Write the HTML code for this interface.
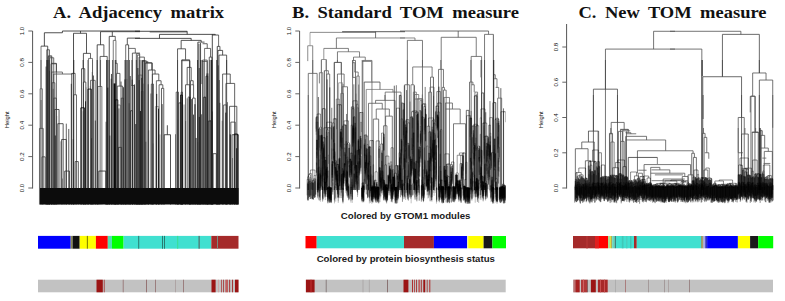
<!DOCTYPE html>
<html><head><meta charset="utf-8"><style>
html,body{margin:0;padding:0;background:#fff;width:785px;height:301px;overflow:hidden}
svg{display:block}
.tk{font-family:"Liberation Sans",sans-serif;font-size:6.2px;fill:#111}
.hl{font-family:"Liberation Sans",sans-serif;font-size:5.9px;fill:#111}
.ti{font-family:"Liberation Serif",serif;font-weight:bold;font-size:17px;fill:#111;word-spacing:3.5px;text-anchor:middle}
.st{font-family:"Liberation Sans",sans-serif;font-weight:bold;font-size:9.8px;fill:#1a1a1a;text-anchor:middle}
</style></head><body>
<svg width="785" height="301" viewBox="0 0 785 301" shape-rendering="auto">
<line x1="32.6" y1="188.5" x2="32.6" y2="31.0" stroke="#555" stroke-width="1"/>
<line x1="28.3" y1="188.0" x2="32.6" y2="188.0" stroke="#555" stroke-width="0.9"/>
<text x="0" y="0" transform="translate(24.0,188.0) rotate(-90)" text-anchor="middle" class="tk">0.0</text>
<line x1="28.3" y1="156.6" x2="32.6" y2="156.6" stroke="#555" stroke-width="0.9"/>
<text x="0" y="0" transform="translate(24.0,156.6) rotate(-90)" text-anchor="middle" class="tk">0.2</text>
<line x1="28.3" y1="125.2" x2="32.6" y2="125.2" stroke="#555" stroke-width="0.9"/>
<text x="0" y="0" transform="translate(24.0,125.2) rotate(-90)" text-anchor="middle" class="tk">0.4</text>
<line x1="28.3" y1="93.8" x2="32.6" y2="93.8" stroke="#555" stroke-width="0.9"/>
<text x="0" y="0" transform="translate(24.0,93.8) rotate(-90)" text-anchor="middle" class="tk">0.6</text>
<line x1="28.3" y1="62.4" x2="32.6" y2="62.4" stroke="#555" stroke-width="0.9"/>
<text x="0" y="0" transform="translate(24.0,62.4) rotate(-90)" text-anchor="middle" class="tk">0.8</text>
<line x1="28.3" y1="31.0" x2="32.6" y2="31.0" stroke="#555" stroke-width="0.9"/>
<text x="0" y="0" transform="translate(24.0,31.0) rotate(-90)" text-anchor="middle" class="tk">1.0</text>
<text x="0" y="0" transform="translate(9.3,119.8) rotate(-90)" text-anchor="middle" class="hl">Height</text>
<line x1="299.6" y1="188.5" x2="299.6" y2="31.0" stroke="#555" stroke-width="1"/>
<line x1="295.3" y1="188.0" x2="299.6" y2="188.0" stroke="#555" stroke-width="0.9"/>
<text x="0" y="0" transform="translate(291.0,188.0) rotate(-90)" text-anchor="middle" class="tk">0.0</text>
<line x1="295.3" y1="156.6" x2="299.6" y2="156.6" stroke="#555" stroke-width="0.9"/>
<text x="0" y="0" transform="translate(291.0,156.6) rotate(-90)" text-anchor="middle" class="tk">0.2</text>
<line x1="295.3" y1="125.2" x2="299.6" y2="125.2" stroke="#555" stroke-width="0.9"/>
<text x="0" y="0" transform="translate(291.0,125.2) rotate(-90)" text-anchor="middle" class="tk">0.4</text>
<line x1="295.3" y1="93.8" x2="299.6" y2="93.8" stroke="#555" stroke-width="0.9"/>
<text x="0" y="0" transform="translate(291.0,93.8) rotate(-90)" text-anchor="middle" class="tk">0.6</text>
<line x1="295.3" y1="62.4" x2="299.6" y2="62.4" stroke="#555" stroke-width="0.9"/>
<text x="0" y="0" transform="translate(291.0,62.4) rotate(-90)" text-anchor="middle" class="tk">0.8</text>
<line x1="295.3" y1="31.0" x2="299.6" y2="31.0" stroke="#555" stroke-width="0.9"/>
<text x="0" y="0" transform="translate(291.0,31.0) rotate(-90)" text-anchor="middle" class="tk">1.0</text>
<text x="0" y="0" transform="translate(276.3,119.8) rotate(-90)" text-anchor="middle" class="hl">Height</text>
<line x1="566.6" y1="188.5" x2="566.6" y2="24.0" stroke="#555" stroke-width="1"/>
<line x1="562.3000000000001" y1="188.0" x2="566.6" y2="188.0" stroke="#555" stroke-width="0.9"/>
<text x="0" y="0" transform="translate(558.0,188.0) rotate(-90)" text-anchor="middle" class="tk">0.0</text>
<line x1="562.3000000000001" y1="152.8" x2="566.6" y2="152.8" stroke="#555" stroke-width="0.9"/>
<text x="0" y="0" transform="translate(558.0,152.8) rotate(-90)" text-anchor="middle" class="tk">0.2</text>
<line x1="562.3000000000001" y1="117.5" x2="566.6" y2="117.5" stroke="#555" stroke-width="0.9"/>
<text x="0" y="0" transform="translate(558.0,117.5) rotate(-90)" text-anchor="middle" class="tk">0.4</text>
<line x1="562.3000000000001" y1="82.2" x2="566.6" y2="82.2" stroke="#555" stroke-width="0.9"/>
<text x="0" y="0" transform="translate(558.0,82.2) rotate(-90)" text-anchor="middle" class="tk">0.6</text>
<line x1="562.3000000000001" y1="47.0" x2="566.6" y2="47.0" stroke="#555" stroke-width="0.9"/>
<text x="0" y="0" transform="translate(558.0,47.0) rotate(-90)" text-anchor="middle" class="tk">0.8</text>
<text x="0" y="0" transform="translate(543.3,119.8) rotate(-90)" text-anchor="middle" class="hl">Height</text>
<text x="138.6" y="18.3" class="ti" textLength="171" lengthAdjust="spacingAndGlyphs">A. Adjacency matrix</text>
<text x="405.5" y="18.2" class="ti" textLength="227" lengthAdjust="spacingAndGlyphs">B. Standard TOM measure</text>
<text x="672.5" y="17.9" class="ti" textLength="188" lengthAdjust="spacingAndGlyphs">C. New TOM measure</text>
<text x="405.6" y="219" class="st" textLength="129.6" lengthAdjust="spacingAndGlyphs">Colored by GTOM1 modules</text>
<text x="405.8" y="262.4" class="st" textLength="178.3" lengthAdjust="spacingAndGlyphs">Colored by protein biosynthesis status</text>
<rect x="38" y="235.9" width="32.70" height="12.799999999999983" fill="#0000FF"/>
<rect x="70.7" y="235.9" width="1.90" height="12.799999999999983" fill="#8a8a50"/>
<rect x="72.6" y="235.9" width="7.10" height="12.799999999999983" fill="#111111"/>
<rect x="79.7" y="235.9" width="16.20" height="12.799999999999983" fill="#FFFF00"/>
<rect x="86.9" y="235.9" width="0.70" height="12.799999999999983" fill="#404000"/>
<rect x="95.9" y="235.9" width="11.90" height="12.799999999999983" fill="#FF0000"/>
<rect x="107.8" y="235.9" width="4.20" height="12.799999999999983" fill="#50e0b0"/>
<rect x="112" y="235.9" width="11.60" height="12.799999999999983" fill="#00FF00"/>
<rect x="123.6" y="235.9" width="87.70" height="12.799999999999983" fill="#40E0D0"/>
<rect x="138.2" y="235.9" width="1.00" height="12.799999999999983" fill="#2a7a70"/>
<rect x="162" y="235.9" width="1.00" height="12.799999999999983" fill="#2a7a70"/>
<rect x="164" y="235.9" width="1.00" height="12.799999999999983" fill="#2a7a70"/>
<rect x="177.2" y="235.9" width="1.00" height="12.799999999999983" fill="#38e090"/>
<rect x="198.6" y="235.9" width="1.00" height="12.799999999999983" fill="#555"/>
<rect x="211.3" y="235.9" width="27.20" height="12.799999999999983" fill="#A52A2A"/>
<rect x="217" y="235.9" width="1.00" height="12.799999999999983" fill="#7a8a80"/>
<rect x="38" y="279.7" width="200.50" height="12.600000000000023" fill="#C2C2C2"/>
<rect x="96.5" y="279.7" width="6.30" height="12.600000000000023" fill="#9b1414"/>
<rect x="103.8" y="279.7" width="0.80" height="12.600000000000023" fill="#a03030"/>
<rect x="122.8" y="279.7" width="0.70" height="12.600000000000023" fill="#8a6060"/>
<rect x="146" y="279.7" width="0.80" height="12.600000000000023" fill="#8a6060"/>
<rect x="155.3" y="279.7" width="0.70" height="12.600000000000023" fill="#8a6060"/>
<rect x="175" y="279.7" width="0.60" height="12.600000000000023" fill="#a09090"/>
<rect x="183" y="279.7" width="0.70" height="12.600000000000023" fill="#8a6060"/>
<rect x="211.5" y="279.7" width="4.10" height="12.600000000000023" fill="#9b1414"/>
<rect x="218.2" y="279.7" width="0.80" height="12.600000000000023" fill="#d0a0a0"/>
<rect x="221.2" y="279.7" width="0.80" height="12.600000000000023" fill="#b04040"/>
<rect x="223.2" y="279.7" width="0.80" height="12.600000000000023" fill="#a03030"/>
<rect x="225.3" y="279.7" width="2.70" height="12.600000000000023" fill="#c06060"/>
<rect x="229.3" y="279.7" width="0.80" height="12.600000000000023" fill="#9b1414"/>
<rect x="232.2" y="279.7" width="0.80" height="12.600000000000023" fill="#9b1414"/>
<rect x="235" y="279.7" width="3.50" height="12.600000000000023" fill="#9b1414"/>
<rect x="305.5" y="236" width="11.20" height="12.300000000000011" fill="#FF0000"/>
<rect x="316.7" y="236" width="87.30" height="12.300000000000011" fill="#40E0D0"/>
<rect x="404" y="236" width="29.90" height="12.300000000000011" fill="#A52A2A"/>
<rect x="433.9" y="236" width="33.10" height="12.300000000000011" fill="#0000FF"/>
<rect x="467" y="236" width="1.20" height="12.300000000000011" fill="#f0f0a0"/>
<rect x="468.2" y="236" width="15.40" height="12.300000000000011" fill="#FFFF00"/>
<rect x="483.6" y="236" width="8.80" height="12.300000000000011" fill="#1a1a1a"/>
<rect x="492.4" y="236" width="13.60" height="12.300000000000011" fill="#00FF00"/>
<rect x="305.9" y="279.7" width="199.80" height="12.600000000000023" fill="#C2C2C2"/>
<rect x="305.9" y="279.7" width="8.70" height="12.600000000000023" fill="#9b1414"/>
<rect x="310.5" y="279.7" width="1.00" height="12.600000000000023" fill="#c03030"/>
<rect x="325.8" y="279.7" width="0.70" height="12.600000000000023" fill="#706060"/>
<rect x="362.7" y="279.7" width="0.60" height="12.600000000000023" fill="#a09a9a"/>
<rect x="368.9" y="279.7" width="0.60" height="12.600000000000023" fill="#a09a9a"/>
<rect x="387.1" y="279.7" width="0.70" height="12.600000000000023" fill="#705050"/>
<rect x="403.5" y="279.7" width="4.90" height="12.600000000000023" fill="#9b1414"/>
<rect x="412" y="279.7" width="1.00" height="12.600000000000023" fill="#b03030"/>
<rect x="414.2" y="279.7" width="0.80" height="12.600000000000023" fill="#b03030"/>
<rect x="416.2" y="279.7" width="0.80" height="12.600000000000023" fill="#a02020"/>
<rect x="418.3" y="279.7" width="2.00" height="12.600000000000023" fill="#c06060"/>
<rect x="421.3" y="279.7" width="0.70" height="12.600000000000023" fill="#a02020"/>
<rect x="423.3" y="279.7" width="1.90" height="12.600000000000023" fill="#9b1414"/>
<rect x="426.8" y="279.7" width="0.70" height="12.600000000000023" fill="#a02020"/>
<rect x="429.3" y="279.7" width="1.00" height="12.600000000000023" fill="#b03030"/>
<rect x="573" y="236" width="22.10" height="12.300000000000011" fill="#A52A2A"/>
<rect x="586" y="236" width="2.00" height="12.300000000000011" fill="#b03030"/>
<rect x="595.1" y="236" width="12.90" height="12.300000000000011" fill="#FF0000"/>
<rect x="595.1" y="236" width="3.90" height="12.300000000000011" fill="#e02020"/>
<rect x="608" y="236" width="2.00" height="12.300000000000011" fill="#a8e090"/>
<rect x="610" y="236" width="1.30" height="12.300000000000011" fill="#e0e040"/>
<rect x="611.3" y="236" width="0.90" height="12.300000000000011" fill="#909030"/>
<rect x="612.2" y="236" width="2.50" height="12.300000000000011" fill="#60d8c0"/>
<rect x="614.7" y="236" width="1.20" height="12.300000000000011" fill="#2a6a60"/>
<rect x="615.9" y="236" width="18.10" height="12.300000000000011" fill="#40E0D0"/>
<rect x="621.8" y="236" width="1.70" height="12.300000000000011" fill="#40c8b8"/>
<rect x="626" y="236" width="1.50" height="12.300000000000011" fill="#48d0c0"/>
<rect x="630.2" y="236" width="1.20" height="12.300000000000011" fill="#40c0b0"/>
<rect x="634" y="236" width="2.80" height="12.300000000000011" fill="#A52A2A"/>
<rect x="636.8" y="236" width="64.30" height="12.300000000000011" fill="#40E0D0"/>
<rect x="701.1" y="236" width="0.70" height="12.300000000000011" fill="#555"/>
<rect x="701.8" y="236" width="0.80" height="12.300000000000011" fill="#e0d020"/>
<rect x="702.6" y="236" width="0.80" height="12.300000000000011" fill="#444"/>
<rect x="703.4" y="236" width="1.80" height="12.300000000000011" fill="#a8a8e8"/>
<rect x="705.2" y="236" width="1.90" height="12.300000000000011" fill="#3030c0"/>
<rect x="707.1" y="236" width="30.80" height="12.300000000000011" fill="#0000FF"/>
<rect x="737.9" y="236" width="12.20" height="12.300000000000011" fill="#FFFF00"/>
<rect x="750.1" y="236" width="8.10" height="12.300000000000011" fill="#1a1a1a"/>
<rect x="758.2" y="236" width="15.00" height="12.300000000000011" fill="#00FF00"/>
<rect x="573" y="279.7" width="200.00" height="12.600000000000023" fill="#C2C2C2"/>
<rect x="573.4" y="279.7" width="1.60" height="12.600000000000023" fill="#c07070"/>
<rect x="575.3" y="279.7" width="4.40" height="12.600000000000023" fill="#a82020"/>
<rect x="581" y="279.7" width="6.00" height="12.600000000000023" fill="#b03838"/>
<rect x="583" y="279.7" width="1.00" height="12.600000000000023" fill="#d06060"/>
<rect x="587.4" y="279.7" width="0.60" height="12.600000000000023" fill="#602020"/>
<rect x="590.9" y="279.7" width="4.90" height="12.600000000000023" fill="#9b1414"/>
<rect x="597.9" y="279.7" width="9.80" height="12.600000000000023" fill="#a82828"/>
<rect x="600" y="279.7" width="1.00" height="12.600000000000023" fill="#c85050"/>
<rect x="604" y="279.7" width="1.00" height="12.600000000000023" fill="#c85050"/>
<rect x="615.2" y="279.7" width="0.60" height="12.600000000000023" fill="#a0a0a0"/>
<rect x="625.3" y="279.7" width="0.70" height="12.600000000000023" fill="#a06060"/>
<rect x="648.3" y="279.7" width="0.60" height="12.600000000000023" fill="#908080"/>
<rect x="664.1" y="279.7" width="0.60" height="12.600000000000023" fill="#908080"/>
<rect x="668.3" y="279.7" width="0.60" height="12.600000000000023" fill="#a09090"/>
<rect x="689" y="279.7" width="0.60" height="12.600000000000023" fill="#806060"/>
<path d="M51.24 80.48V204.50" stroke="rgb(211,211,211)" stroke-width="0.8" fill="none"/>
<path d="M86.30 87.32V204.50" stroke="rgb(185,185,185)" stroke-width="0.8" fill="none"/>
<path d="M56.79 116.00V204.50" stroke="rgb(171,171,171)" stroke-width="0.8" fill="none"/>
<path d="M90.29 86.15V204.50" stroke="rgb(157,157,157)" stroke-width="0.8" fill="none"/>
<path d="M155.40 106.51V204.50M155.40 106.51H158.77M158.77 106.51V204.50" stroke="rgb(156,156,156)" stroke-width="0.8" fill="none"/>
<path d="M150.51 93.53V204.50" stroke="rgb(152,152,152)" stroke-width="0.8" fill="none"/>
<path d="M338.64 82.82V190.00M338.64 82.82H342.60M342.60 82.82V190.00" stroke="rgb(151,151,151)" stroke-width="0.8" fill="none"/>
<path d="M310.03 32.36V45.73M371.56 61.34V81.40" stroke="rgb(150,150,150)" stroke-width="0.8" fill="none"/>
<path d="M143.36 83.61V204.50" stroke="rgb(146,146,146)" stroke-width="0.8" fill="none"/>
<path d="M355.51 77.39V190.00" stroke="rgb(140,140,140)" stroke-width="0.8" fill="none"/>
<path d="M60.80 141.31V204.50" stroke="rgb(133,133,133)" stroke-width="0.8" fill="none"/>
<path d="M62.43 178.56V204.50M159.93 134.45V204.50M366.21 89.43H392.96" stroke="rgb(130,130,130)" stroke-width="0.8" fill="none"/>
<path d="M151.89 93.46V204.50" stroke="rgb(129,129,129)" stroke-width="0.8" fill="none"/>
<path d="M422.30 94.45V190.00" stroke="rgb(125,125,125)" stroke-width="0.8" fill="none"/>
<path d="M117.20 105.00V204.50M117.20 105.00H120.27M120.27 105.00V204.50" stroke="rgb(124,124,124)" stroke-width="0.8" fill="none"/>
<path d="M137.16 73.22V204.50M307.76 45.73H312.71M323.81 48.41V59.51M321.40 59.51H326.48M321.40 59.51V190.00M326.48 59.51V190.00M738.22 128.00V152.75" stroke="rgb(120,120,120)" stroke-width="0.8" fill="none"/>
<path d="M184.05 104.49V204.50" stroke="rgb(118,118,118)" stroke-width="0.8" fill="none"/>
<path d="M232.47 158.01V204.50M401.87 101.91V190.00" stroke="rgb(117,117,117)" stroke-width="0.8" fill="none"/>
<path d="M336.30 99.14V190.00M336.30 99.14H339.34M339.34 99.14V190.00" stroke="rgb(114,114,114)" stroke-width="0.8" fill="none"/>
<path d="M87.84 60.00V204.50M310.03 32.36H375.58M307.76 45.73V61.12M336.38 37.97H405.00M337.45 51.75H359.52M400.00 37.97H414.98M321.40 60.00V72.71M322.74 72.71V190.00M366.21 89.43V190.00M392.96 89.43V92.10M413.38 92.10H416.32M413.38 92.10V190.00M416.32 92.10V190.00M414.71 94.51H418.73M414.71 94.51V190.00M418.73 94.51V190.00M417.39 98.79H422.74M417.39 98.79V190.00M422.74 98.79V190.00M612.54 133.35V142.04" stroke="rgb(110,110,110)" stroke-width="0.8" fill="none"/>
<path d="M703.04 95.00V119.08" stroke="rgb(110,110,110)" stroke-width="1.2" fill="none"/>
<path d="M598.36 130.94V190.00" stroke="rgb(110,110,110)" stroke-width="1.5" fill="none"/>
<path d="M129.12 103.22V204.50" stroke="rgb(108,108,108)" stroke-width="0.8" fill="none"/>
<path d="M358.69 84.55V190.00" stroke="rgb(105,105,105)" stroke-width="0.8" fill="none"/>
<path d="M91.82 138.20V204.50" stroke="rgb(104,104,104)" stroke-width="0.8" fill="none"/>
<path d="M436.81 91.57V190.00M436.81 91.57H440.60M440.60 91.57V190.00" stroke="rgb(103,103,103)" stroke-width="0.8" fill="none"/>
<path d="M430.02 87.11V190.00M430.02 87.11H433.98M433.98 87.11V190.00" stroke="rgb(101,101,101)" stroke-width="0.8" fill="none"/>
<path d="M48.07 56.69V204.50M48.07 56.69H51.66M51.66 56.69V204.50M83.28 111.28V204.50M312.71 45.73V190.00M323.81 48.41H348.42M334.11 62.45H341.47M334.11 62.45V190.00M341.47 62.45V190.00M359.52 51.75V57.10M353.50 57.10H365.28M365.28 57.10V60.45M362.87 60.45H371.96M362.87 60.45V190.00M371.96 60.45V190.00M414.98 37.97V40.38M319.40 72.71H322.74M319.40 72.71V83.41M326.08 60.00V70.70M328.36 70.70V74.04M342.13 86.75H347.49M342.13 86.75V93.44M340.80 93.44H343.47M340.80 93.44V190.00M343.47 93.44V190.00M354.57 72.04H358.19M358.19 72.04V76.05M385.21 92.10H400.99M385.21 92.10V190.00M400.99 92.10V190.00M412.71 66.96H432.10M412.71 66.96V84.75M410.97 84.75H414.04M410.97 84.75V190.00M414.04 84.75V190.00M444.14 97.45H449.49M444.14 97.45V190.00M449.49 97.45V190.00M474.91 92.10H477.58M474.91 92.10V190.00M477.58 92.10V190.00M480.93 60.00V77.39M495.64 87.42H498.72M498.72 87.42V98.12M497.65 98.12H501.66M497.65 98.12V190.00M501.66 98.12V190.00M308.29 95.00V190.00M414.71 99.01H422.07M414.71 99.01V190.00M422.07 99.01V190.00M410.03 101.56V190.00M772.73 95.00V127.77M594.34 142.04V190.00M598.76 152.75H601.43M598.76 152.75V190.00M601.43 152.75V190.00M610.80 142.04H614.14M610.80 142.04V190.00M614.14 142.04V190.00M657.36 157.43V164.07M651.54 180.68H688.09" stroke="rgb(100,100,100)" stroke-width="0.8" fill="none"/>
<path d="M355.83 93.60V190.00" stroke="rgb(99,99,99)" stroke-width="0.8" fill="none"/>
<path d="M489.98 101.09V190.00" stroke="rgb(98,98,98)" stroke-width="0.8" fill="none"/>
<path d="M353.84 84.30V190.00M396.35 85.22V190.00M471.14 110.95V190.00" stroke="rgb(97,97,97)" stroke-width="0.8" fill="none"/>
<path d="M185.61 121.03V204.50M331.78 107.77V190.00M425.19 86.93V190.00" stroke="rgb(96,96,96)" stroke-width="0.8" fill="none"/>
<path d="M222.23 120.75V204.50M476.81 93.68V190.00" stroke="rgb(94,94,94)" stroke-width="0.8" fill="none"/>
<path d="M152.99 143.48V204.50M41.02 46.13V204.50M88.50 58.44H92.52M88.50 58.44V204.50M92.52 58.44V204.50M204.56 48.41V204.50M41.02 60.00V88.76M40.08 88.76H42.36M40.08 88.76V204.50M42.36 88.76V204.50M92.52 60.00V80.33M100.54 60.00V86.48M141.02 60.00V204.50M203.22 61.34V204.50M443.58 96.94V190.00" stroke="rgb(93,93,93)" stroke-width="0.8" fill="none"/>
<path d="M175.50 134.22V204.50M406.54 90.07V190.00" stroke="rgb(92,92,92)" stroke-width="0.8" fill="none"/>
<path d="M343.12 84.10V190.00" stroke="rgb(91,91,91)" stroke-width="0.8" fill="none"/>
<path d="M336.38 37.97V48.41M348.42 48.41V51.75M337.45 51.75V62.45M353.50 57.10V60.45M352.57 60.45H355.51M352.57 60.45V190.00M355.51 60.45V190.00M441.20 37.31H476.24M441.20 37.31V190.00M476.24 37.31V56.43M471.16 56.43H481.59M471.16 56.43V190.00M481.59 56.43V190.00M488.55 31.02V34.36M484.54 34.36H493.37M484.54 34.36V190.00M407.36 40.38H422.47M407.36 40.38V190.00M422.47 40.38V190.00M312.71 60.00V73.38M308.29 73.38H317.12M308.29 73.38V190.00M317.12 73.38V190.00M324.34 70.70H328.36M326.75 74.04H329.70M326.75 74.04V190.00M329.70 74.04V190.00M337.45 60.00V62.41M334.51 62.41H341.20M334.51 62.41V190.00M341.20 62.41V74.04M337.45 74.04H344.14M337.45 74.04V190.00M344.14 74.04V86.75M347.49 86.75V190.00M352.84 62.68H354.84M352.84 77.39H355.51M354.84 62.68V72.04M356.85 76.05H359.12M356.85 76.05V190.00M359.12 76.05V190.00M362.20 60.00V190.00M362.20 61.34H371.56M407.36 60.00V84.75M404.68 84.75H409.36M404.68 84.75V190.00M409.36 84.75V190.00M422.47 60.00V66.96M432.10 66.96V77.12M430.50 77.12H433.44M430.50 77.12V92.10M428.76 92.10H431.43M428.76 92.10V190.00M431.43 92.10V190.00M440.80 60.00V69.36M438.52 69.36H443.47M438.52 69.36V190.00M443.47 69.36V87.42M442.13 87.42H444.41M442.13 87.42V190.00M444.41 87.42V90.10M443.47 90.10H446.15M443.47 90.10V190.00M446.15 90.10V190.00M470.89 60.00V82.07M469.56 82.07H472.90M472.90 82.07V84.75M471.56 84.75H474.24M474.24 84.75V92.10M481.59 60.00V190.00M493.63 74.71H495.24M495.24 74.71V78.73M494.30 78.73H496.98M496.98 78.73V87.42M384.94 95.00V100.35M375.58 100.35H394.97M375.58 100.35V103.29M368.49 103.29H382.26M368.49 103.29V190.00M382.26 103.29V109.04M376.24 109.04H389.35M376.24 109.04V119.08M373.30 119.08H378.65M373.30 119.08V190.00M378.65 119.08V190.00M389.35 109.04V116.13M385.61 116.13H392.30M385.61 116.13V125.77M383.60 125.77H386.94M383.60 125.77V190.00M386.94 125.77V190.00M392.30 116.13V190.00M445.21 103.03H452.43M452.43 103.03V109.04M445.48 109.04H460.19M445.48 103.03V190.00M460.19 109.04V123.76M453.50 123.76H465.54M453.50 123.76V190.00M465.54 123.76V190.00M622.84 130.85H630.19M626.18 133.79H636.21M750.26 96.34V112.39M750.26 96.34H755.21M625.51 132.68H630.86M630.86 132.68V134.02M704.78 152.75H708.79M708.79 152.75V158.77M738.22 152.75H742.90M760.96 148.06H768.31M768.31 148.06V151.41M764.30 151.41H772.33M772.33 151.41V190.00M764.30 151.41V190.00M762.30 158.10H766.31M763.63 163.45H770.32M625.80 139.98H665.66M637.43 150.78H693.07M644.07 164.57H690.58M650.71 167.39H659.85M659.85 167.39V169.88M651.54 169.88H669.82M669.82 169.88V173.21M650.71 173.21H684.77M684.77 173.21V176.53M682.28 176.53H688.09M682.28 176.53V190.00M688.09 176.53V190.00M654.87 174.87H683.11M663.17 179.02H684.77M663.17 179.02V190.00M638.26 170.22H646.56M638.26 173.21H642.41M638.26 173.21V190.00M642.41 173.21V190.00M639.92 176.53H644.07M639.92 176.53V190.00M644.07 176.53V190.00" stroke="rgb(90,90,90)" stroke-width="0.8" fill="none"/>
<path d="M138.48 75.07V204.50M138.48 75.07H142.00M142.00 75.07V204.50" stroke="rgb(89,89,89)" stroke-width="0.8" fill="none"/>
<path d="M113.25 40.38H115.93M113.25 40.38V204.50M115.93 40.38V204.50M137.73 68.03V204.50M136.34 60.00V204.50" stroke="rgb(88,88,88)" stroke-width="0.8" fill="none"/>
<path d="M188.20 96.96V204.50M188.20 96.96H190.15M190.15 96.96V204.50" stroke="rgb(87,87,87)" stroke-width="0.8" fill="none"/>
<path d="M126.93 78.93V204.50" stroke="rgb(85,85,85)" stroke-width="0.8" fill="none"/>
<path d="M414.46 85.45V190.00" stroke="rgb(83,83,83)" stroke-width="0.8" fill="none"/>
<path d="M73.21 139.11V204.50M92.30 72.00V204.50M41.05 100.00V128.42M51.72 72.04H62.42M62.42 72.04V74.04M51.72 72.04V204.50M90.51 80.33H95.19M90.51 80.33V204.50M95.19 80.33V204.50M97.87 86.48H101.88M97.87 86.48V204.50M101.88 86.48V204.50M139.68 60.00V80.06M346.64 113.96V190.00" stroke="rgb(82,82,82)" stroke-width="0.8" fill="none"/>
<path d="M125.29 60.00V204.50M127.03 60.00V204.50" stroke="rgb(82,82,82)" stroke-width="1.5" fill="none"/>
<path d="M197.60 60.00V204.50" stroke="rgb(82,82,82)" stroke-width="1.2" fill="none"/>
<path d="M218.20 65.35V204.50" stroke="rgb(82,82,82)" stroke-width="1.0" fill="none"/>
<path d="M227.45 102.17V204.50M497.18 122.93V190.00" stroke="rgb(81,81,81)" stroke-width="0.8" fill="none"/>
<path d="M187.19 98.30V204.50M375.58 31.69V37.97M458.19 31.02V37.31M352.84 60.00V77.39M364.21 82.07V190.00M379.99 82.07V89.43M469.56 82.07V190.00M653.60 31.29H675.00M653.60 31.29V49.08M605.45 49.08H675.00M605.45 49.08V190.00M670.00 31.29H740.89M740.89 31.29V34.36M670.00 49.08H701.84M701.84 49.08V190.00M701.84 60.00V190.00M702.77 76.72V190.00M752.66 72.97H766.04M752.66 72.97V96.12M750.93 96.12H754.94M750.93 96.12V190.00M754.94 96.12V190.00M766.04 72.97V80.06M759.35 80.06H772.73M772.73 80.06V190.00M611.20 122.42H624.17M611.20 122.42V133.79M609.86 133.79H612.13M609.86 133.79V190.00M612.13 133.79V190.00M624.17 122.42V129.78M620.56 129.78H628.86M620.56 129.78V190.00M622.84 130.05V190.00M738.22 117.47H744.24M738.22 117.47V190.00M744.24 117.47V190.00M755.21 96.34V132.45M751.86 132.45H758.28M581.77 142.04H594.34M581.77 142.04V148.73M575.35 148.73H588.06M575.35 148.73V190.00M588.06 148.73V160.77M585.38 160.77H590.73M585.38 160.77V190.00M590.73 160.77V190.00M610.80 128.00V133.35M609.46 133.35H612.54M609.46 133.35V190.00M620.16 129.34H628.19M618.42 131.34H622.43M618.42 131.34V190.00M622.43 131.34V141.38M620.83 141.38H624.17M620.83 141.38V190.00M624.17 141.38V190.00M628.19 129.34V132.68M626.45 131.34V190.00M703.44 128.00V133.35M702.37 133.35H705.05M702.37 133.35V190.00M705.05 133.35V137.36M704.11 137.36H706.78M704.11 137.36V190.00M706.78 137.36V152.75M744.91 128.00V134.02M741.56 134.02H748.25M741.56 134.02V156.09M752.26 132.01V190.00M752.26 132.01H758.28M755.61 128.00V132.01M760.29 130.68H762.30M762.30 130.68V135.36M760.69 135.36H764.70M764.70 135.36V148.06M760.96 135.36V190.00M625.80 136.33H646.56M646.56 136.33V139.98M665.66 139.98V150.78M637.43 150.78V173.21M693.07 150.78V153.27M691.74 153.27H694.40M691.74 153.27V190.00M694.40 153.27V157.43M693.41 157.43H696.40M693.41 157.43V190.00M696.40 157.43V190.00M644.07 164.57V190.00M690.58 164.57V174.87M688.09 174.87H693.07M688.09 174.87V190.00M693.07 174.87V190.00M650.71 167.39V190.00" stroke="rgb(80,80,80)" stroke-width="0.8" fill="none"/>
<path d="M702.24 60.00V76.05" stroke="rgb(80,80,80)" stroke-width="1.2" fill="none"/>
<path d="M181.74 96.77V204.50" stroke="rgb(79,79,79)" stroke-width="0.8" fill="none"/>
<path d="M148.70 130.30V204.50" stroke="rgb(78,78,78)" stroke-width="0.8" fill="none"/>
<path d="M39.47 128.42H43.26M39.47 128.42V204.50M43.26 128.42V204.50M125.69 44.80V204.50M128.63 48.41H135.32M135.32 48.41V53.09M53.73 74.04H72.45M156.40 80.73V204.50" stroke="rgb(77,77,77)" stroke-width="0.8" fill="none"/>
<path d="M137.68 68.03V204.50" stroke="rgb(77,77,77)" stroke-width="1.5" fill="none"/>
<path d="M216.86 60.00V204.50" stroke="rgb(77,77,77)" stroke-width="1.2" fill="none"/>
<path d="M53.22 88.80V204.50" stroke="rgb(76,76,76)" stroke-width="0.8" fill="none"/>
<path d="M416.70 115.03V190.00M466.30 110.35V190.00M466.30 110.35H468.93M468.93 110.35V190.00M503.52 108.36V190.00" stroke="rgb(75,75,75)" stroke-width="0.8" fill="none"/>
<path d="M351.38 106.90V190.00M351.38 106.90H353.79M353.79 106.90V190.00M433.52 95.82V190.00" stroke="rgb(72,72,72)" stroke-width="0.8" fill="none"/>
<path d="M46.77 49.75H49.45M46.77 49.75V204.50M49.45 49.75V204.50M48.38 55.77H51.72M48.38 55.77V204.50M51.72 55.77V204.50M49.71 57.77H53.73M49.71 57.77V204.50M53.73 57.77V204.50M51.05 63.79H56.40M51.05 63.79V204.50M56.40 63.79V204.50M137.33 55.10H140.00M137.33 55.10V204.50M149.71 31.96H187.17M204.56 48.41H210.58M218.60 35.03V46.40M117.26 63.34V73.38M136.66 60.00V204.50M159.08 84.75V204.50M201.88 60.00V84.08" stroke="rgb(71,71,71)" stroke-width="0.8" fill="none"/>
<path d="M199.21 68.03V204.50" stroke="rgb(71,71,71)" stroke-width="1.0" fill="none"/>
<path d="M400.00 31.02H488.55M364.21 82.07H379.99M484.54 60.00V190.00M722.43 34.36H759.35M722.43 34.36V76.63M759.35 34.36V73.02M605.45 60.00V89.16M593.41 89.16H617.49M593.41 89.16V190.00M617.49 89.16V190.00M722.43 60.00V76.72M702.77 76.72H741.56M741.56 76.72V190.00M759.35 60.00V72.97M759.35 80.06V190.00M593.41 95.00V131.12M588.46 131.12H598.36M617.49 95.00V122.42M741.56 95.00V117.47M759.35 95.00V190.00M760.96 129.78V190.00M588.46 130.94V142.04M628.29 157.43V190.00" stroke="rgb(70,70,70)" stroke-width="0.8" fill="none"/>
<path d="M197.67 142.03V204.50" stroke="rgb(68,68,68)" stroke-width="0.8" fill="none"/>
<path d="M223.63 104.95V204.50M223.63 104.95H226.67M226.67 104.95V204.50M500.83 88.14V190.00" stroke="rgb(67,67,67)" stroke-width="0.8" fill="none"/>
<path d="M177.74 119.76V204.50M42.00 156.84H45.16M42.00 156.84V204.50M45.16 156.84V204.50M90.51 53.36V58.44M115.26 36.37V40.38M125.69 44.80H128.63M181.82 59.78H189.57M181.82 59.78V204.50M189.57 59.78V204.50M202.55 60.05H207.23M202.55 60.05V204.50M207.23 60.05V204.50M136.34 53.76H139.68M136.34 53.76V204.50M139.68 53.76V204.50M139.01 57.10H144.36M139.01 57.10V204.50M144.36 57.10V204.50M142.36 61.12H147.04M142.36 61.12V204.50M147.04 61.12V204.50M145.03 63.12H152.39M145.03 63.12V204.50M152.39 63.12V204.50M53.73 74.04V82.74M53.73 98.12H56.40M53.73 98.12V204.50M56.40 98.12V204.50M73.79 94.78H76.47M73.79 94.78V204.50M76.47 94.78V204.50M109.24 60.00V204.50M112.58 60.00V204.50M115.93 60.00V63.34M115.26 63.34H117.26M116.59 73.38H119.94M119.94 73.38V86.08M121.28 98.12H123.28M121.28 98.12V204.50M123.28 98.12V204.50M152.39 74.04V204.50M156.40 80.73H161.08M151.32 84.08H153.46M151.32 84.08V204.50M153.46 84.08V204.50M177.54 60.00V204.50M176.20 92.10H178.47M176.20 92.10V204.50M178.47 92.10V204.50M181.82 60.00V204.50M191.18 84.75H193.59M193.59 84.75V98.12M192.52 98.12H195.19M192.52 98.12V204.50M195.19 98.12V204.50M207.23 61.34V204.50M209.91 60.00V204.50M394.30 85.70V190.00M481.54 92.96V190.00M481.54 92.96H483.72M483.72 92.96V190.00" stroke="rgb(66,66,66)" stroke-width="0.8" fill="none"/>
<path d="M139.28 80.06V204.50" stroke="rgb(66,66,66)" stroke-width="1.5" fill="none"/>
<path d="M485.76 112.24V190.00" stroke="rgb(65,65,65)" stroke-width="0.8" fill="none"/>
<path d="M66.30 123.65V204.50" stroke="rgb(62,62,62)" stroke-width="0.8" fill="none"/>
<path d="M230.82 122.10H235.24M230.82 122.10V204.50M235.24 122.10V204.50M100.54 31.69H140.00M100.14 56.43H107.23M100.14 56.43V204.50M107.23 56.43V204.50M132.38 53.09H140.00M132.38 53.09V204.50M177.54 48.81V204.50M185.56 48.81V59.78M202.55 43.73H207.23M207.23 43.73V48.41M210.58 48.41V57.10M209.24 57.10H211.91M209.24 57.10V204.50M211.91 57.10V204.50M51.05 63.34H56.40M56.40 63.34V72.04M52.12 82.74H54.80M52.12 82.74V204.50M54.80 82.74V204.50M75.13 73.38V94.78M83.42 82.07H85.83M83.42 82.07V204.50M85.83 82.07V204.50M116.59 73.38V204.50M117.26 86.08H122.61M117.26 86.08V204.50M122.61 86.08V204.50M131.31 85.41H133.98M133.98 85.41V204.50M143.03 60.00V91.43M141.42 91.43H143.29M141.42 91.43V204.50M143.29 91.43V204.50M145.70 62.68V204.50M148.38 70.03V204.50M152.39 74.04H158.81M158.81 74.04V80.73M161.08 80.73V84.75M159.08 84.75H162.82M162.82 84.75V88.36M161.48 88.36H163.76M161.48 88.36V204.50M163.76 88.36V204.50M181.15 92.10H182.49M181.15 92.10V204.50M182.49 92.10V204.50M185.56 84.75H189.84M185.56 84.75V204.50M189.84 84.75V204.50M190.51 80.73H193.19M190.51 80.73V204.50M193.19 80.73V84.75M201.88 61.34H207.23M219.27 80.06V204.50M222.61 74.04V204.50M225.96 83.41H234.65M225.96 83.41V204.50M234.65 83.41V204.50M493.37 34.36V190.00M404.33 85.41V190.00M433.44 77.12V190.00M394.97 100.35V190.00M748.25 134.02V190.00M758.28 132.01V190.00M625.80 136.33V190.00" stroke="rgb(60,60,60)" stroke-width="0.8" fill="none"/>
<path d="M118.93 108.43V204.50" stroke="rgb(58,58,58)" stroke-width="0.8" fill="none"/>
<path d="M148.28 84.24V204.50M178.85 102.92V204.50M178.85 102.92H181.67M181.67 102.92V204.50M322.40 108.66V190.00M322.40 108.66H325.06M325.06 108.66V190.00" stroke="rgb(56,56,56)" stroke-width="0.8" fill="none"/>
<path d="M106.10 121.74V204.50M145.77 141.74V204.50M229.56 106.32H236.82M229.56 106.32V204.50M236.82 106.32V204.50M232.08 134.73H238.40M232.08 134.73V204.50M238.40 134.73V204.50M103.89 44.80V56.43M177.54 48.81H185.56M217.26 46.40H219.94M219.94 46.40V50.41M219.00 55.10H226.63M219.00 55.10V204.50M226.63 55.10V204.50M84.76 68.69V82.07M131.98 60.00V85.41M143.03 60.67H145.70M145.03 62.01H148.38M145.70 62.68H151.72M151.72 62.68V70.03M148.38 70.03H155.06M155.06 70.03V74.04M187.17 67.36V84.75M191.18 67.36V80.73M222.61 74.04H230.24M230.24 74.04V83.41M318.30 97.03V190.00" stroke="rgb(55,55,55)" stroke-width="0.8" fill="none"/>
<path d="M210.38 120.22V204.50M327.07 79.44V190.00" stroke="rgb(52,52,52)" stroke-width="0.8" fill="none"/>
<path d="M130.48 110.72V204.50M130.48 110.72H132.45M132.45 110.72V204.50M342.13 31.69H405.00M324.34 70.70V190.00M628.29 157.43H657.36" stroke="rgb(50,50,50)" stroke-width="0.8" fill="none"/>
<path d="M493.63 60.00V190.00" stroke="rgb(50,50,50)" stroke-width="1.2" fill="none"/>
<path d="M759.89 128.00V190.00" stroke="rgb(50,50,50)" stroke-width="1.5" fill="none"/>
<path d="M49.49 70.88V204.50M75.15 161.57H78.31M75.15 161.57V204.50M78.31 161.57V204.50M118.41 147.36H121.57M118.41 147.36V204.50M121.57 147.36V204.50M213.14 153.68H216.30M213.14 153.68V204.50M216.30 153.68V204.50M54.63 109.47H59.05M54.63 109.47V204.50M59.05 109.47V204.50M57.79 123.68H63.15M57.79 123.68V204.50M63.15 123.68V204.50M61.58 139.47H66.31M61.58 139.47V204.50M66.31 139.47V204.50M64.73 171.05H69.47M64.73 171.05V204.50M69.47 171.05V204.50M80.48 31.02V33.29M83.42 53.36H90.51M83.42 53.36V204.50M127.30 38.11V44.80M128.63 44.80V204.50M212.31 35.03H218.60M217.93 50.41H222.61M222.61 50.41V55.10M46.77 60.00V204.50M81.55 68.69H84.76M139.33 80.06V204.50M144.36 60.00V204.50M181.82 60.67H189.84M187.17 67.36H191.18M200.54 60.00V204.50M226.63 60.00V74.04" stroke="rgb(49,49,49)" stroke-width="0.8" fill="none"/>
<path d="M121.03 81.56V204.50M201.66 114.31V204.50" stroke="rgb(48,48,48)" stroke-width="0.8" fill="none"/>
<path d="M68.78 128.95V204.50M208.34 121.06V204.50M208.34 121.06H211.95M211.95 121.06V204.50" stroke="rgb(47,47,47)" stroke-width="0.8" fill="none"/>
<path d="M212.28 111.46V204.50" stroke="rgb(46,46,46)" stroke-width="0.8" fill="none"/>
<path d="M493.00 102.63V190.00M493.00 102.63H495.72M495.72 102.63V190.00" stroke="rgb(45,45,45)" stroke-width="0.8" fill="none"/>
<path d="M71.30 83.80V204.50M95.33 120.58V204.50M41.02 46.13H47.71M47.71 46.13V204.50M73.52 33.29H86.50M86.50 33.29V53.36M97.20 44.80H103.89M112.31 31.69V36.37M109.24 36.37H115.26M181.15 40.38H201.21M181.15 40.38V48.81M201.21 40.38V42.12M197.87 42.12H204.56M215.26 34.36V35.03M49.04 60.00V204.50M71.78 73.38H75.13M83.15 60.00V68.69M81.55 68.69V204.50M189.84 60.67V67.36M207.90 73.38V204.50" stroke="rgb(44,44,44)" stroke-width="0.8" fill="none"/>
<path d="M474.42 95.83V190.00M474.42 95.83H476.92M476.92 95.83V190.00" stroke="rgb(42,42,42)" stroke-width="0.8" fill="none"/>
<path d="M162.13 104.12V204.50" stroke="rgb(41,41,41)" stroke-width="0.8" fill="none"/>
<path d="M399.37 95.37V190.00M399.37 95.37H400.99M400.99 95.37V190.00" stroke="rgb(40,40,40)" stroke-width="0.8" fill="none"/>
<path d="M329.76 87.42V190.00" stroke="rgb(39,39,39)" stroke-width="0.8" fill="none"/>
<path d="M98.83 171.05H105.78M98.83 171.05V204.50M105.78 171.05V204.50M164.20 134.73H170.51M164.20 134.73V204.50M170.51 134.73V204.50M167.35 125.26V134.73M62.42 31.02V32.76M44.36 32.76H62.42M44.36 32.76V46.13M100.54 31.69V44.80M97.20 44.80V204.50M109.24 36.37V204.50M127.30 38.11H140.00M187.17 31.29V34.36M159.48 34.36V38.38M135.00 38.38H191.18M191.18 38.38V40.38M197.87 42.12V204.50M198.94 43.73V204.50M73.79 60.00V73.38M97.20 60.00V204.50M106.56 60.00V204.50M115.26 60.00V204.50M142.36 60.00V204.50M206.96 73.38V204.50" stroke="rgb(38,38,38)" stroke-width="0.8" fill="none"/>
<path d="M211.51 60.00V204.50" stroke="rgb(38,38,38)" stroke-width="1.5" fill="none"/>
<path d="M123.50 87.23V204.50" stroke="rgb(37,37,37)" stroke-width="0.8" fill="none"/>
<path d="M46.10 66.55V204.50" stroke="rgb(36,36,36)" stroke-width="0.8" fill="none"/>
<path d="M93.38 75.50V204.50M111.47 73.96V204.50M219.80 102.82V204.50" stroke="rgb(34,34,34)" stroke-width="0.8" fill="none"/>
<path d="M62.42 31.02H140.00M73.52 33.29V204.50M135.00 31.29H187.17M159.48 34.36H215.26M200.54 43.06V204.50M212.31 34.36V204.50M217.26 46.40V204.50M217.93 50.41V204.50M47.71 60.00V204.50M71.78 73.38V204.50M107.90 60.00V204.50M111.24 78.73V204.50M129.30 60.00V204.50M130.24 76.05V204.50M438.88 86.68V190.00" stroke="rgb(33,33,33)" stroke-width="0.8" fill="none"/>
<path d="M109.79 135.60V204.50" stroke="rgb(32,32,32)" stroke-width="0.8" fill="none"/>
<path d="M205.99 76.13V204.50M205.99 76.13H207.73M207.73 76.13V204.50" stroke="rgb(31,31,31)" stroke-width="0.8" fill="none"/>
<path d="M132.17 79.71V204.50" stroke="rgb(30,30,30)" stroke-width="0.8" fill="none"/>
<path d="M134.50 84.43V204.50" stroke="rgb(28,28,28)" stroke-width="0.8" fill="none"/>
<path d="M141.70 77.91V204.50" stroke="rgb(27,27,27)" stroke-width="0.8" fill="none"/>
<path d="M193.54 114.61V204.50" stroke="rgb(25,25,25)" stroke-width="0.8" fill="none"/>
<path d="M203.79 97.15V204.50M203.79 97.15H205.65M205.65 97.15V204.50" stroke="rgb(18,18,18)" stroke-width="0.8" fill="none"/>
<path d="M125.00 79.37V204.50" stroke="rgb(16,16,16)" stroke-width="0.8" fill="none"/>
<path d="M199.30 116.95V204.50" stroke="rgb(14,14,14)" stroke-width="0.8" fill="none"/>
<path d="M55.30 135.49V204.50" stroke="rgb(13,13,13)" stroke-width="0.8" fill="none"/>
<path d="M135.79 124.05V204.50" stroke="rgb(11,11,11)" stroke-width="0.8" fill="none"/>
<path d="M114.59 83.41V204.50" stroke="rgb(11,11,11)" stroke-width="2.0" fill="none"/>
<path d="M115.30 99.88V204.50M115.30 99.88H117.84M117.84 99.88V204.50" stroke="rgb(9,9,9)" stroke-width="0.8" fill="none"/>
<path d="M225.79 112.63V204.50" stroke="rgb(7,7,7)" stroke-width="0.8" fill="none"/>
<path d="M85.56 101.31V204.50" stroke="rgb(1,1,1)" stroke-width="0.8" fill="none"/>
<path d="M80.80 107.81V204.50M80.80 107.81H84.45M84.45 107.81V204.50M87.95 89.09V204.50M87.95 89.09H91.37M91.37 89.09V204.50M107.82 87.64V204.50M140.47 111.03V204.50M156.70 93.91V204.50M158.52 108.68V204.50M180.52 95.05V204.50M180.52 95.05H182.33M182.33 95.05V204.50M189.79 96.96V204.50M191.76 99.12V204.50M194.94 104.19V204.50M196.08 137.94V204.50M230.30 134.38V204.50M234.22 134.04V204.50M234.22 134.04H237.59M237.59 134.04V204.50M236.63 148.21V204.50" stroke="rgb(0,0,0)" stroke-width="0.8" fill="none"/>
<path d="M316.06 118.49V128.79M316.11 118.49V131.87M316.19 121.91V134.84M316.27 161.94V172.98M316.33 161.94V172.38M316.43 117.49V130.68M316.51 148.32V157.91M316.59 163.02V172.73M316.64 163.02V175.27M316.73 162.67V176.18M316.79 152.14V165.38M316.90 140.16V154.35M316.98 140.16V149.40M317.02 140.27V149.74M317.14 140.27V150.07M317.22 142.93V155.98M317.28 142.93V158.38M317.36 179.80V192.08M317.41 182.53V191.88M317.48 183.19V197.30M317.59 184.60V195.93M317.64 184.60V198.33M317.73 178.87V192.05M317.80 178.87V188.25M317.87 179.05V193.09M317.97 179.05V190.65M318.05 181.87V192.91M318.14 181.87V191.30M318.20 174.69V189.11M318.29 177.80V189.25M318.36 177.80V187.63M318.44 166.86V177.17M318.51 166.86V176.63M318.58 130.79V140.05M318.69 184.16V196.36M318.77 184.16V199.63M318.84 170.96V181.76M318.91 173.94V185.29M318.97 177.04V188.76M319.04 177.07V191.48M319.12 177.07V191.61M319.19 186.84V200.18M319.30 187.11V200.83M319.36 187.11V197.34M319.46 159.89V172.11M319.51 135.99V147.63M319.62 135.99V150.50M319.69 183.12V197.12M319.73 183.12V197.81M319.81 182.77V196.19M319.92 172.69V186.66M319.98 172.75V188.59M320.08 172.75V185.41M320.13 174.07V183.13M320.19 175.49V187.38M320.30 175.49V190.89M320.38 175.49V187.68M320.43 187.99V201.67M320.50 187.99V199.96M320.59 176.03V190.29M320.70 176.03V188.00M320.77 167.84V177.65M320.81 170.31V183.47M320.90 170.31V179.31M320.97 170.24V186.02M321.04 140.88V153.21M321.15 140.88V154.65M321.20 135.27V150.96M321.30 176.25V188.83M321.37 176.25V185.83M321.44 175.17V186.99M321.54 135.17V144.23M321.59 136.27V148.74M321.69 136.68V149.91M321.74 136.68V149.35M321.83 136.68V151.70M321.90 136.25V148.89M321.98 144.90V159.04M322.09 165.56V176.63M322.16 165.56V181.01M322.21 135.51V145.88M322.28 167.00V178.75M322.37 172.57V186.76M322.47 172.57V181.73M322.52 187.60V198.21M322.59 187.60V201.84M322.70 186.63V200.52M322.76 186.63V196.90M322.85 186.63V198.62M322.90 186.63V200.24M322.99 186.63V198.71M323.08 183.81V193.43M323.13 183.81V199.04M323.21 172.63V183.39M323.31 172.63V186.36M323.40 163.05V175.46M323.48 163.05V176.55M323.52 148.45V157.32M323.61 148.81V158.34M323.70 148.81V161.51M323.77 150.76V165.34M323.85 150.76V162.78M323.91 167.80V179.80M323.98 167.80V181.98M324.06 155.17V167.92M324.13 155.17V169.34M324.24 178.95V193.62M324.31 178.95V191.09M324.39 178.95V193.68M324.45 177.37V191.17M324.53 177.37V189.73M324.61 179.11V192.01M324.71 179.11V194.52M324.80 182.05V196.64M324.87 182.15V197.91M324.91 182.15V196.20M324.99 173.38V183.45M325.10 173.38V187.64M325.16 182.56V192.95M325.25 187.39V196.65M325.31 187.39V200.12M325.39 182.56V197.03M325.47 160.38V175.65M325.54 160.38V174.55M325.63 166.46V178.78M325.68 182.05V195.69M325.79 182.05V194.40M325.87 181.81V194.48M325.92 170.00V184.94M326.01 178.46V194.15M326.10 178.46V191.87M326.16 171.12V182.96M326.23 171.12V182.95M326.30 168.66V179.64M326.40 175.85V191.19M326.45 175.85V184.91M326.57 168.69V181.73M326.64 168.69V181.81M326.72 174.48V189.42M326.80 174.48V186.77M326.87 171.90V186.25M326.93 171.90V181.36M327.02 184.39V196.99M327.09 184.39V196.90M327.19 167.22V177.73M327.26 167.22V179.26M327.31 167.22V177.80M327.42 187.59V197.32M327.49 187.60V202.81M327.57 187.60V201.40M327.65 187.63V199.43M327.71 187.90V198.20M327.81 187.90V200.61M327.88 187.64V203.62M327.95 187.64V201.24M328.03 187.63V196.92M328.11 187.69V197.37M328.17 187.69V199.70M328.26 187.59V202.61M328.31 176.03V188.89M328.40 176.03V188.12M328.48 155.01V163.89M328.54 187.83V197.99M328.63 187.83V199.35M328.72 187.73V200.59M328.80 187.73V201.75M328.86 186.72V196.53M328.97 186.72V196.81M329.03 186.72V198.41M329.09 187.26V199.18M329.19 187.90V202.22M329.26 187.90V202.61M329.34 187.56V199.14M329.41 187.27V201.30M329.51 187.54V198.73M329.57 187.54V198.81M329.65 187.77V202.09M329.73 187.77V203.07M329.82 187.59V200.53M329.85 187.59V197.82M329.96 187.54V203.06M330.04 187.73V199.87M330.10 187.73V197.42M330.18 187.98V200.81M330.24 187.98V198.68M330.32 187.93V198.81M330.41 187.99V200.06M330.47 187.99V199.69M330.56 187.98V202.41M330.67 187.98V202.23M330.73 187.99V201.40M330.80 187.99V202.29M330.90 187.70V197.53M330.96 187.71V200.26M331.06 187.71V198.41M331.12 187.84V200.02M331.20 187.84V202.10M331.25 187.84V202.06M331.35 187.84V202.80M331.43 187.85V203.17M331.48 187.85V200.44M331.59 187.70V200.28M331.64 125.68V139.76M331.73 125.68V138.79M331.79 148.65V159.21M331.88 170.42V186.22M331.97 170.42V182.64M332.04 164.73V177.78M332.12 164.73V175.18M332.22 164.34V175.13M332.29 164.34V177.74M332.37 164.45V177.57M332.44 164.74V174.73M332.52 164.74V180.66M332.58 161.71V171.85M332.67 179.68V191.81M332.74 182.73V193.84M332.80 182.73V195.01M332.90 182.73V191.76M332.97 161.89V177.77M333.04 171.18V185.53M333.11 171.18V180.79M333.21 137.82V150.92M333.27 153.31V163.41M333.38 153.31V163.20M333.45 132.99V142.01M333.52 132.99V142.61M333.59 127.50V137.59M333.69 148.97V158.08M333.73 148.97V160.03M333.82 148.87V161.90M333.91 148.87V159.51M333.99 148.87V158.82M334.07 156.06V165.83M334.13 156.06V170.22M334.23 156.04V168.59M334.29 187.26V200.07M334.37 187.26V199.46M334.46 187.54V201.50M334.53 187.54V203.37M334.61 151.33V164.10M334.68 151.58V163.00M334.78 152.39V161.48M334.86 153.87V165.14M334.94 153.87V167.68M334.99 163.10V174.41M335.10 163.17V173.44M335.17 163.28V175.49M335.22 163.28V175.61M335.31 167.32V176.46M335.41 167.55V180.09M335.49 174.74V188.21M335.53 174.74V185.10M335.64 183.75V197.76M335.72 186.77V201.61M335.79 186.77V198.81M335.86 167.25V182.20M335.93 169.49V178.52M336.04 169.49V180.54M336.12 168.85V182.74M336.18 169.03V178.89M336.24 169.03V179.30M336.35 161.62V173.20M336.43 161.62V176.66M336.48 118.75V129.18M336.55 171.17V181.35M336.62 171.26V180.07M336.70 173.25V185.99M336.81 173.25V188.16M336.88 170.68V184.99M336.97 175.72V190.46M337.06 175.72V185.67M337.10 179.32V189.91M337.20 179.32V190.46M337.29 174.36V184.44M337.33 174.17V186.67M337.43 179.38V194.29M337.51 179.38V191.87M337.60 183.00V193.63M337.68 183.47V197.42M337.72 183.50V194.71M337.82 185.22V198.11M337.87 185.22V197.05M337.97 179.11V193.67M338.04 179.11V189.58M338.11 179.11V189.24M338.20 185.77V201.29M338.27 187.91V202.98M338.36 187.91V198.11M338.43 185.72V197.43M338.50 187.33V197.36M338.59 187.33V196.61M338.67 165.91V175.73M338.73 165.91V178.86M338.84 171.40V185.96M338.89 171.40V181.26M338.96 158.99V169.43M339.05 158.99V171.27M339.14 159.55V169.44M339.20 159.55V168.38M339.30 159.55V170.77M339.38 172.92V183.27M339.45 175.70V185.86M339.54 175.70V186.59M339.59 182.55V198.15M339.68 182.55V195.23M339.76 166.81V181.04M339.82 167.16V177.48M339.92 167.16V182.87M339.98 171.36V185.94M340.08 171.36V186.11M340.16 169.97V185.62M340.23 169.97V181.67M340.30 135.50V150.82M340.38 136.49V146.83M340.44 136.49V146.59M340.54 146.61V156.53M340.64 146.61V158.09M340.70 132.09V142.21M340.77 131.46V140.42M340.86 132.75V143.02M340.92 132.75V147.89M341.01 185.62V198.01M341.10 186.62V195.92M341.19 186.62V198.23M341.24 178.13V188.46M341.33 179.94V193.27M341.42 179.94V192.38M341.49 175.61V188.49M341.56 175.03V186.60M341.64 175.03V185.48M341.71 176.49V185.52M341.79 176.49V189.80M341.86 132.82V148.32M341.96 132.82V142.71M342.04 137.76V149.59M342.09 137.76V149.02M342.19 162.88V175.61M342.28 162.88V172.40M342.33 173.33V186.94M342.43 173.35V185.50M342.47 173.61V189.40M342.59 186.85V201.62M342.64 186.85V200.33M342.71 168.57V182.42M342.81 187.89V202.67M342.88 187.89V200.40M342.97 187.88V203.58M343.04 187.88V201.69M343.12 187.84V202.30M343.18 184.98V196.31M343.28 184.98V197.64M343.32 171.32V183.96M343.43 172.85V182.59M343.50 172.85V182.29M343.56 172.91V183.48M343.66 173.60V186.64M343.72 173.60V183.62M343.80 169.98V184.61M343.89 171.62V183.34M343.94 174.56V186.33M344.02 174.56V183.43M344.11 144.22V155.94M344.16 163.80V177.33M344.26 164.95V180.90M344.35 164.95V177.78M344.41 163.47V176.58M344.48 163.59V175.16M344.58 163.59V177.06M344.66 163.99V178.80M344.73 163.99V173.23M344.80 152.39V164.93M344.90 152.39V164.98M344.97 152.39V166.47M345.01 153.34V167.09M345.10 163.66V177.95M345.17 163.66V176.18M345.24 163.66V177.89M345.33 154.28V163.47M345.43 155.88V165.29M345.51 155.88V171.77M345.55 172.24V185.66M345.63 172.24V181.45M345.72 172.22V186.52M345.82 173.37V188.90M345.88 178.79V192.89M345.97 178.79V190.60M346.01 141.30V155.51M346.13 141.30V152.82M346.17 144.10V156.10M346.27 144.10V159.36M346.36 180.48V190.39M346.43 180.48V191.25M346.48 180.66V190.90M346.58 180.66V194.52M346.65 170.59V184.08M346.70 171.16V183.22M346.80 171.16V184.20M346.87 170.24V182.37M346.96 172.09V182.74M347.02 172.09V181.35M347.12 180.54V196.37M347.20 180.54V195.89M347.25 180.63V190.77M347.32 182.01V191.89M347.43 182.01V197.96M347.49 172.03V183.23M347.56 172.03V181.92M347.63 159.54V175.19M347.75 172.68V187.69M347.81 177.96V192.27M347.87 179.48V193.24M347.94 179.48V190.90M348.06 186.21V196.80M348.12 186.21V197.12M348.20 186.22V195.57M348.26 186.22V195.23M348.33 185.70V195.44M348.42 185.70V195.14M348.48 187.08V198.09M348.58 187.13V199.84M348.65 187.13V199.39M348.74 186.71V200.45M348.80 148.29V163.86M348.88 157.42V166.96M348.96 161.58V172.61M349.06 161.58V176.66M349.11 148.05V161.78M349.20 148.05V163.01M349.26 165.16V177.75M349.35 165.22V177.61M349.41 165.30V177.59M349.52 165.30V175.07M349.57 165.30V176.26M349.67 186.55V198.88M349.74 186.55V199.60M349.81 184.50V198.23M349.90 152.71V162.14M349.96 152.71V165.25M350.02 159.09V168.27M350.13 159.14V174.86M350.21 159.14V172.35M350.25 159.14V168.40M350.33 159.09V170.08M350.44 159.09V172.84M350.51 159.09V169.70M350.58 181.42V194.11M350.66 181.42V193.54M350.75 184.20V194.17M350.82 184.20V196.66M350.86 187.03V202.55M350.94 187.04V200.90M351.06 187.07V195.89M351.14 187.07V199.32M351.21 164.24V175.06M351.27 164.24V173.40M351.34 163.96V176.96M351.42 161.94V173.61M351.48 161.93V171.03M351.59 160.91V172.26M351.65 160.95V176.42M351.74 160.95V174.41M351.81 160.92V174.68M351.88 182.02V192.09M351.98 184.94V194.06M352.04 184.94V199.56M352.11 186.75V200.19M352.22 187.07V202.90M352.26 187.07V197.02M352.34 155.14V165.81M352.42 184.82V198.85M352.51 184.82V199.27M352.60 184.82V199.91M352.65 134.76V147.10M352.73 134.76V146.32M352.82 132.94V146.20M352.88 132.94V142.59M352.97 128.92V140.08M353.04 128.92V144.65M353.14 128.92V143.30M353.19 128.33V139.53M353.27 127.69V138.50M353.35 116.91V131.16M353.43 124.42V134.96M353.52 124.42V135.58M353.60 152.89V164.78M353.68 152.89V165.11M353.74 175.93V188.53M353.80 175.93V186.10M353.91 173.73V188.05M353.96 128.47V142.94M354.04 128.47V141.48M354.12 173.28V187.17M354.23 174.23V189.88M354.28 174.27V187.04M354.35 174.27V189.33M354.46 174.27V190.24M354.54 156.49V168.05M354.59 156.49V170.64M354.65 166.83V177.39M354.76 174.26V189.73M354.84 174.26V187.65M354.89 155.53V169.65M354.99 155.53V170.59M355.05 142.63V156.20M355.12 142.63V152.90M355.21 126.82V138.58M355.30 132.17V143.67M355.36 170.48V182.17M355.46 170.48V184.11M355.50 150.98V165.33M355.59 155.24V169.17M355.67 155.24V165.91M355.73 155.24V168.46M355.85 148.85V159.25M355.89 165.80V178.52M355.97 165.80V181.71M356.08 165.65V179.68M356.16 165.65V181.29M356.23 165.35V177.72M356.28 165.39V178.97M356.39 165.39V176.28M356.43 175.87V185.37M356.53 175.87V188.77M356.62 175.87V191.53M356.66 165.70V176.66M356.74 171.84V183.38M356.84 172.02V184.70M356.92 172.02V183.68M356.99 150.36V162.68M357.08 150.36V164.17M357.14 150.36V160.68M357.21 150.36V164.22M357.27 176.08V191.48M357.36 181.29V191.18M357.47 181.29V197.04M357.50 181.26V192.52M357.59 181.25V192.61M357.67 181.25V195.13M357.73 162.76V173.19M357.82 163.50V178.42M357.90 163.50V177.66M357.97 168.87V180.67M358.07 168.87V184.21M358.14 149.32V159.22M358.22 159.28V169.67M358.31 159.28V168.23M358.37 139.82V150.78M358.47 139.82V148.73M358.51 140.86V151.59M358.59 140.88V153.37M358.66 141.68V154.96M358.75 141.68V155.23M358.83 170.63V186.52M358.91 178.76V189.86M358.99 178.76V188.39M359.07 161.73V173.32M359.15 161.73V175.20M359.23 162.55V175.60M359.32 162.55V173.30M359.40 149.33V159.57M359.44 150.65V160.32M359.51 150.65V164.01M359.60 158.50V170.85M359.67 158.50V170.07M359.78 161.22V172.61M359.85 161.22V174.41M359.91 159.87V169.61M359.99 159.87V171.44M360.10 146.40V156.82M360.17 139.16V153.44M360.24 154.81V164.67M360.32 154.86V165.40M360.40 154.86V168.32M360.46 145.68V155.85M360.54 145.68V155.28M360.62 137.78V147.80M360.72 137.78V150.44M360.80 156.06V168.28M360.87 156.06V167.28M360.95 156.06V167.68M360.99 159.80V171.36M361.08 159.80V173.70M361.19 139.64V148.73M361.25 140.23V154.07M361.32 140.23V155.69M361.39 122.48V136.79M361.49 122.48V132.09M361.55 188.00V199.93M361.65 188.00V200.97M361.69 188.00V198.73M361.81 188.00V201.61M361.84 188.00V199.43M361.93 188.00V196.81M362.01 188.00V196.81M362.10 188.00V196.81M362.16 186.44V195.71M362.26 186.93V202.46M362.35 186.93V198.76M362.41 186.95V200.95M362.50 186.95V201.37M362.57 184.54V197.65M362.64 185.46V198.19M362.70 185.47V198.92M362.79 185.47V196.93M362.89 187.29V198.77M362.96 187.29V196.91M363.02 187.04V200.46M363.10 182.78V195.81M363.19 187.24V202.25M363.25 187.24V200.91M363.34 185.83V201.65M363.42 185.80V197.97M363.47 185.80V198.07M363.56 185.80V201.15M363.66 185.84V201.77M363.71 185.84V200.34M363.79 186.83V202.32M363.90 186.83V200.54M363.95 185.80V200.76M364.05 179.16V188.81M364.12 179.16V191.54M364.21 179.16V192.60M364.29 144.64V156.06M364.35 152.80V167.91M364.43 152.80V168.58M364.48 146.88V158.64M364.57 146.88V158.32M364.64 158.83V173.70M364.74 159.87V170.94M364.80 159.87V169.40M364.88 169.68V181.20M364.98 169.69V182.34M365.05 169.69V184.09M365.10 140.67V155.23M365.18 140.67V156.18M365.26 162.76V174.58M365.34 162.76V172.16M365.41 171.60V183.77M365.52 171.60V183.91M365.59 162.72V173.38M365.66 162.74V176.47M365.72 162.74V172.43M365.81 160.19V174.45M365.88 160.19V173.64M365.99 157.78V167.72M366.04 157.78V170.40M366.10 174.40V188.57M366.21 174.40V189.40M366.28 184.50V194.31M366.34 184.50V194.52M366.44 155.34V164.15M366.53 155.34V168.08M366.58 155.34V166.06M366.66 155.34V169.67M366.76 148.85V161.73M366.83 153.36V168.18M366.91 154.53V164.61M366.99 154.53V168.77M367.04 168.22V177.89M367.13 168.26V183.61M367.20 169.70V179.16M367.28 169.70V180.55M367.37 170.73V186.44M367.46 170.73V179.72M367.51 185.17V197.93M367.58 187.09V198.41M367.67 187.09V196.48M367.73 185.07V195.48M367.80 183.90V197.65M367.90 183.90V197.16M368.00 163.00V177.01M368.08 173.99V185.52M368.15 173.99V186.18M368.20 163.01V175.33M368.30 163.01V178.54M368.37 163.01V172.27M368.44 175.71V190.83M368.50 175.71V190.10M368.61 175.16V189.23M368.67 175.16V184.40M368.77 185.27V197.52M368.82 185.27V196.51M368.90 152.01V163.57M369.00 155.54V166.58M369.04 155.54V164.47M369.14 168.98V182.14M369.21 168.98V180.30M369.27 187.23V196.96M369.37 187.83V203.43M369.46 187.83V201.37M369.50 146.82V162.09M369.59 184.07V198.24M369.70 184.07V198.39M369.77 151.06V165.20M369.83 151.06V160.84M369.89 161.65V177.11M370.01 177.67V186.79M370.06 177.67V192.91M370.14 177.67V193.61M370.22 176.75V190.54M370.30 176.75V188.19M370.37 166.17V176.10M370.45 187.03V196.81M370.54 187.03V202.80M370.60 177.04V191.63M370.67 179.74V190.74M370.75 179.76V191.07M370.86 179.76V195.68M370.92 173.94V186.10M370.99 175.90V190.92M371.07 175.90V189.11M371.13 175.05V186.47M371.23 187.55V200.34M371.32 187.89V200.83M371.36 187.93V200.40M371.46 187.93V199.30M371.51 187.88V197.01M371.62 186.92V201.87M371.67 186.92V200.12M371.75 186.86V200.69M371.86 187.82V203.79M371.93 187.82V197.58M372.01 186.90V196.64M372.05 186.90V201.08M372.13 187.10V199.57M372.23 187.10V197.83M372.29 187.93V202.02M372.38 187.93V196.89M372.46 187.10V202.30M372.56 187.10V202.53M372.62 186.91V197.53M372.68 185.95V200.70M372.77 186.65V198.68M372.84 186.66V198.83M372.92 188.00V201.85M373.03 188.00V199.17M373.09 186.78V199.37M373.17 186.82V197.00M373.22 186.82V195.63M373.30 186.79V202.53M373.41 175.84V190.05M373.49 186.55V196.53M373.56 187.79V197.20M373.62 187.79V196.72M373.72 187.39V198.40M373.80 187.39V197.55M373.87 187.36V199.26M373.94 183.84V194.60M374.01 183.84V197.08M374.07 181.32V190.58M374.15 182.75V194.88M374.23 182.75V192.13M374.33 183.00V197.94M374.41 183.32V198.94M374.46 183.32V193.00M374.54 183.80V197.31M374.63 183.80V193.38M374.70 181.84V196.88M374.76 181.84V194.62M374.84 187.37V198.04M374.93 187.37V196.50M375.02 186.78V198.54M375.10 186.78V200.23M375.15 186.81V200.03M375.23 187.67V200.84M375.33 187.67V198.56M375.37 187.24V202.46M375.49 187.24V198.53M375.57 187.83V202.19M375.64 187.86V197.38M375.68 187.92V198.68M375.80 187.92V199.33M375.85 188.00V199.53M375.95 188.00V200.90M376.00 188.00V198.58M376.08 187.96V198.38M376.16 187.96V197.74M376.23 187.96V202.56M376.30 180.22V191.15M376.41 182.69V192.25M376.47 187.02V202.71M376.53 187.02V200.22M376.63 186.91V200.71M376.72 184.03V197.59M376.77 185.09V197.28M376.86 185.09V194.90M376.93 184.40V195.19M377.00 184.40V193.93M377.09 187.00V198.36M377.15 187.00V198.24M377.24 187.00V196.93M377.34 187.18V201.61M377.38 187.22V200.59M377.49 187.22V199.97M377.54 187.26V200.92M377.65 187.48V201.64M377.71 187.48V199.10M377.78 187.04V202.24M377.88 187.14V202.12M377.94 187.14V199.17M377.99 187.32V202.28M378.10 187.32V198.78M378.17 187.94V200.81M378.26 187.95V203.37M378.34 187.95V198.46M378.39 187.95V199.23M378.46 187.14V199.09M378.55 187.18V200.44M378.63 187.24V197.75M378.73 187.24V203.07M378.77 187.08V198.92M378.86 187.08V196.92M378.93 187.74V203.38M379.03 187.74V201.89M379.11 148.82V158.00M379.17 168.25V182.73M379.27 183.38V197.11M379.30 183.38V194.99M379.39 183.38V195.59M379.46 167.50V181.15M379.54 174.11V186.39M379.65 174.11V184.36M379.73 169.33V182.36M379.79 169.33V178.79M379.87 184.71V195.91M379.94 187.96V198.57M380.01 187.96V202.11M380.10 173.03V188.97M380.18 167.50V182.46M380.23 170.98V185.28M380.34 178.58V187.52M380.42 179.44V188.36M380.48 179.44V192.34M380.55 172.44V182.57M380.63 170.68V182.49M380.73 174.23V186.36M380.79 181.40V197.29M380.85 181.40V196.16M380.95 177.71V190.88M381.01 177.71V189.60M381.11 177.63V188.16M381.17 177.72V188.81M381.25 177.89V190.83M381.31 177.89V193.17M381.42 178.96V191.64M381.50 178.96V193.42M381.54 178.96V188.30M381.62 171.13V187.11M381.72 161.53V174.79M381.78 161.53V177.19M381.84 179.74V190.16M381.94 179.74V190.94M382.04 166.52V179.65M382.11 166.52V180.05M382.18 165.09V178.13M382.24 153.52V166.41M382.31 175.00V189.19M382.43 175.00V184.26M382.47 170.74V181.02M382.56 177.42V190.19M382.65 177.51V186.62M382.71 177.51V190.28M382.79 171.56V183.16M382.85 181.52V195.06M382.96 181.52V192.38M383.04 175.01V190.28M383.09 182.36V193.82M383.17 182.36V192.94M383.27 179.99V190.69M383.32 179.99V190.06M383.42 185.97V199.85M383.48 187.12V198.54M383.57 187.12V198.28M383.66 187.08V200.35M383.70 137.09V150.44M383.79 137.15V150.39M383.87 139.46V150.22M383.96 139.46V150.49M384.03 185.90V200.31M384.10 185.90V200.62M384.17 182.77V196.09M384.27 182.77V194.29M384.33 180.51V191.99M384.42 183.83V196.46M384.50 184.89V199.34M384.56 184.89V197.33M384.65 183.01V196.77M384.70 183.01V192.06M384.80 182.79V195.26M384.88 183.02V198.39M384.97 183.02V195.41M385.04 184.82V200.12M385.11 184.82V194.05M385.20 184.81V195.13M385.25 186.01V197.03M385.34 186.01V199.13M385.40 186.01V195.65M385.48 185.86V200.02M385.56 185.87V199.25M385.63 185.87V199.20M385.75 185.87V197.41M385.80 184.93V197.20M385.91 186.55V201.41M385.96 186.55V200.67M386.01 184.96V200.74M386.12 184.96V200.30M386.21 184.92V197.80M386.26 186.47V202.31M386.34 186.47V198.60M386.41 184.98V198.02M386.49 187.42V202.55M386.59 187.42V198.71M386.65 187.81V203.60M386.73 187.95V199.06M386.81 187.95V197.15M386.90 187.72V202.19M386.96 187.72V196.69M387.06 187.72V199.96M387.11 187.89V199.83M387.22 187.89V198.23M387.26 187.92V200.72M387.37 187.92V200.83M387.45 187.91V198.10M387.51 187.91V199.84M387.60 185.71V200.22M387.67 185.71V197.09M387.72 185.50V195.58M387.84 185.50V194.98M387.90 175.11V186.65M387.98 175.56V190.46M388.07 175.56V190.86M388.13 175.54V189.22M388.20 175.54V184.91M388.30 175.54V191.13M388.37 175.54V190.94M388.45 177.38V190.26M388.52 177.38V187.41M388.62 177.23V186.78M388.69 177.23V192.68M388.76 176.84V188.51M388.82 176.84V188.16M388.91 176.32V189.45M388.98 183.27V193.48M389.07 183.27V195.37M389.13 182.12V191.03M389.23 166.48V178.84M389.29 166.48V180.87M389.38 169.97V180.87M389.43 169.97V183.29M389.54 166.44V178.20M389.61 166.45V178.73M389.66 166.45V181.85M389.76 168.57V182.51M389.81 172.56V182.63M389.90 179.61V190.91M390.00 179.61V195.12M390.07 174.09V189.17M390.13 174.09V186.02M390.22 180.11V196.09M390.31 180.11V191.63M390.40 180.11V193.17M390.47 169.24V183.64M390.54 169.71V183.02M390.62 169.71V182.94M390.69 169.71V183.94M390.76 177.86V191.17M390.87 177.86V191.99M390.92 185.38V199.08M391.00 185.38V198.58M391.07 186.14V198.64M391.15 186.14V202.00M391.24 185.46V196.86M391.32 179.21V190.48M391.38 179.94V189.33M391.46 179.94V193.35M391.55 187.94V200.80M391.63 187.94V201.49M391.71 184.94V194.23M391.78 184.94V199.64M391.86 184.43V197.58M391.92 187.96V198.11M392.03 187.96V202.17M392.11 184.36V199.30M392.17 187.54V202.43M392.23 187.64V197.27M392.33 187.64V198.08M392.40 187.66V200.27M392.49 187.69V198.91M392.56 187.69V199.01M392.62 187.66V197.96M392.74 182.88V195.07M392.79 182.88V195.87M392.89 177.08V186.48M392.94 177.08V189.15M393.01 179.90V195.33M393.09 179.90V188.77M393.17 177.07V191.88M393.27 177.07V191.88M393.35 183.52V199.05M393.41 183.52V193.64M393.48 177.29V186.52M393.55 177.29V190.47M393.65 177.58V191.52M393.74 177.58V191.68M393.78 177.52V188.88M393.88 186.61V197.04M393.94 186.61V195.76M394.06 184.16V194.71M394.14 184.16V193.55M394.21 177.99V189.98M394.26 177.99V187.36M394.37 175.81V189.72M394.43 176.59V186.00M394.48 176.59V190.52M394.57 176.84V187.41M394.68 176.84V190.85M394.75 178.02V190.86M394.82 179.80V191.40M394.90 187.41V200.19M394.94 187.41V203.30M395.06 187.91V197.16M395.11 187.91V201.03M395.21 187.98V203.34M395.28 187.98V196.79M395.35 187.51V197.45M395.43 187.51V201.92M395.53 187.62V199.05M395.60 187.62V203.39M395.66 187.62V200.17M395.76 187.62V203.25M395.80 187.50V202.44M395.89 187.50V198.66M395.96 187.53V203.44M396.03 187.61V200.16M396.12 187.61V196.64M396.18 187.61V197.24M396.30 187.49V196.34M396.37 187.49V197.92M396.43 187.60V196.42M396.49 187.60V198.16M396.58 187.94V203.22M396.68 187.94V203.73M396.73 187.96V199.81M396.80 187.96V200.89M396.89 187.88V199.90M396.98 187.96V203.48M397.04 187.97V199.95M397.12 187.97V197.38M397.21 166.05V179.38M397.30 166.06V179.83M397.36 175.94V190.13M397.46 175.94V187.76M397.50 175.89V191.72M397.60 185.71V195.85M397.65 186.85V202.81M397.77 186.85V198.34M397.83 186.21V198.58M397.89 186.60V200.45M397.99 186.60V199.36M398.07 184.78V198.02M398.12 185.36V196.25M398.23 186.04V199.10M398.31 186.04V197.82M398.36 182.04V196.61M398.46 182.04V191.05M398.53 182.05V193.57M398.60 182.05V193.64M398.67 173.84V185.98M398.74 174.09V183.33M398.84 174.60V185.36M398.92 174.60V190.25M399.00 175.92V188.34M399.04 175.92V191.58M399.14 171.10V183.51M399.23 169.83V179.92M399.28 172.35V186.81M399.35 172.35V181.35M399.47 157.91V169.39M399.54 157.91V167.31M399.61 160.26V170.25M399.67 160.26V170.34M399.75 166.57V178.92M399.85 166.57V178.32M399.89 167.22V179.35M400.00 175.20V188.45M400.08 175.20V187.66M400.14 166.05V181.06M400.24 168.69V180.84M400.30 168.69V179.82M400.39 184.20V196.97M400.44 184.20V197.52M400.53 173.01V187.96M400.60 173.01V187.69M400.68 172.65V185.84M400.75 149.50V158.83M400.84 153.70V164.97M400.93 153.70V163.45M401.00 178.97V189.53M401.10 178.97V194.51M401.16 150.00V159.56M401.23 149.50V163.32M401.31 180.13V195.01M401.38 180.77V189.84M401.48 180.77V191.44M401.56 141.45V150.61M401.60 141.45V152.77M401.71 140.74V150.43M401.78 140.76V152.31M401.84 140.76V155.52M401.94 180.17V192.45M402.00 180.17V195.63M402.09 184.29V195.25M402.16 184.29V195.82M402.25 184.62V193.64M402.34 185.94V197.71M402.41 186.55V201.83M402.47 187.35V201.75M402.55 187.35V196.43M402.64 180.83V192.68M402.71 180.83V190.37M402.76 168.74V182.92M402.86 184.06V197.09M402.93 184.06V195.62M403.02 183.45V199.38M403.08 183.35V192.57M403.16 183.35V194.82M403.24 175.97V185.95M403.32 175.97V186.42M403.41 121.49V135.25M403.50 131.04V146.63M403.57 131.04V139.95M403.65 121.78V137.74M403.73 121.78V135.39M403.79 154.35V166.79M403.87 155.79V168.89M403.96 155.79V169.96M404.01 147.51V159.66M404.12 158.85V168.77M404.20 184.28V199.05M404.28 184.31V197.04M404.32 184.51V197.16M404.44 184.51V195.93M404.48 184.24V196.33M404.56 170.01V184.56M404.66 170.65V185.60M404.72 170.65V184.09M404.79 170.06V181.05M404.89 183.52V198.16M404.96 183.52V193.64M405.05 136.16V152.02M405.12 149.88V162.06M405.18 152.66V162.43M405.27 152.66V167.84M405.34 134.73V147.25M405.41 167.86V178.58M405.48 167.86V183.02M405.58 185.33V199.97M405.64 185.33V197.39M405.72 137.36V151.10M405.79 124.82V138.02M405.89 124.82V136.18M405.99 182.33V192.59M406.04 182.33V193.02M406.10 131.12V145.15M406.20 130.77V142.98M406.28 130.77V144.96M406.37 130.66V142.40M406.43 130.66V144.80M406.52 148.19V162.41M406.58 148.19V158.17M406.67 147.66V162.68M406.72 147.66V158.99M406.79 122.75V133.62M406.90 122.75V132.67M406.99 175.94V191.44M407.03 184.93V197.34M407.14 184.93V194.60M407.21 183.48V192.61M407.29 183.62V195.33M407.37 183.71V193.35M407.44 183.71V199.29M407.49 178.57V188.58M407.60 181.79V196.39M407.66 183.17V192.31M407.76 183.23V198.76M407.84 183.23V193.22M407.90 184.87V195.21M407.98 184.87V197.87M408.06 186.05V195.69M408.12 186.05V199.68M408.22 170.36V182.54M408.27 185.16V199.80M408.37 185.16V200.94M408.43 164.45V178.68M408.51 164.52V179.54M408.61 164.52V178.86M408.69 166.10V177.29M408.76 166.10V177.04M408.83 146.38V156.26M408.88 146.38V158.31M408.96 146.38V159.73M409.06 146.08V161.60M409.13 146.08V159.41M409.19 180.14V193.80M409.27 180.14V189.23M409.35 184.31V194.77M409.46 184.98V197.42M409.53 184.98V194.21M409.60 184.17V193.25M409.69 179.38V191.50M409.76 179.38V190.02M409.84 179.24V193.35M409.90 184.77V197.24M410.00 184.79V195.01M410.06 185.40V195.60M410.14 185.40V195.62M410.19 172.94V184.86M410.30 172.94V182.69M410.35 172.91V184.84M410.43 156.60V165.96M410.54 159.86V174.24M410.59 159.86V175.81M410.69 184.87V198.85M410.74 184.87V197.34M410.85 159.34V172.41M410.90 159.34V174.83M410.99 159.44V170.70M411.07 187.32V198.44M411.15 187.32V203.30M411.21 185.09V194.92M411.31 185.09V196.91M411.36 184.90V196.86M411.44 161.39V177.17M411.54 164.69V173.61M411.59 164.69V175.56M411.68 161.00V175.81M411.74 160.84V173.07M411.84 138.14V150.09M411.90 148.80V163.50M411.99 157.78V170.96M412.09 157.78V170.56M412.15 134.27V150.17M412.23 134.27V148.15M412.28 118.27V128.30M412.37 144.42V154.01M412.44 158.73V169.06M412.54 158.92V168.19M412.60 158.92V169.57M412.68 183.70V196.10M412.75 183.70V194.77M412.86 185.53V194.88M412.93 185.53V195.21M412.99 151.06V164.66M413.07 165.06V175.33M413.15 165.06V174.31M413.24 136.02V146.20M413.32 136.02V150.46M413.37 132.96V143.34M413.45 132.96V146.85M413.55 145.07V156.52M413.61 172.33V183.74M413.71 172.33V184.06M413.76 170.79V182.41M413.84 170.79V182.33M413.91 168.27V182.74M414.03 168.28V183.33M414.09 168.28V183.00M414.14 179.01V193.62M414.24 179.75V189.69M414.33 179.75V190.43M414.38 179.01V188.76M414.49 176.46V189.18M414.53 176.56V186.52M414.63 180.54V192.60M414.71 180.54V190.28M414.77 187.27V198.53M414.88 187.27V196.92M414.94 187.27V199.95M415.00 163.89V176.58M415.11 169.29V180.29M415.15 169.29V178.42M415.26 169.19V183.24M415.34 170.74V185.76M415.41 170.74V184.94M415.46 170.74V180.04M415.54 169.00V184.36M415.65 180.79V191.72M415.73 184.83V194.97M415.78 184.83V199.44M415.89 161.11V173.83M415.96 162.67V178.28M416.01 162.67V178.13M416.12 180.27V193.86M416.16 181.73V190.57M416.25 181.73V193.97M416.32 182.28V195.54M416.40 182.28V196.99M416.49 182.26V193.35M416.55 182.26V193.02M416.67 184.30V195.25M416.71 185.40V197.22M416.81 185.71V200.95M416.87 185.71V201.55M416.97 185.71V199.47M417.03 180.61V192.64M417.11 181.36V192.35M417.20 181.36V193.55M417.27 180.48V196.06M417.34 114.23V124.71M417.40 148.83V162.36M417.51 148.83V162.98M417.58 169.54V183.67M417.65 169.54V178.52M417.75 115.42V130.07M417.81 115.42V129.88M417.90 131.24V142.40M417.95 131.24V142.57M418.03 123.51V137.45M418.12 163.55V175.20M418.18 163.55V175.94M418.29 171.08V186.48M418.37 171.08V182.69M418.41 161.77V173.01M418.51 173.71V186.22M418.58 178.00V191.90M418.66 178.07V193.02M418.76 178.07V188.10M418.82 150.93V162.74M418.91 150.93V163.53M418.98 149.87V163.76M419.04 179.39V195.24M419.16 185.57V200.79M419.21 185.57V194.39M419.27 184.83V200.60M419.37 179.44V192.90M419.44 158.12V167.70M419.51 158.12V171.70M419.60 163.73V176.24M419.66 163.77V176.66M419.78 163.77V177.39M419.84 147.40V159.11M419.91 147.40V158.05M420.00 151.31V163.28M420.08 151.74V161.91M420.15 151.74V166.67M420.25 134.22V144.58M420.31 141.04V152.31M420.41 141.04V156.38M420.48 133.68V142.92M420.56 133.68V146.01M420.61 130.90V141.29M420.71 131.03V144.00M420.81 144.75V157.49M420.88 144.75V158.85M420.92 111.82V124.61M421.01 111.82V126.32M421.07 147.08V159.49M421.18 147.08V162.70M421.27 185.51V201.39M421.34 185.51V194.49M421.42 186.06V201.80M421.49 186.27V199.67M421.58 186.27V199.08M421.65 185.41V196.36M421.74 185.40V198.40M421.79 179.77V191.09M421.88 128.52V139.87M421.97 128.52V142.59M422.02 116.67V130.90M422.10 184.40V196.76M422.21 184.40V197.49M422.26 184.56V198.02M422.37 184.56V200.38M422.41 116.68V132.16M422.52 165.65V177.95M422.60 182.23V193.80M422.67 182.23V195.62M422.75 182.10V195.88M422.82 149.44V164.72M422.89 182.51V195.47M422.95 182.51V196.29M423.07 177.40V187.30M423.12 177.40V188.04M423.21 186.23V195.49M423.29 187.58V201.22M423.37 187.58V199.86M423.41 186.33V202.24M423.51 186.33V201.58M423.59 186.33V201.03M423.65 184.53V196.69M423.73 185.07V201.06M423.84 185.07V196.10M423.90 187.77V198.05M424.00 187.77V199.11M424.08 187.77V196.61M424.15 119.65V134.39M424.20 119.65V130.20M424.28 182.84V195.00M424.37 183.61V197.84M424.46 183.61V194.19M424.52 169.55V184.24M424.61 169.55V184.34M424.69 162.05V176.53M424.75 163.61V174.25M424.82 163.61V173.77M424.91 161.15V173.26M424.99 165.83V179.24M425.06 165.83V180.42M425.14 117.67V132.12M425.20 118.95V130.66M425.30 118.95V134.13M425.37 127.21V141.20M425.45 127.21V140.35M425.54 108.98V118.88M425.62 113.80V127.68M425.67 114.07V127.04M425.75 130.66V141.55M425.84 130.66V140.87M425.94 175.04V186.93M425.99 175.04V188.78M426.07 175.25V185.57M426.14 175.25V186.10M426.24 165.23V174.14M426.29 165.23V178.11M426.36 173.52V185.88M426.46 173.52V185.45M426.53 172.85V186.74M426.62 172.85V186.12M426.70 172.25V187.19M426.78 172.44V183.15M426.86 173.96V186.12M426.94 173.96V188.37M427.02 179.98V195.31M427.08 179.98V190.74M427.17 179.73V191.97M427.25 171.52V182.70M427.30 175.84V190.38M427.38 176.18V185.13M427.44 176.18V191.17M427.55 177.27V191.64M427.62 177.27V186.96M427.72 179.19V191.81M427.78 179.40V188.66M427.85 179.40V190.70M427.94 182.80V198.53M428.01 182.80V194.82M428.08 174.66V190.42M428.17 174.66V187.79M428.26 174.81V184.92M428.32 174.81V185.08M428.40 174.78V188.40M428.48 182.50V191.56M428.53 182.50V197.80M428.61 179.14V191.05M428.70 179.14V188.43M428.79 170.11V181.46M428.88 170.11V184.94M428.94 170.11V180.68M429.01 174.85V189.70M429.10 174.85V190.33M429.15 180.02V195.92M429.23 180.02V194.88M429.34 160.67V170.50M429.40 166.31V178.08M429.48 179.62V194.52M429.55 179.62V192.62M429.66 169.57V180.82M429.73 132.00V147.72M429.79 158.12V171.20M429.89 169.15V180.11M429.97 169.15V178.22M430.04 185.39V197.31M430.11 185.72V201.14M430.18 185.72V201.41M430.24 147.17V163.07M430.33 153.05V163.73M430.39 172.21V183.30M430.50 172.21V183.45M430.58 146.85V159.84M430.64 156.11V170.94M430.71 156.23V171.73M430.82 156.23V166.51M430.89 139.66V149.03M430.97 139.66V150.12M431.01 149.65V161.69M431.11 149.65V159.64M431.20 149.58V161.04M431.26 185.92V197.35M431.34 185.94V197.54M431.44 185.94V200.19M431.51 179.87V191.16M431.57 179.87V191.43M431.67 186.63V200.54M431.74 186.63V200.30M431.80 187.42V200.04M431.91 187.42V201.78M431.96 178.41V188.43M432.03 182.02V197.41M432.10 182.02V194.60M432.21 182.02V197.13M432.26 147.11V161.38M432.37 147.11V157.45M432.41 142.63V152.71M432.49 148.22V161.69M432.57 148.22V158.79M432.66 145.03V157.47M432.73 145.03V157.89M432.83 140.34V156.09M432.89 161.64V170.64M432.96 175.24V186.21M433.04 175.24V190.10M433.13 163.18V178.34M433.19 177.88V188.16M433.28 177.88V192.91M433.37 152.58V162.85M433.42 152.58V166.79M433.50 152.55V165.91M433.61 175.35V188.04M433.68 175.35V189.05M433.76 172.36V186.53M433.82 172.36V187.26M433.90 166.57V182.15M434.00 166.01V177.28M434.07 181.09V190.52M434.14 181.09V195.80M434.20 152.44V162.88M434.30 162.16V177.81M434.39 162.16V173.74M434.43 143.12V158.46M434.51 143.12V156.28M434.58 140.25V155.24M434.68 177.14V186.50M434.75 177.14V190.75M434.83 159.59V169.90M434.89 159.59V169.77M434.97 174.66V184.13M435.07 177.66V186.84M435.15 177.66V193.05M435.21 144.04V154.33M435.29 144.04V159.54M435.38 134.60V143.56M435.44 145.68V160.15M435.52 145.68V160.28M435.62 112.35V122.32M435.67 112.35V125.57M435.74 167.86V179.18M435.85 167.86V179.17M435.92 166.51V181.17M436.02 166.51V177.20M436.05 170.65V181.40M436.14 170.65V179.57M436.21 160.38V173.42M436.32 160.38V175.16M436.40 152.31V168.14M436.44 187.79V203.60M436.54 187.79V201.38M436.62 187.74V200.06M436.70 187.79V200.33M436.77 187.79V199.10M436.85 187.74V202.02M436.91 108.00V117.72M436.98 115.54V125.96M437.06 115.54V128.80M437.16 114.33V128.34M437.22 115.16V129.71M437.33 115.16V130.61M437.38 116.88V127.55M437.44 116.88V128.20M437.55 123.32V137.78M437.63 123.32V138.22M437.71 119.95V129.81M437.77 116.06V127.00M437.87 116.06V127.80M437.94 116.06V126.41M438.03 117.59V131.40M438.10 117.59V127.33M438.15 132.54V142.41M438.24 135.80V148.20M438.30 135.81V147.41M438.40 135.81V150.40M438.47 175.68V187.08M438.55 175.68V191.54M438.62 175.68V187.81M438.69 185.15V197.42M438.78 185.27V201.03M438.87 185.27V198.44M438.93 187.04V196.90M438.99 187.04V200.53M439.09 187.35V200.70M439.17 187.35V196.81M439.25 187.26V202.46M439.34 187.13V201.95M439.42 186.08V199.49M439.49 186.08V200.12M439.56 186.08V195.69M439.65 186.47V198.57M439.71 186.59V197.02M439.79 186.59V199.49M439.85 186.51V197.61M439.93 166.59V181.58M440.01 166.59V180.61M440.08 170.21V182.11M440.16 170.21V183.62M440.23 154.80V169.91M440.31 154.80V167.18M440.41 181.57V192.13M440.48 186.19V199.72M440.57 186.19V197.32M440.65 187.80V197.53M440.73 187.80V197.74M440.81 170.82V185.96M440.85 179.23V192.81M440.95 179.23V193.60M441.04 179.13V194.40M441.08 180.20V191.20M441.16 180.22V192.18M441.23 180.39V190.75M441.32 180.39V193.86M441.43 186.58V198.83M441.50 186.58V199.40M441.55 186.58V201.78M441.62 187.17V200.57M441.70 187.17V202.60M441.81 187.06V202.92M441.87 186.51V199.27M441.95 186.57V199.09M442.02 187.31V197.08M442.10 187.31V197.28M442.19 186.57V199.35M442.28 187.73V197.80M442.32 187.73V203.69M442.41 187.80V202.87M442.50 187.80V199.76M442.58 186.48V197.78M442.65 187.60V200.48M442.71 187.60V202.54M442.78 186.86V198.41M442.87 186.90V201.22M442.96 186.92V197.23M443.05 186.94V198.09M443.11 186.94V202.34M443.19 186.99V197.30M443.26 187.03V202.15M443.35 187.03V201.96M443.44 187.67V203.22M443.50 187.92V203.00M443.58 187.92V202.63M443.65 187.92V199.44M443.72 187.29V202.89M443.83 187.52V200.06M443.86 187.69V197.69M443.96 187.69V200.15M444.06 166.36V180.60M444.13 168.14V178.63M444.17 168.14V182.50M444.25 168.05V176.99M444.32 171.28V181.94M444.42 171.35V183.84M444.49 171.35V186.26M444.58 172.32V186.26M444.66 185.52V200.23M444.72 185.52V198.34M444.80 169.96V182.45M444.91 180.60V196.48M444.97 180.86V196.46M445.06 180.86V193.80M445.11 180.86V195.17M445.20 176.26V185.43M445.26 176.26V189.83M445.37 176.16V186.33M445.42 176.16V191.48M445.49 183.97V194.07M445.56 183.97V198.91M445.67 183.72V198.04M445.74 180.84V194.18M445.83 180.90V192.39M445.88 182.97V198.42M445.97 182.97V192.56M446.05 186.46V202.15M446.12 186.75V197.16M446.21 186.75V202.65M446.25 186.75V197.87M446.36 174.32V186.37M446.41 174.32V185.71M446.49 175.35V184.54M446.57 177.04V187.86M446.67 177.04V185.94M446.74 177.06V191.12M446.81 177.06V188.47M446.90 177.06V187.49M446.95 176.98V190.32M447.02 179.85V193.34M447.12 179.85V194.97M447.18 187.43V196.96M447.29 187.84V203.20M447.37 187.84V200.80M447.44 187.33V197.43M447.48 187.52V202.23M447.58 187.63V202.47M447.64 187.63V202.75M447.75 175.25V190.17M447.80 175.25V190.05M447.87 176.55V188.09M447.98 186.46V195.32M448.06 186.46V202.17M448.11 186.46V195.98M448.18 187.62V199.30M448.25 187.62V201.54M448.34 186.68V201.64M448.41 186.72V198.56M448.49 186.72V196.25M448.58 186.66V198.74M448.67 186.66V198.57M448.72 187.07V199.93M448.80 187.07V199.79M448.87 187.31V202.49M448.98 187.31V197.70M449.05 187.30V201.92M449.13 187.97V199.18M449.22 187.97V203.44M449.26 186.44V195.68M449.35 186.44V195.95M449.42 186.44V199.70M449.50 187.13V202.91M449.60 187.13V202.82M449.68 187.16V199.64M449.75 187.16V199.03M449.83 187.16V198.39M449.90 187.16V197.58M449.97 186.63V198.40M450.04 186.63V196.49M450.11 186.63V197.94M450.20 175.32V185.18M450.26 175.32V189.03M450.37 166.12V177.86M450.44 177.11V188.20M450.52 181.13V194.25M450.58 181.13V195.14M450.66 180.12V189.07M450.74 180.12V192.22M450.82 167.67V178.34M450.92 172.07V186.05M450.96 172.08V181.95M451.05 187.75V198.54M451.12 187.75V201.81M451.22 187.75V198.60M451.31 187.57V202.09M451.36 187.57V202.96M451.44 174.30V185.03M451.52 174.30V186.39M451.62 174.30V190.19M451.69 179.14V188.50M451.76 179.14V191.83M451.83 178.93V191.06M451.92 166.18V181.03M451.98 166.18V181.24M452.06 170.47V182.33M452.12 170.47V182.73M452.24 168.26V184.14M452.29 168.26V178.20M452.39 168.26V183.89M452.44 165.78V179.66M452.53 165.37V174.23M452.63 187.07V198.27M452.70 187.07V201.67M452.78 186.88V200.81M452.86 187.12V199.49M452.93 187.12V201.31M452.98 186.82V199.67M453.10 186.82V201.77M453.18 187.07V196.87M453.25 187.10V196.54M453.33 187.10V199.20M453.39 187.73V196.79M453.46 187.73V198.43M453.55 187.73V202.04M453.65 187.73V200.72M453.70 187.72V201.80M453.77 187.01V197.29M453.86 187.02V197.06M453.95 187.04V200.09M454.02 187.05V198.51M454.10 187.05V196.67M454.15 187.71V202.55M454.26 187.71V199.88M454.32 187.71V198.64M454.41 187.71V197.57M454.49 187.71V201.43M454.57 187.73V197.27M454.62 187.73V201.92M454.73 186.99V197.91M454.77 187.07V198.99M454.89 187.07V196.58M454.93 187.84V200.26M455.04 187.84V201.11M455.10 187.84V198.33M455.16 187.84V199.08M455.26 187.84V198.86M455.34 175.39V187.83M455.41 181.37V196.39M455.49 181.37V194.30M455.54 186.24V200.18M455.62 186.24V196.73M455.72 186.20V198.96M455.79 183.58V199.00M455.86 183.58V198.81M455.97 182.40V196.74M456.01 182.40V193.46M456.09 182.14V193.21M456.19 174.79V188.10M456.27 175.01V188.47M456.36 184.08V194.28M456.42 184.08V194.60M456.48 175.85V186.35M456.58 175.92V185.75M456.63 175.92V187.90M456.72 175.25V189.06M456.82 175.25V185.61M456.87 182.86V194.04M456.96 182.86V198.48M457.03 174.97V186.29M457.09 180.09V192.65M457.18 180.09V190.47M457.26 180.09V191.80M457.33 183.85V194.42M457.41 183.85V194.45M457.49 180.76V189.66M457.56 181.01V191.97M457.64 181.46V193.91M457.70 181.46V191.46M457.81 180.79V193.31M457.87 180.75V191.17M457.95 184.19V193.27M458.02 184.19V193.55M458.12 184.19V195.56M458.19 183.93V196.50M458.27 183.93V193.71M458.33 183.93V196.04M458.40 187.13V199.54M458.48 187.13V197.16M458.59 186.56V197.43M458.63 186.56V198.85M458.73 186.54V199.87M458.80 186.54V201.65M458.87 181.76V195.52M458.96 184.75V198.13M459.01 186.10V201.27M459.12 186.10V199.66M459.17 181.10V190.66M459.24 181.10V196.48M459.34 184.00V196.45M459.42 184.00V195.63M459.52 184.37V194.71M459.58 184.37V197.28M459.67 179.77V191.23M459.74 180.25V191.03M459.80 180.89V190.83M459.86 181.96V192.42M459.95 181.96V195.45M460.01 180.25V191.07M460.09 180.20V189.58M460.18 184.79V200.36M460.26 185.08V200.86M460.32 185.08V200.37M460.43 184.90V197.09M460.49 185.27V198.98M460.56 185.27V200.01M460.63 184.07V196.85M460.72 182.54V198.14M460.80 182.54V193.75M460.88 187.84V202.42M460.96 187.95V200.99M461.03 187.95V202.41M461.11 187.91V202.25M461.19 187.91V202.96M461.29 187.80V198.81M461.34 187.80V197.88M461.43 168.08V178.40M461.51 168.08V180.64M461.57 167.01V181.32M461.65 167.33V178.67M461.73 167.33V177.69M461.81 167.01V178.84M461.86 174.33V188.77M461.97 174.33V185.35M462.04 164.21V174.69M462.09 165.05V176.26M462.19 165.05V177.49M462.28 165.89V175.72M462.33 173.63V188.80M462.42 173.63V186.03M462.48 155.24V166.45M462.59 155.24V168.93M462.65 153.02V165.51M462.72 176.70V189.36M462.80 176.70V189.97M462.88 186.02V195.44M462.94 186.75V196.61M463.02 186.75V200.39M463.11 155.80V170.14M463.18 165.35V175.74M463.27 165.35V179.69M463.34 184.16V193.03M463.43 184.31V200.15M463.51 184.31V194.98M463.56 155.75V171.24M463.67 186.06V197.95M463.74 186.06V200.88M463.80 187.36V196.48M463.89 187.36V198.83M463.97 186.09V198.30M464.02 186.17V199.73M464.12 186.17V195.64M464.18 186.20V201.26M464.25 186.20V200.08M464.36 187.93V199.74M464.44 187.93V199.23M464.48 186.50V198.91M464.56 186.50V197.77M464.66 186.95V197.76M464.74 186.95V197.08M464.80 186.49V199.27M464.88 187.35V202.58M464.96 187.35V199.31M465.04 186.61V198.14M465.10 186.61V200.41M465.21 187.46V202.07M465.29 187.46V197.44M465.34 187.46V203.31M465.44 187.45V202.92M465.49 187.65V201.55M465.56 187.65V198.42M465.65 187.65V202.36M465.72 187.65V203.61M465.80 187.41V200.79M465.86 179.61V191.22M465.98 179.61V191.81M466.05 162.19V173.80M466.10 164.64V179.68M466.17 164.64V180.03M466.29 187.68V201.63M466.36 187.68V200.86M466.43 187.76V203.67M466.48 187.99V198.74M466.58 187.99V197.21M466.65 187.98V201.99M466.71 187.98V197.41M466.81 187.73V196.85M466.90 187.82V201.13M466.96 187.82V197.83M467.07 187.82V202.31M467.14 187.82V199.50M467.22 187.77V199.25M467.29 187.84V198.02M467.37 187.90V201.24M467.43 187.90V203.55M467.51 187.84V202.12M467.57 187.98V203.87M467.65 187.98V199.70M467.73 187.94V196.86M467.81 187.94V197.27M467.91 187.94V203.55M467.97 187.95V199.75M468.03 187.95V197.33M468.15 187.94V203.52M468.22 187.96V201.62M468.29 187.96V202.19M468.34 187.95V201.68M468.42 187.95V203.09M468.54 187.96V197.54M468.60 187.96V203.93M468.66 187.99V200.05M468.72 187.99V201.16M468.84 187.98V201.63M468.91 188.00V198.42M469.00 188.00V198.71M469.05 188.00V197.10M469.11 188.00V200.21M469.23 188.00V203.70M469.27 188.00V202.48M469.36 188.00V198.09M469.42 188.00V202.98M469.54 188.00V198.52M469.61 188.00V200.76M469.67 188.00V199.00M469.76 188.00V203.81M469.81 188.00V200.49M469.91 188.00V203.15M470.01 188.00V203.54M470.08 127.48V136.90M470.14 127.48V139.86M470.21 152.45V161.68M470.31 152.45V161.75M470.36 158.07V169.82M470.46 174.29V184.19M470.53 174.29V189.04M470.63 181.93V197.37M470.68 181.93V191.26M470.74 178.87V194.10M470.85 178.86V194.45M470.94 178.86V189.74M470.98 158.36V168.92M471.09 174.55V183.67M471.14 174.55V189.23M471.21 174.55V185.80M471.30 179.60V192.45M471.37 179.60V190.82M471.44 118.18V134.13M471.52 162.38V174.68M471.60 186.88V199.24M471.69 186.88V198.69M471.76 187.97V197.85M471.84 187.97V199.85M471.93 187.78V200.82M471.98 149.64V163.80M472.06 149.64V165.51M472.15 138.35V153.32M472.21 168.42V178.78M472.29 172.17V184.24M472.41 178.61V192.50M472.44 183.97V198.92M472.54 183.97V193.80M472.61 172.65V186.31M472.70 177.50V186.80M472.77 177.50V190.68M472.87 182.20V191.26M472.94 182.20V197.89M472.99 180.93V191.61M473.09 180.93V196.41M473.16 171.31V183.54M473.22 130.51V143.41M473.31 132.92V146.41M473.38 161.56V174.93M473.47 161.56V177.05M473.57 134.85V145.07M473.61 134.85V145.50M473.69 134.58V149.17M473.76 153.05V165.59M473.86 153.05V165.57M473.93 153.05V164.63M473.99 148.66V158.46M474.10 148.66V159.02M474.14 147.27V158.78M474.26 184.38V194.45M474.30 184.38V193.61M474.39 177.51V189.93M474.47 177.51V186.57M474.57 177.51V190.66M474.65 175.00V190.32M474.70 145.34V161.20M474.76 145.34V159.40M474.84 168.37V178.19M474.92 168.37V183.60M475.03 145.51V155.98M475.11 187.02V195.93M475.17 187.02V197.08M475.23 187.50V202.73M475.33 187.50V197.16M475.39 186.82V197.50M475.47 181.62V190.66M475.58 181.75V190.79M475.61 182.68V193.27M475.72 182.68V193.28M475.80 137.71V151.12M475.87 138.07V148.85M475.96 138.07V150.50M476.04 183.17V193.91M476.08 183.17V193.21M476.16 181.32V193.72M476.24 181.32V196.85M476.34 178.73V193.66M476.39 178.73V191.46M476.49 178.43V187.35M476.56 178.55V191.15M476.62 178.88V191.91M476.73 178.88V189.78M476.77 178.88V189.01M476.87 182.06V191.81M476.93 182.06V195.28M477.01 184.14V197.09M477.09 186.54V197.49M477.16 186.64V197.09M477.27 186.64V196.31M477.33 186.57V201.72M477.39 178.92V187.80M477.48 185.51V199.91M477.59 185.53V198.53M477.65 186.89V201.91M477.73 186.89V196.50M477.81 186.71V196.55M477.90 179.67V189.72M477.94 180.10V190.40M478.04 180.10V195.08M478.11 185.91V195.81M478.16 185.91V197.54M478.28 180.19V195.42M478.32 180.19V190.01M478.39 183.16V195.21M478.48 183.16V198.54M478.59 187.14V198.21M478.67 187.14V203.03M478.74 187.13V196.41M478.81 150.31V159.25M478.87 150.44V162.23M478.96 150.44V160.99M479.05 157.25V172.48M479.09 180.31V191.04M479.21 180.31V189.17M479.25 161.04V175.13M479.33 161.04V174.94M479.42 170.24V184.42M479.48 170.24V181.24M479.58 146.47V161.17M479.66 146.50V156.33M479.74 146.50V157.70M479.82 148.97V158.49M479.87 148.97V162.81M479.96 148.47V161.60M480.03 176.66V187.67M480.14 182.36V195.16M480.21 183.51V199.40M480.26 183.51V194.89M480.36 164.35V174.15M480.43 166.25V179.83M480.51 173.23V182.69M480.60 173.23V187.95M480.66 173.12V183.09M480.73 167.59V183.25M480.79 184.73V198.00M480.89 184.73V195.09M480.98 184.72V200.10M481.03 168.74V180.04M481.15 168.74V178.98M481.22 172.62V185.53M481.30 172.62V187.20M481.34 175.80V186.89M481.42 175.80V191.49M481.52 155.95V168.66M481.60 167.43V179.38M481.68 167.43V176.78M481.73 150.23V162.10M481.84 150.26V164.14M481.88 150.26V165.86M481.98 177.63V190.68M482.05 177.63V190.44M482.12 181.48V196.77M482.20 181.48V193.72M482.30 186.76V198.57M482.38 186.76V197.13M482.46 181.02V195.62M482.52 182.39V191.34M482.62 182.76V197.95M482.68 182.76V196.15M482.75 182.54V196.32M482.84 181.02V191.99M482.89 181.39V194.10M482.99 181.39V193.78M483.06 186.51V200.84M483.16 186.51V197.73M483.21 185.87V201.50M483.29 185.87V199.80M483.39 185.03V195.82M483.47 182.17V194.73M483.51 182.17V195.84M483.60 185.11V198.99M483.68 185.11V196.00M483.76 183.24V196.49M483.84 183.24V194.13M483.92 127.81V139.44M483.98 127.81V138.15M484.09 125.65V140.12M484.16 140.17V156.00M484.21 142.20V154.67M484.29 148.95V159.17M484.36 148.95V158.18M484.47 176.68V192.35M484.54 176.68V188.75M484.62 175.58V188.13M484.69 175.38V188.23M484.76 175.38V186.85M484.83 164.38V173.99M484.92 167.90V182.92M484.99 167.90V181.05M485.09 165.35V180.77M485.15 165.35V179.43M485.21 186.19V195.62M485.29 186.19V195.85M485.38 186.19V199.52M485.49 185.93V197.44M485.53 183.07V196.12M485.62 185.27V200.60M485.73 185.27V196.27M485.77 183.31V198.95M485.86 183.31V197.03M485.93 183.12V192.34M486.03 185.07V199.12M486.10 185.07V195.66M486.17 183.34V194.77M486.25 147.01V161.29M486.31 147.01V162.79M486.42 160.34V174.51M486.48 160.34V171.06M486.57 184.37V195.37M486.64 184.37V193.42M486.71 181.00V191.80M486.81 151.86V166.01M486.86 151.86V161.92M486.96 184.85V195.96M487.02 184.85V197.06M487.08 184.24V198.56M487.19 185.23V197.30M487.24 185.23V197.86M487.35 145.26V155.99M487.39 145.26V161.23M487.51 164.90V173.86M487.57 164.90V178.23M487.65 144.09V159.70M487.72 144.09V156.06M487.78 167.95V180.33M487.89 179.26V189.09M487.97 179.26V189.46M488.04 160.51V176.16M488.11 138.13V148.50M488.20 138.98V148.83M488.27 141.07V151.87M488.33 141.07V154.78M488.42 153.81V163.42M488.51 170.26V183.80M488.57 170.53V184.66M488.67 170.53V184.86M488.73 144.70V156.46M488.80 160.93V173.66M488.87 166.96V179.99M488.94 166.96V177.40M489.06 166.95V181.39M489.10 144.02V155.51M489.20 148.67V158.89M489.27 151.60V167.36M489.36 163.88V176.79M489.41 163.89V179.33M489.52 163.89V177.05M489.58 145.43V157.01M489.65 146.86V158.95M489.72 146.86V157.18M489.79 141.84V151.99M489.89 145.54V160.50M489.96 177.21V191.10M490.03 177.21V192.76M490.13 175.58V187.02M490.17 146.63V159.31M490.28 146.63V160.59M490.33 145.64V155.29M490.41 145.64V156.59M490.50 141.80V155.16M490.55 158.62V169.74M490.67 158.62V169.72M490.71 185.58V198.76M490.81 187.85V197.74M490.90 187.85V197.36M490.94 186.55V202.12M491.03 186.61V197.48M491.11 186.61V199.51M491.19 153.91V168.38M491.27 154.86V165.87M491.35 154.86V167.95M491.44 184.94V197.45M491.48 187.58V201.11M491.59 187.58V201.60M491.63 180.51V191.89M491.75 180.51V191.65M491.78 180.49V191.51M491.90 180.49V190.52M491.95 177.46V191.83M492.04 177.49V190.37M492.12 177.49V189.56M492.18 184.11V193.31M492.25 184.11V195.35M492.32 183.84V199.62M492.42 187.73V201.99M492.48 187.73V201.69M492.59 187.61V202.42M492.67 187.92V203.42M492.74 187.92V198.81M492.82 187.91V202.18M492.89 187.94V203.93M492.98 187.94V203.10M493.02 187.93V200.44M493.10 187.93V198.24M493.20 187.81V201.11M493.26 187.96V201.96M493.34 187.96V199.39M493.43 187.95V202.77M493.50 188.00V200.64M493.58 188.00V198.39M493.66 187.94V199.32M493.72 187.93V197.31M493.82 187.94V203.53M493.89 187.96V198.35M493.94 187.96V201.02M494.06 148.81V160.47M494.12 152.34V166.80M494.20 152.36V165.82M494.26 152.36V162.19M494.36 157.58V170.65M494.44 157.58V170.08M494.49 145.02V157.90M494.56 155.57V169.43M494.66 155.57V166.90M494.74 169.39V182.48M494.83 169.39V181.12M494.89 171.62V186.27M494.96 171.62V182.28M495.04 180.65V193.98M495.10 180.65V193.88M495.20 153.61V168.74M495.26 154.03V167.34M495.35 165.23V180.20M495.44 165.23V179.60M495.51 153.57V165.75M495.60 153.57V167.76M495.65 181.99V196.80M495.73 181.99V191.76M495.82 186.60V202.60M495.90 187.46V200.07M495.98 187.46V200.74M496.03 183.33V199.31M496.13 183.33V198.63M496.19 181.84V197.61M496.29 181.84V192.59M496.38 187.76V199.90M496.43 187.89V201.09M496.52 187.89V201.15M496.60 187.80V201.95M496.68 187.80V200.89M496.72 187.98V197.51M496.83 187.98V201.60M496.88 187.96V201.18M496.99 187.96V198.00M497.05 187.90V203.89M497.14 187.90V202.75M497.19 187.86V201.87M497.30 187.91V202.01M497.35 187.91V201.00M497.45 187.78V199.90M497.52 187.78V201.75M497.60 187.47V196.39M497.68 187.47V200.70M497.76 136.73V149.24M497.84 136.73V152.58M497.90 136.75V149.37M498.00 137.32V153.01M498.06 137.32V147.32M498.12 160.23V170.57M498.21 161.15V171.13M498.30 161.15V175.90M498.35 170.75V183.67M498.44 170.75V183.42M498.52 122.94V132.05M498.59 133.36V147.68M498.68 133.36V144.30M498.74 149.56V162.10M498.84 149.56V164.78M498.90 166.91V176.95M498.99 187.17V199.88M499.05 187.17V198.24M499.14 162.16V171.66M499.21 146.96V159.16M499.31 147.63V161.97M499.36 147.63V157.24M499.45 187.84V201.23M499.54 187.89V202.01M499.59 187.89V199.04M499.67 187.84V200.35M499.79 187.70V199.94M499.83 187.70V199.09M499.94 187.98V201.71M499.97 187.98V197.11M500.06 187.74V199.80M500.13 187.74V202.99M500.24 187.76V203.15M500.29 187.76V198.86M500.36 187.74V198.86M500.47 187.80V202.26M500.54 187.80V199.34M500.61 187.98V197.32M500.70 187.98V202.84M500.79 187.96V196.99M500.85 187.96V202.85M500.94 187.96V199.42M500.98 187.18V196.22M501.08 187.18V197.06M501.13 187.69V200.92M501.24 187.69V197.78M501.32 187.19V198.06M501.39 187.19V198.44M501.46 187.59V198.68M501.52 187.87V201.72M501.63 187.87V202.40M501.69 187.61V201.87M501.79 187.61V201.12M501.86 185.99V195.65M501.90 186.01V201.09M501.99 186.01V198.22M502.05 187.10V201.31M502.16 187.10V198.67M502.21 186.29V200.26M502.30 186.29V198.63M502.36 186.78V198.88M502.46 186.78V198.79M502.52 186.76V198.11M502.59 186.55V197.79M502.68 186.56V199.62M502.75 186.56V197.51M502.85 186.55V200.09M502.91 185.51V195.50M503.01 186.09V198.91M503.05 187.40V197.78M503.14 187.57V200.84M503.22 187.57V203.06M503.33 185.62V195.05M503.40 187.82V197.89M503.44 187.82V201.02M503.54 187.99V198.24M503.62 187.99V203.01M503.69 187.98V198.65M503.76 187.91V200.09M503.86 187.84V203.81M503.90 187.86V203.68M504.00 187.86V203.19M504.05 187.89V201.27M504.17 187.89V202.51M504.25 187.58V202.23M504.32 187.60V198.69M504.38 187.60V197.51M504.45 187.60V197.08M504.54 186.50V197.52M504.61 186.50V197.19M504.69 185.71V197.65M504.76 187.87V202.87M504.86 187.87V203.18M504.91 187.46V203.01M504.99 187.46V200.98M505.07 186.00V199.02M505.15 187.08V199.83M505.23 187.08V200.85M505.31 185.65V198.05M505.38 185.65V200.07M505.48 111.73V122.24" stroke="rgb(0,0,0)" stroke-width="0.25" fill="none"/>
<path d="M316.06 118.49H316.11M316.09 117.49V118.49M316.27 161.94H316.33M316.30 121.91V161.94M316.19 121.91H316.30M316.25 117.49V121.91M316.25 117.49H316.43M316.34 117.49V117.49M316.09 117.49H316.34M316.21 116.87V117.49M316.59 163.02H316.64M316.62 162.67V163.02M316.62 162.67H316.73M316.67 152.14V162.67M316.67 152.14H316.79M316.73 148.32V152.14M316.51 148.32H316.73M316.62 140.15V148.32M317.02 140.27H317.14M317.08 140.16V140.27M316.98 140.16H317.08M317.03 140.16V140.16M316.90 140.16H317.03M316.97 140.15V140.16M316.62 140.15H316.97M316.79 139.99V140.15M317.22 142.93H317.28M317.25 139.99V142.93M316.79 139.99H317.25M317.02 116.87V139.99M316.21 116.87H317.02M316.62 116.84V116.87M317.59 184.60H317.64M317.61 183.19V184.60M317.48 183.19H317.61M317.55 182.53V183.19M317.41 182.53H317.55M317.48 179.80V182.53M317.36 179.80H317.48M317.42 122.09V179.80M317.73 178.87H317.80M317.76 176.68V178.87M317.87 179.05H317.97M317.92 176.68V179.05M317.76 176.68H317.92M317.84 167.82V176.68M318.05 181.87H318.14M318.09 174.69V181.87M318.29 177.80H318.36M318.32 174.69V177.80M318.20 174.69H318.32M318.26 174.69V174.69M318.09 174.69H318.26M318.18 167.82V174.69M317.84 167.82H318.18M318.01 122.09V167.82M317.42 122.09H318.01M317.72 116.84V122.09M316.62 116.84H317.72M317.17 113.99V116.84M318.44 166.86H318.51M318.48 129.29V166.86M318.69 184.16H318.77M318.73 130.79V184.16M318.58 130.79H318.73M318.65 129.29V130.79M318.48 129.29H318.65M318.57 129.09V129.29M319.04 177.07H319.12M319.08 177.04V177.07M318.97 177.04H319.08M319.02 173.94V177.04M318.91 173.94H319.02M318.97 170.96V173.94M318.84 170.96H318.97M318.90 166.89V170.96M319.30 187.11H319.36M319.33 186.84V187.11M319.19 186.84H319.33M319.26 166.89V186.84M318.90 166.89H319.26M319.08 159.89V166.89M319.08 159.89H319.46M319.27 129.09V159.89M318.57 129.09H319.27M318.92 128.68V129.09M319.51 135.99H319.62M319.56 135.44V135.99M319.69 183.12H319.73M319.71 182.77V183.12M319.71 182.77H319.81M319.76 172.69V182.77M319.76 172.69H319.92M319.84 172.68V172.69M319.98 172.75H320.08M320.03 172.68V172.75M319.84 172.68H320.03M319.94 135.44V172.68M319.56 135.44H319.94M319.75 128.82V135.44M320.30 175.49H320.38M320.34 175.49V175.49M320.19 175.49H320.34M320.27 174.39V175.49M320.43 187.99H320.50M320.47 174.39V187.99M320.27 174.39H320.47M320.37 174.07V174.39M320.13 174.07H320.37M320.25 154.84V174.07M320.59 176.03H320.70M320.65 154.84V176.03M320.25 154.84H320.65M320.45 128.82V154.84M319.75 128.82H320.45M320.10 128.68V128.82M318.92 128.68H320.10M319.51 127.25V128.68M320.81 170.31H320.90M320.86 170.24V170.31M320.86 170.24H320.97M320.91 167.84V170.24M320.77 167.84H320.91M320.84 135.72V167.84M321.04 140.88H321.15M321.10 135.72V140.88M320.84 135.72H321.10M320.97 135.26V135.72M321.30 176.25H321.37M321.33 175.17V176.25M321.33 175.17H321.44M321.39 135.27V175.17M321.20 135.27H321.39M321.29 135.26V135.27M320.97 135.26H321.29M321.13 135.17V135.26M321.69 136.68H321.74M321.72 136.68V136.68M321.72 136.68H321.83M321.77 136.27V136.68M321.59 136.27H321.77M321.68 136.25V136.27M321.68 136.25H321.90M321.79 135.25V136.25M322.09 165.56H322.16M322.13 144.90V165.56M321.98 144.90H322.13M322.05 135.51V144.90M322.05 135.51H322.21M322.13 135.25V135.51M321.79 135.25H322.13M321.96 135.17V135.25M321.54 135.17H321.96M321.75 135.17V135.17M321.13 135.17H321.75M321.44 127.25V135.17M319.51 127.25H321.44M320.47 113.99V127.25M317.17 113.99H320.47M322.37 172.57H322.47M322.42 167.00V172.57M322.28 167.00H322.42M322.35 152.70V167.00M322.52 187.60H322.59M322.56 186.63V187.60M322.85 186.63H322.90M322.88 186.63V186.63M322.76 186.63H322.88M322.82 186.63V186.63M322.70 186.63H322.82M322.76 186.63V186.63M322.76 186.63H322.99M322.88 186.63V186.63M322.56 186.63H322.88M322.72 152.70V186.63M322.35 152.70H322.72M322.53 141.68V152.70M323.08 183.81H323.13M323.11 161.16V183.81M323.21 172.63H323.31M323.26 161.16V172.63M323.11 161.16H323.26M323.18 142.10V161.16M323.40 163.05H323.48M323.44 148.32V163.05M323.61 148.81H323.70M323.66 148.45V148.81M323.52 148.45H323.66M323.59 148.32V148.45M323.44 148.32H323.59M323.52 142.10V148.32M323.18 142.10H323.52M323.35 141.68V142.10M322.53 141.68H323.35M322.94 137.73V141.68M323.77 150.76H323.85M323.81 147.30V150.76M323.91 167.80H323.98M323.95 147.30V167.80M323.81 147.30H323.95M323.88 143.97V147.30M324.06 155.17H324.13M324.10 145.60V155.17M324.24 178.95H324.31M324.27 178.95V178.95M324.27 178.95H324.39M324.33 177.37V178.95M324.45 177.37H324.53M324.49 177.37V177.37M324.33 177.37H324.49M324.41 145.60V177.37M324.10 145.60H324.41M324.25 143.97V145.60M323.88 143.97H324.25M324.07 137.74V143.97M324.61 179.11H324.71M324.66 157.49V179.11M324.87 182.15H324.91M324.89 182.05V182.15M324.80 182.05H324.89M324.84 157.49V182.05M324.66 157.49H324.84M324.75 157.34V157.49M324.99 173.38H325.10M325.04 172.81V173.38M325.25 187.39H325.31M325.28 182.56V187.39M325.28 182.56H325.39M325.33 182.56V182.56M325.16 182.56H325.33M325.25 172.81V182.56M325.04 172.81H325.25M325.15 160.37V172.81M325.68 182.05H325.79M325.73 181.81V182.05M325.73 181.81H325.87M325.80 166.46V181.81M325.63 166.46H325.80M325.72 160.38V166.46M325.54 160.38H325.72M325.63 160.38V160.38M325.47 160.38H325.63M325.55 160.37V160.38M325.15 160.37H325.55M325.35 160.37V160.37M326.01 178.46H326.10M326.05 170.00V178.46M325.92 170.00H326.05M325.99 169.16V170.00M326.16 171.12H326.23M326.19 169.16V171.12M325.99 169.16H326.19M326.09 160.37V169.16M325.35 160.37H326.09M325.72 157.34V160.37M324.75 157.34H325.72M325.23 137.74V157.34M324.07 137.74H325.23M324.65 137.73V137.74M322.94 137.73H324.65M323.80 127.79V137.73M326.40 175.85H326.45M326.42 168.69V175.85M326.57 168.69H326.64M326.61 168.69V168.69M326.42 168.69H326.61M326.52 168.66V168.69M326.30 168.66H326.52M326.41 131.95V168.66M326.72 174.48H326.80M326.76 171.20V174.48M326.87 171.90H326.93M326.90 171.20V171.90M326.76 171.20H326.90M326.83 136.00V171.20M327.02 184.39H327.09M327.06 166.99V184.39M327.26 167.22H327.31M327.29 167.22V167.22M327.19 167.22H327.29M327.24 166.99V167.22M327.06 166.99H327.24M327.15 136.00V166.99M326.83 136.00H327.15M326.99 131.95V136.00M326.41 131.95H326.99M326.70 129.81V131.95M327.49 187.60H327.57M327.53 187.59V187.60M327.42 187.59H327.53M327.48 187.59V187.59M327.71 187.90H327.81M327.76 187.63V187.90M327.65 187.63H327.76M327.70 187.59V187.63M327.88 187.64H327.95M327.92 187.63V187.64M327.92 187.63H328.03M327.97 187.59V187.63M327.70 187.59H327.97M327.84 187.59V187.59M327.48 187.59H327.84M327.66 187.59V187.59M328.11 187.69H328.17M328.14 187.59V187.69M328.14 187.59H328.26M328.20 187.59V187.59M327.66 187.59H328.20M327.93 170.79V187.59M328.31 176.03H328.40M328.35 170.79V176.03M327.93 170.79H328.35M328.14 155.01V170.79M328.14 155.01H328.48M328.31 132.64V155.01M328.54 187.83H328.63M328.58 187.73V187.83M328.72 187.73H328.80M328.76 187.73V187.73M328.58 187.73H328.76M328.67 186.69V187.73M328.97 186.72H329.03M329.00 186.72V186.72M328.86 186.72H329.00M328.93 186.69V186.72M328.67 186.69H328.93M328.80 186.39V186.69M329.19 187.90H329.26M329.22 187.56V187.90M329.22 187.56H329.34M329.28 187.26V187.56M329.09 187.26H329.28M329.19 187.26V187.26M329.51 187.54H329.57M329.54 187.40V187.54M329.65 187.77H329.73M329.69 187.54V187.77M329.82 187.59H329.85M329.84 187.54V187.59M329.69 187.54H329.84M329.76 187.54V187.54M329.76 187.54H329.96M329.86 187.40V187.54M329.54 187.40H329.86M329.70 187.27V187.40M329.41 187.27H329.70M329.55 187.26V187.27M329.19 187.26H329.55M329.37 186.39V187.26M328.80 186.39H329.37M329.09 132.64V186.39M328.31 132.64H329.09M328.70 129.81V132.64M326.70 129.81H328.70M327.70 127.86V129.81M330.04 187.73H330.10M330.07 187.73V187.73M330.18 187.98H330.24M330.21 187.73V187.98M330.07 187.73H330.21M330.14 187.70V187.73M330.41 187.99H330.47M330.44 187.98V187.99M330.44 187.98H330.56M330.50 187.93V187.98M330.32 187.93H330.50M330.41 187.92V187.93M330.73 187.99H330.80M330.76 187.98V187.99M330.67 187.98H330.76M330.72 187.92V187.98M330.41 187.92H330.72M330.56 187.70V187.92M330.14 187.70H330.56M330.35 187.70V187.70M330.96 187.71H331.06M331.01 187.70V187.71M330.90 187.70H331.01M330.95 187.70V187.70M330.35 187.70H330.95M330.65 187.66V187.70M331.20 187.84H331.25M331.22 187.84V187.84M331.12 187.84H331.22M331.17 187.83V187.84M331.43 187.85H331.48M331.45 187.84V187.85M331.35 187.84H331.45M331.40 187.83V187.84M331.17 187.83H331.40M331.29 187.70V187.83M331.29 187.70H331.59M331.44 187.66V187.70M330.65 187.66H331.44M331.05 127.86V187.66M327.70 127.86H331.05M329.37 127.79V127.86M323.80 127.79H329.37M326.58 122.19V127.79M331.64 125.68H331.73M331.68 125.68V125.68M331.88 170.42H331.97M331.93 148.65V170.42M331.79 148.65H331.93M331.86 125.68V148.65M331.68 125.68H331.86M331.77 122.19V125.68M326.58 122.19H331.77M332.04 164.73H332.12M332.08 163.98V164.73M332.22 164.34H332.29M332.25 163.98V164.34M332.08 163.98H332.25M332.17 161.62V163.98M332.44 164.74H332.52M332.48 164.45V164.74M332.37 164.45H332.48M332.43 161.63V164.45M332.74 182.73H332.80M332.77 182.73V182.73M332.77 182.73H332.90M332.84 179.68V182.73M332.67 179.68H332.84M332.75 161.71V179.68M332.58 161.71H332.75M332.67 161.63V161.71M332.43 161.63H332.67M332.55 161.62V161.63M332.17 161.62H332.55M332.36 161.53V161.62M333.04 171.18H333.11M333.07 161.89V171.18M332.97 161.89H333.07M333.02 161.53V161.89M332.36 161.53H333.02M332.69 122.88V161.53M333.27 153.31H333.38M333.33 137.82V153.31M333.21 137.82H333.33M333.27 127.50V137.82M333.45 132.99H333.52M333.48 127.50V132.99M333.48 127.50H333.59M333.54 127.50V127.50M333.27 127.50H333.54M333.40 126.96V127.50M333.69 148.97H333.73M333.71 139.75V148.97M333.91 148.87H333.99M333.95 148.87V148.87M333.82 148.87H333.95M333.88 139.75V148.87M333.71 139.75H333.88M333.80 126.96V139.75M333.40 126.96H333.80M333.60 126.43V126.96M334.07 156.06H334.13M334.10 156.04V156.06M334.10 156.04H334.23M334.17 143.29V156.04M334.29 187.26H334.37M334.33 185.79V187.26M334.46 187.54H334.53M334.49 185.79V187.54M334.33 185.79H334.49M334.41 143.29V185.79M334.17 143.29H334.41M334.29 143.29V143.29M334.86 153.87H334.94M334.90 152.39V153.87M334.78 152.39H334.90M334.84 151.58V152.39M334.68 151.58H334.84M334.76 151.33V151.58M334.61 151.33H334.76M334.68 143.29V151.33M334.29 143.29H334.68M334.49 126.43V143.29M333.60 126.43H334.49M334.04 122.88V126.43M332.69 122.88H334.04M333.37 118.81V122.88M335.17 163.28H335.22M335.19 163.17V163.28M335.10 163.17H335.19M335.15 163.10V163.17M334.99 163.10H335.15M335.07 162.22V163.10M335.49 174.74H335.53M335.51 167.55V174.74M335.41 167.55H335.51M335.46 167.32V167.55M335.31 167.32H335.46M335.38 167.24V167.32M335.72 186.77H335.79M335.75 183.75V186.77M335.64 183.75H335.75M335.69 167.25V183.75M335.69 167.25H335.86M335.78 167.24V167.25M335.38 167.24H335.78M335.58 162.22V167.24M335.07 162.22H335.58M335.33 160.36V162.22M335.93 169.49H336.04M335.98 167.85V169.49M336.18 169.03H336.24M336.21 168.85V169.03M336.12 168.85H336.21M336.17 167.85V168.85M335.98 167.85H336.17M336.08 161.31V167.85M336.35 161.62H336.43M336.39 161.31V161.62M336.08 161.31H336.39M336.23 160.36V161.31M335.33 160.36H336.23M335.78 118.81V160.36M333.37 118.81H335.78M334.57 118.75V118.81M334.57 118.75H336.48M336.70 173.25H336.81M336.75 171.26V173.25M336.62 171.26H336.75M336.69 171.17V171.26M336.55 171.17H336.69M336.62 170.68V171.17M336.62 170.68H336.88M336.75 164.47V170.68M336.97 175.72H337.06M337.01 170.94V175.72M337.10 179.32H337.20M337.15 174.36V179.32M337.15 174.36H337.29M337.22 174.17V174.36M337.22 174.17H337.33M337.28 170.94V174.17M337.01 170.94H337.28M337.14 170.93V170.94M337.43 179.38H337.51M337.47 170.94V179.38M337.82 185.22H337.87M337.85 183.50V185.22M337.72 183.50H337.85M337.78 183.47V183.50M337.68 183.47H337.78M337.73 183.00V183.47M337.60 183.00H337.73M337.67 175.35V183.00M338.04 179.11H338.11M338.07 179.11V179.11M337.97 179.11H338.07M338.02 175.35V179.11M337.67 175.35H338.02M337.84 170.94V175.35M337.47 170.94H337.84M337.66 170.93V170.94M337.14 170.93H337.66M337.40 164.47V170.93M338.27 187.91H338.36M338.32 185.77V187.91M338.20 185.77H338.32M338.26 185.65V185.77M338.50 187.33H338.59M338.54 185.72V187.33M338.43 185.72H338.54M338.49 185.65V185.72M338.26 185.65H338.49M338.37 164.47V185.65M338.67 165.91H338.73M338.70 165.79V165.91M338.84 171.40H338.89M338.86 165.79V171.40M338.70 165.79H338.86M338.78 164.47V165.79M338.37 164.47H338.78M338.58 164.47V164.47M337.40 164.47H338.58M337.99 164.47V164.47M336.75 164.47H337.99M337.37 104.62V164.47M338.96 158.99H339.05M339.01 158.68V158.99M339.20 159.55H339.30M339.25 159.55V159.55M339.14 159.55H339.25M339.19 158.68V159.55M339.01 158.68H339.19M339.10 158.10V158.68M339.45 175.70H339.54M339.50 172.92V175.70M339.38 172.92H339.50M339.44 159.44V172.92M339.59 182.55H339.68M339.63 159.66V182.55M339.82 167.16H339.92M339.87 166.81V167.16M339.76 166.81H339.87M339.81 159.66V166.81M339.63 159.66H339.81M339.72 159.44V159.66M339.44 159.44H339.72M339.58 158.13V159.44M339.98 171.36H340.08M340.03 158.13V171.36M340.16 169.97H340.23M340.19 158.13V169.97M340.03 158.13H340.19M340.11 158.13V158.13M339.58 158.13H340.11M339.85 158.10V158.13M339.10 158.10H339.85M339.47 104.81V158.10M340.38 136.49H340.44M340.41 135.50V136.49M340.30 135.50H340.41M340.36 132.09V135.50M340.54 146.61H340.64M340.59 132.09V146.61M340.59 132.09H340.70M340.65 132.09V132.09M340.36 132.09H340.65M340.50 131.46V132.09M340.50 131.46H340.77M340.63 129.32V131.46M340.86 132.75H340.92M340.89 131.69V132.75M341.10 186.62H341.19M341.14 185.62V186.62M341.01 185.62H341.14M341.08 132.74V185.62M341.33 179.94H341.42M341.38 178.13V179.94M341.24 178.13H341.38M341.31 175.61V178.13M341.31 175.61H341.49M341.40 174.15V175.61M341.56 175.03H341.64M341.60 174.16V175.03M341.71 176.49H341.79M341.75 174.16V176.49M341.60 174.16H341.75M341.68 174.15V174.16M341.40 174.15H341.68M341.54 132.74V174.15M341.08 132.74H341.54M341.31 131.69V132.74M340.89 131.69H341.31M341.10 129.32V131.69M340.63 129.32H341.10M340.87 129.32V129.32M341.86 132.82H341.96M341.91 129.32V132.82M340.87 129.32H341.91M341.39 104.81V129.32M339.47 104.81H341.39M340.43 104.62V104.81M337.37 104.62H340.43M342.04 137.76H342.09M342.07 137.72V137.76M342.19 162.88H342.28M342.24 137.72V162.88M342.07 137.72H342.24M342.15 126.84V137.72M342.59 186.85H342.64M342.61 173.61V186.85M342.47 173.61H342.61M342.54 173.35V173.61M342.43 173.35H342.54M342.49 173.33V173.35M342.33 173.33H342.49M342.41 168.57V173.33M342.41 168.57H342.71M342.56 168.57V168.57M342.81 187.89H342.88M342.85 187.88V187.89M342.97 187.88H343.04M343.01 187.88V187.88M342.85 187.88H343.01M342.93 187.84V187.88M342.93 187.84H343.12M343.02 168.57V187.84M342.56 168.57H343.02M342.79 126.84V168.57M342.15 126.84H342.79M342.47 126.23V126.84M343.18 184.98H343.28M343.23 171.32V184.98M343.23 171.32H343.32M343.27 171.29V171.32M343.43 172.85H343.50M343.46 171.30V172.85M343.66 173.60H343.72M343.69 172.91V173.60M343.56 172.91H343.69M343.62 171.30V172.91M343.46 171.30H343.62M343.54 171.29V171.30M343.27 171.29H343.54M343.41 169.97V171.29M343.94 174.56H344.02M343.98 171.62V174.56M343.89 171.62H343.98M343.94 169.98V171.62M343.80 169.98H343.94M343.87 169.97V169.98M343.41 169.97H343.87M343.64 126.23V169.97M342.47 126.23H343.64M343.05 124.88V126.23M344.26 164.95H344.35M344.31 163.80V164.95M344.16 163.80H344.31M344.23 163.43V163.80M344.48 163.59H344.58M344.53 163.47V163.59M344.41 163.47H344.53M344.47 163.46V163.47M344.66 163.99H344.73M344.70 163.46V163.99M344.47 163.46H344.70M344.59 163.43V163.46M344.23 163.43H344.59M344.41 147.92V163.43M344.80 152.39H344.90M344.85 152.39V152.39M344.85 152.39H344.97M344.91 152.20V152.39M345.17 163.66H345.24M345.20 163.66V163.66M345.10 163.66H345.20M345.15 154.28V163.66M345.15 154.28H345.33M345.24 153.34V154.28M345.01 153.34H345.24M345.13 152.20V153.34M344.91 152.20H345.13M345.02 147.92V152.20M344.41 147.92H345.02M344.71 144.22V147.92M344.11 144.22H344.71M344.41 124.97V144.22M345.43 155.88H345.51M345.47 154.82V155.88M345.55 172.24H345.63M345.59 172.22V172.24M345.59 172.22H345.72M345.66 154.82V172.22M345.47 154.82H345.66M345.56 124.98V154.82M345.88 178.79H345.97M345.93 173.37V178.79M345.82 173.37H345.93M345.87 124.98V173.37M346.01 141.30H346.13M346.07 141.29V141.30M346.17 144.10H346.27M346.22 141.29V144.10M346.07 141.29H346.22M346.15 124.98V141.29M345.87 124.98H346.15M346.01 124.98V124.98M345.56 124.98H346.01M345.79 124.97V124.98M344.41 124.97H345.79M345.10 124.88V124.97M343.05 124.88H345.10M344.08 120.82V124.88M346.36 180.48H346.43M346.39 180.33V180.48M346.48 180.66H346.58M346.53 180.33V180.66M346.39 180.33H346.53M346.46 156.90V180.33M346.70 171.16H346.80M346.75 170.59V171.16M346.65 170.59H346.75M346.70 170.24V170.59M346.70 170.24H346.87M346.78 160.58V170.24M346.96 172.09H347.02M346.99 171.94V172.09M347.12 180.54H347.20M347.16 180.12V180.54M347.32 182.01H347.43M347.38 180.63V182.01M347.25 180.63H347.38M347.31 180.12V180.63M347.16 180.12H347.31M347.23 171.94V180.12M346.99 171.94H347.23M347.11 171.61V171.94M347.49 172.03H347.56M347.53 171.61V172.03M347.11 171.61H347.53M347.32 160.58V171.61M346.78 160.58H347.32M347.05 159.54V160.58M347.05 159.54H347.63M347.34 156.90V159.54M346.46 156.90H347.34M346.90 144.12V156.90M347.87 179.48H347.94M347.91 177.96V179.48M347.81 177.96H347.91M347.86 172.68V177.96M347.75 172.68H347.86M347.80 161.28V172.68M348.20 186.22H348.26M348.23 186.21V186.22M348.12 186.21H348.23M348.18 186.21V186.21M348.06 186.21H348.18M348.12 183.69V186.21M348.33 185.70H348.42M348.38 185.61V185.70M348.58 187.13H348.65M348.61 187.08V187.13M348.48 187.08H348.61M348.55 186.71V187.08M348.55 186.71H348.74M348.65 185.61V186.71M348.38 185.61H348.65M348.51 183.69V185.61M348.12 183.69H348.51M348.31 161.28V183.69M347.80 161.28H348.31M348.06 144.12V161.28M346.90 144.12H348.06M347.48 142.90V144.12M348.96 161.58H349.06M349.01 157.42V161.58M348.88 157.42H349.01M348.94 148.29V157.42M348.80 148.29H348.94M348.87 148.04V148.29M349.11 148.05H349.20M349.15 148.05V148.05M349.52 165.30H349.57M349.54 165.30V165.30M349.41 165.30H349.54M349.48 165.22V165.30M349.35 165.22H349.48M349.41 165.16V165.22M349.26 165.16H349.41M349.33 148.05V165.16M349.15 148.05H349.33M349.24 148.04V148.05M348.87 148.04H349.24M349.06 144.00V148.04M349.67 186.55H349.74M349.70 184.50V186.55M349.70 184.50H349.81M349.75 144.96V184.50M349.90 152.71H349.96M349.93 144.96V152.71M349.75 144.96H349.93M349.84 144.00V144.96M349.06 144.00H349.84M349.45 142.90V144.00M347.48 142.90H349.45M348.47 120.82V142.90M344.08 120.82H348.47M350.21 159.14H350.25M350.23 159.14V159.14M350.13 159.14H350.23M350.18 159.09V159.14M350.02 159.09H350.18M350.10 159.09V159.09M350.44 159.09H350.51M350.48 159.09V159.09M350.33 159.09H350.48M350.40 159.09V159.09M350.10 159.09H350.40M350.25 159.00V159.09M350.58 181.42H350.66M350.62 169.25V181.42M350.75 184.20H350.82M350.78 169.65V184.20M351.06 187.07H351.14M351.10 187.04V187.07M350.94 187.04H351.10M351.02 187.03V187.04M350.86 187.03H351.02M350.94 169.65V187.03M350.78 169.65H350.94M350.86 169.25V169.65M350.62 169.25H350.86M350.74 159.00V169.25M350.25 159.00H350.74M350.50 153.05V159.00M351.21 164.24H351.27M351.24 163.96V164.24M351.24 163.96H351.34M351.29 161.94V163.96M351.29 161.94H351.42M351.36 161.93V161.94M351.36 161.93H351.48M351.42 160.83V161.93M351.65 160.95H351.74M351.69 160.92V160.95M351.69 160.92H351.81M351.75 160.91V160.92M351.59 160.91H351.75M351.67 160.83V160.91M351.42 160.83H351.67M351.55 153.07V160.83M351.98 184.94H352.04M352.01 182.02V184.94M351.88 182.02H352.01M351.95 179.41V182.02M352.22 187.07H352.26M352.24 186.75V187.07M352.11 186.75H352.24M352.17 179.41V186.75M351.95 179.41H352.17M352.06 155.14V179.41M352.06 155.14H352.34M352.20 153.07V155.14M351.55 153.07H352.20M351.87 153.05V153.07M350.50 153.05H351.87M351.18 125.18V153.05M352.51 184.82H352.60M352.55 184.82V184.82M352.42 184.82H352.55M352.49 126.15V184.82M352.65 134.76H352.73M352.69 126.15V134.76M352.49 126.15H352.69M352.59 125.98V126.15M352.82 132.94H352.88M352.85 127.61V132.94M353.04 128.92H353.14M353.09 128.92V128.92M352.97 128.92H353.09M353.03 128.33V128.92M353.03 128.33H353.19M353.11 127.69V128.33M353.11 127.69H353.27M353.19 127.61V127.69M352.85 127.61H353.19M353.02 125.98V127.61M352.59 125.98H353.02M352.80 125.18V125.98M351.18 125.18H352.80M351.99 108.71V125.18M353.43 124.42H353.52M353.47 116.91V124.42M353.35 116.91H353.47M353.41 116.89V116.91M353.60 152.89H353.68M353.64 125.57V152.89M353.74 175.93H353.80M353.77 173.73V175.93M353.77 173.73H353.91M353.84 128.47V173.73M353.96 128.47H354.04M354.00 128.47V128.47M353.84 128.47H354.00M353.92 125.57V128.47M353.64 125.57H353.92M353.78 117.89V125.57M354.35 174.27H354.46M354.40 174.27V174.27M354.28 174.27H354.40M354.34 174.23V174.27M354.23 174.23H354.34M354.28 173.28V174.23M354.12 173.28H354.28M354.20 117.89V173.28M353.78 117.89H354.20M353.99 116.90V117.89M354.54 156.49H354.59M354.56 156.26V156.49M354.76 174.26H354.84M354.80 166.83V174.26M354.65 166.83H354.80M354.72 156.26V166.83M354.56 156.26H354.72M354.64 154.80V156.26M354.89 155.53H354.99M354.94 154.80V155.53M354.64 154.80H354.94M354.79 123.10V154.80M355.05 142.63H355.12M355.09 123.30V142.63M355.36 170.48H355.46M355.41 132.17V170.48M355.30 132.17H355.41M355.35 127.76V132.17M355.67 155.24H355.73M355.70 155.24V155.24M355.59 155.24H355.70M355.65 150.98V155.24M355.50 150.98H355.65M355.57 148.85V150.98M355.57 148.85H355.85M355.71 127.76V148.85M355.35 127.76H355.71M355.53 126.82V127.76M355.21 126.82H355.53M355.37 123.30V126.82M355.09 123.30H355.37M355.23 123.10V123.30M354.79 123.10H355.23M355.01 116.90V123.10M353.99 116.90H355.01M354.50 116.89V116.90M353.41 116.89H354.50M353.96 108.71V116.89M351.99 108.71H353.96M352.98 100.80V108.71M355.89 165.80H355.97M355.93 165.63V165.80M356.08 165.65H356.16M356.12 165.63V165.65M355.93 165.63H356.12M356.02 165.10V165.63M356.28 165.39H356.39M356.33 165.35V165.39M356.23 165.35H356.33M356.28 165.10V165.35M356.02 165.10H356.28M356.15 165.10V165.10M356.53 175.87H356.62M356.57 175.87V175.87M356.43 175.87H356.57M356.50 165.10V175.87M356.15 165.10H356.50M356.33 165.10V165.10M356.84 172.02H356.92M356.88 171.84V172.02M356.74 171.84H356.88M356.81 165.70V171.84M356.66 165.70H356.81M356.73 165.10V165.70M356.33 165.10H356.73M356.53 104.28V165.10M356.99 150.36H357.08M357.04 150.36V150.36M357.14 150.36H357.21M357.17 150.36V150.36M357.04 150.36H357.17M357.11 150.36V150.36M357.36 181.29H357.47M357.41 181.26V181.29M357.41 181.26H357.50M357.46 176.08V181.26M357.27 176.08H357.46M357.37 161.12V176.08M357.59 181.25H357.67M357.63 162.64V181.25M357.82 163.50H357.90M357.86 162.76V163.50M357.73 162.76H357.86M357.80 162.64V162.76M357.63 162.64H357.80M357.71 161.12V162.64M357.37 161.12H357.71M357.54 150.36V161.12M357.11 150.36H357.54M357.32 107.80V150.36M357.97 168.87H358.07M358.02 140.71V168.87M358.22 159.28H358.31M358.26 149.32V159.28M358.14 149.32H358.26M358.20 140.71V149.32M358.02 140.71H358.20M358.11 139.44V140.71M358.37 139.82H358.47M358.42 139.44V139.82M358.11 139.44H358.42M358.27 139.44V139.44M358.66 141.68H358.75M358.71 140.88V141.68M358.59 140.88H358.71M358.65 140.86V140.88M358.51 140.86H358.65M358.58 139.44V140.86M358.27 139.44H358.58M358.42 107.80V139.44M357.32 107.80H358.42M357.87 104.28V107.80M356.53 104.28H357.87M357.20 100.80V104.28M352.98 100.80H357.20M358.91 178.76H358.99M358.95 170.63V178.76M358.83 170.63H358.95M358.89 161.32V170.63M359.07 161.73H359.15M359.11 161.32V161.73M359.23 162.55H359.32M359.27 161.32V162.55M359.11 161.32H359.27M359.19 161.32V161.32M358.89 161.32H359.19M359.04 149.33V161.32M359.04 149.33H359.40M359.22 149.33V149.33M359.44 150.65H359.51M359.48 149.33V150.65M359.60 158.50H359.67M359.64 157.95V158.50M359.78 161.22H359.85M359.82 157.95V161.22M359.64 157.95H359.82M359.73 149.33V157.95M359.48 149.33H359.73M359.60 149.33V149.33M359.22 149.33H359.60M359.41 112.54V149.33M359.91 159.87H359.99M359.95 146.40V159.87M359.95 146.40H360.10M360.02 136.33V146.40M360.32 154.86H360.40M360.36 154.81V154.86M360.24 154.81H360.36M360.30 139.16V154.81M360.17 139.16H360.30M360.24 136.33V139.16M360.02 136.33H360.24M360.13 136.33V136.33M360.46 145.68H360.54M360.50 137.60V145.68M360.62 137.78H360.72M360.67 137.60V137.78M360.50 137.60H360.67M360.59 136.39V137.60M360.99 159.80H361.08M361.03 156.06V159.80M360.95 156.06H361.03M360.99 156.06V156.06M360.87 156.06H360.99M360.93 156.06V156.06M360.80 156.06H360.93M360.87 138.07V156.06M361.25 140.23H361.32M361.28 139.64V140.23M361.19 139.64H361.28M361.24 138.07V139.64M360.87 138.07H361.24M361.05 136.39V138.07M360.59 136.39H361.05M360.82 136.33V136.39M360.13 136.33H360.82M360.47 122.30V136.33M361.39 122.48H361.49M361.44 122.30V122.48M360.47 122.30H361.44M360.96 112.54V122.30M359.41 112.54H360.96M360.18 112.51V112.54M361.55 188.00H361.65M361.60 188.00V188.00M361.69 188.00H361.81M361.75 188.00V188.00M361.60 188.00H361.75M361.68 187.99V188.00M361.93 188.00H362.01M361.97 188.00V188.00M361.97 188.00H362.10M362.04 188.00V188.00M361.84 188.00H362.04M361.94 187.99V188.00M361.68 187.99H361.94M361.81 186.41V187.99M362.26 186.93H362.35M362.30 186.93V186.93M362.41 186.95H362.50M362.45 186.93V186.95M362.30 186.93H362.45M362.38 186.44V186.93M362.16 186.44H362.38M362.27 186.41V186.44M361.81 186.41H362.27M362.04 182.93V186.41M362.70 185.47H362.79M362.75 185.46V185.47M362.64 185.46H362.75M362.70 184.54V185.46M362.57 184.54H362.70M362.63 183.51V184.54M362.89 187.29H362.96M362.93 187.04V187.29M362.93 187.04H363.02M362.97 183.51V187.04M362.63 183.51H362.97M362.80 182.93V183.51M362.04 182.93H362.80M362.42 182.78V182.93M363.19 187.24H363.25M363.22 185.83V187.24M363.22 185.83H363.34M363.28 185.77V185.83M363.47 185.80H363.56M363.52 185.80V185.80M363.42 185.80H363.52M363.47 185.77V185.80M363.28 185.77H363.47M363.38 185.77V185.77M363.66 185.84H363.71M363.69 185.77V185.84M363.79 186.83H363.90M363.84 185.80V186.83M363.84 185.80H363.95M363.90 185.77V185.80M363.69 185.77H363.90M363.79 185.77V185.77M363.38 185.77H363.79M363.58 182.78V185.77M363.10 182.78H363.58M363.34 182.78V182.78M362.42 182.78H363.34M362.88 112.51V182.78M360.18 112.51H362.88M364.12 179.16H364.21M364.17 179.16V179.16M364.05 179.16H364.17M364.11 144.64V179.16M364.11 144.64H364.29M364.20 143.66V144.64M364.35 152.80H364.43M364.39 145.04V152.80M364.48 146.88H364.57M364.53 145.04V146.88M364.39 145.04H364.53M364.46 145.01V145.04M364.74 159.87H364.80M364.77 158.83V159.87M364.64 158.83H364.77M364.71 154.39V158.83M364.98 169.69H365.05M365.02 169.68V169.69M364.88 169.68H365.02M364.95 154.39V169.68M364.71 154.39H364.95M364.83 145.01V154.39M364.46 145.01H364.83M364.64 143.66V145.01M364.20 143.66H364.64M364.42 135.05V143.66M365.10 140.67H365.18M365.14 139.40V140.67M365.26 162.76H365.34M365.30 162.25V162.76M365.41 171.60H365.52M365.47 162.25V171.60M365.30 162.25H365.47M365.38 162.25V162.25M365.66 162.74H365.72M365.69 162.72V162.74M365.59 162.72H365.69M365.64 162.25V162.72M365.38 162.25H365.64M365.51 139.40V162.25M365.14 139.40H365.51M365.33 135.05V139.40M364.42 135.05H365.33M364.87 134.94V135.05M365.81 160.19H365.88M365.84 155.41V160.19M365.99 157.78H366.04M366.01 155.41V157.78M365.84 155.41H366.01M365.93 148.04V155.41M366.10 174.40H366.21M366.16 160.22V174.40M366.28 184.50H366.34M366.31 160.22V184.50M366.16 160.22H366.31M366.23 149.86V160.22M366.44 155.34H366.53M366.48 155.33V155.34M366.58 155.34H366.66M366.62 155.33V155.34M366.48 155.33H366.62M366.55 149.86V155.33M366.23 149.86H366.55M366.39 148.04V149.86M365.93 148.04H366.39M366.16 136.18V148.04M366.91 154.53H366.99M366.95 153.36V154.53M366.83 153.36H366.95M366.89 148.85V153.36M366.76 148.85H366.89M366.83 148.84V148.85M367.20 169.70H367.28M367.24 168.26V169.70M367.13 168.26H367.24M367.18 168.22V168.26M367.04 168.22H367.18M367.11 148.84V168.22M366.83 148.84H367.11M366.97 148.84V148.84M367.37 170.73H367.46M367.42 148.84V170.73M366.97 148.84H367.42M367.19 144.40V148.84M367.58 187.09H367.67M367.62 185.17V187.09M367.51 185.17H367.62M367.57 185.07V185.17M367.57 185.07H367.73M367.65 183.90V185.07M367.80 183.90H367.90M367.85 183.90V183.90M367.65 183.90H367.85M367.75 162.44V183.90M368.08 173.99H368.15M368.11 163.00V173.99M368.00 163.00H368.11M368.06 163.00V163.00M368.30 163.01H368.37M368.33 163.01V163.01M368.20 163.01H368.33M368.27 163.00V163.01M368.06 163.00H368.27M368.16 162.44V163.00M367.75 162.44H368.16M367.96 144.40V162.44M367.19 144.40H367.96M367.57 136.18V144.40M366.16 136.18H367.57M366.87 134.94V136.18M364.87 134.94H366.87M368.44 175.71H368.50M368.47 175.02V175.71M368.61 175.16H368.67M368.64 175.02V175.16M368.47 175.02H368.64M368.56 175.01V175.02M368.77 185.27H368.82M368.79 175.01V185.27M368.56 175.01H368.79M368.67 146.80V175.01M369.00 155.54H369.04M369.02 152.01V155.54M368.90 152.01H369.02M368.96 146.84V152.01M369.14 168.98H369.21M369.17 160.90V168.98M369.37 187.83H369.46M369.41 187.23V187.83M369.27 187.23H369.41M369.34 160.90V187.23M369.17 160.90H369.34M369.26 146.84V160.90M368.96 146.84H369.26M369.11 146.81V146.84M369.59 184.07H369.70M369.65 147.21V184.07M369.77 151.06H369.83M369.80 147.21V151.06M369.65 147.21H369.80M369.72 146.82V147.21M369.50 146.82H369.72M369.61 146.81V146.82M369.11 146.81H369.61M369.36 146.80V146.81M368.67 146.80H369.36M369.02 146.76V146.80M370.06 177.67H370.14M370.10 177.67V177.67M370.01 177.67H370.10M370.05 176.03V177.67M370.22 176.75H370.30M370.26 176.03V176.75M370.05 176.03H370.26M370.16 161.65V176.03M369.89 161.65H370.16M370.02 147.12V161.65M370.45 187.03H370.54M370.50 166.17V187.03M370.37 166.17H370.50M370.43 166.09V166.17M370.75 179.76H370.86M370.81 179.74V179.76M370.67 179.74H370.81M370.74 177.04V179.74M370.60 177.04H370.74M370.67 166.09V177.04M370.43 166.09H370.67M370.55 155.67V166.09M370.99 175.90H371.07M371.03 175.05V175.90M371.03 175.05H371.13M371.08 173.94V175.05M370.92 173.94H371.08M371.00 155.67V173.94M370.55 155.67H371.00M370.77 147.12V155.67M370.02 147.12H370.77M370.40 146.76V147.12M369.02 146.76H370.40M369.71 140.58V146.76M371.36 187.93H371.46M371.41 187.89V187.93M371.32 187.89H371.41M371.36 187.88V187.89M371.36 187.88H371.51M371.44 187.55V187.88M371.23 187.55H371.44M371.33 186.58V187.55M371.62 186.92H371.67M371.65 186.86V186.92M371.65 186.86H371.75M371.70 186.85V186.86M371.86 187.82H371.93M371.89 186.88V187.82M372.01 186.90H372.05M372.03 186.88V186.90M371.89 186.88H372.03M371.96 186.85V186.88M371.70 186.85H371.96M371.83 186.58V186.85M371.33 186.58H371.83M371.58 185.61V186.58M372.13 187.10H372.23M372.18 186.91V187.10M372.29 187.93H372.38M372.34 186.91V187.93M372.18 186.91H372.34M372.26 186.91V186.91M372.46 187.10H372.56M372.51 186.91V187.10M372.51 186.91H372.62M372.57 186.91V186.91M372.26 186.91H372.57M372.41 185.61V186.91M371.58 185.61H372.41M372.00 140.58V185.61M372.92 188.00H373.03M372.97 186.66V188.00M372.84 186.66H372.97M372.91 186.65V186.66M372.77 186.65H372.91M372.84 185.96V186.65M373.17 186.82H373.22M373.20 186.79V186.82M373.20 186.79H373.30M373.25 186.78V186.79M373.09 186.78H373.25M373.17 185.96V186.78M372.84 185.96H373.17M373.00 185.95V185.96M372.68 185.95H373.00M372.84 175.84V185.95M372.84 175.84H373.41M373.13 164.66V175.84M373.56 187.79H373.62M373.59 186.55V187.79M373.72 187.39H373.80M373.76 187.36V187.39M373.76 187.36H373.87M373.81 186.55V187.36M373.59 186.55H373.81M373.70 186.55V186.55M373.49 186.55H373.70M373.59 164.66V186.55M373.13 164.66H373.59M373.36 140.58V164.66M372.00 140.58H373.36M372.68 140.58V140.58M369.71 140.58H372.68M373.94 183.84H374.01M373.97 181.32V183.84M373.97 181.32H374.07M374.02 180.95V181.32M374.15 182.75H374.23M374.19 182.75V182.75M374.41 183.32H374.46M374.43 183.00V183.32M374.33 183.00H374.43M374.38 182.75V183.00M374.19 182.75H374.38M374.29 180.95V182.75M374.02 180.95H374.29M374.15 180.40V180.95M374.54 183.80H374.63M374.58 181.84V183.80M374.70 181.84H374.76M374.73 181.84V181.84M374.58 181.84H374.73M374.66 180.40V181.84M374.15 180.40H374.66M374.41 180.21V180.40M374.84 187.37H374.93M374.89 186.59V187.37M375.23 187.67H375.33M375.28 186.81V187.67M375.15 186.81H375.28M375.21 186.78V186.81M375.10 186.78H375.21M375.16 186.78V186.78M375.02 186.78H375.16M375.09 186.77V186.78M375.37 187.24H375.49M375.43 186.77V187.24M375.09 186.77H375.43M375.26 186.59V186.77M374.89 186.59H375.26M375.07 186.59V186.59M375.68 187.92H375.80M375.74 187.86V187.92M375.64 187.86H375.74M375.69 187.83V187.86M375.57 187.83H375.69M375.63 187.79V187.83M375.85 188.00H375.95M375.90 188.00V188.00M375.90 188.00H376.00M375.95 187.95V188.00M376.16 187.96H376.23M376.19 187.96V187.96M376.08 187.96H376.19M376.14 187.95V187.96M375.95 187.95H376.14M376.04 187.79V187.95M375.63 187.79H376.04M375.84 186.59V187.79M375.07 186.59H375.84M375.46 180.22V186.59M375.46 180.22H376.30M375.88 180.21V180.22M374.41 180.21H375.88M375.14 171.81V180.21M376.47 187.02H376.53M376.50 186.91V187.02M376.50 186.91H376.63M376.57 182.69V186.91M376.41 182.69H376.57M376.49 182.61V182.69M376.77 185.09H376.86M376.82 184.04V185.09M376.93 184.40H377.00M376.97 184.04V184.40M376.82 184.04H376.97M376.89 184.03V184.04M376.72 184.03H376.89M376.81 182.61V184.03M376.49 182.61H376.81M376.65 182.60V182.61M377.15 187.00H377.24M377.20 187.00V187.00M377.09 187.00H377.20M377.14 186.97V187.00M377.38 187.22H377.49M377.44 187.18V187.22M377.34 187.18H377.44M377.39 187.02V187.18M377.65 187.48H377.71M377.68 187.26V187.48M377.54 187.26H377.68M377.61 187.02V187.26M377.39 187.02H377.61M377.50 186.97V187.02M377.14 186.97H377.50M377.32 186.82V186.97M377.99 187.32H378.10M378.05 187.14V187.32M377.94 187.14H378.05M377.99 187.14V187.14M377.88 187.14H377.99M377.93 187.04V187.14M378.26 187.95H378.34M378.30 187.95V187.95M378.30 187.95H378.39M378.34 187.94V187.95M378.17 187.94H378.34M378.26 187.06V187.94M378.63 187.24H378.73M378.68 187.18V187.24M378.55 187.18H378.68M378.62 187.14V187.18M378.46 187.14H378.62M378.54 187.06V187.14M378.26 187.06H378.54M378.40 187.04V187.06M377.93 187.04H378.40M378.17 187.04V187.04M377.78 187.04H378.17M377.97 186.82V187.04M377.32 186.82H377.97M377.65 182.60V186.82M376.65 182.60H377.65M377.15 171.81V182.60M375.14 171.81H377.15M376.14 140.89V171.81M378.77 187.08H378.86M378.82 187.05V187.08M378.93 187.74H379.03M378.98 187.05V187.74M378.82 187.05H378.98M378.90 148.81V187.05M379.27 183.38H379.30M379.28 183.38V183.38M379.28 183.38H379.39M379.34 168.25V183.38M379.17 168.25H379.34M379.25 148.82V168.25M379.11 148.82H379.25M379.18 148.81V148.82M378.90 148.81H379.18M379.04 146.57V148.81M379.54 174.11H379.65M379.60 167.64V174.11M379.73 169.33H379.79M379.76 167.64V169.33M379.60 167.64H379.76M379.68 167.50V167.64M379.46 167.50H379.68M379.57 167.36V167.50M379.94 187.96H380.01M379.98 184.71V187.96M379.87 184.71H379.98M379.92 173.03V184.71M379.92 173.03H380.10M380.01 167.50V173.03M380.01 167.50H380.18M380.09 167.36V167.50M379.57 167.36H380.09M379.83 146.57V167.36M379.04 146.57H379.83M379.44 140.89V146.57M376.14 140.89H379.44M380.42 179.44H380.48M380.45 178.58V179.44M380.34 178.58H380.45M380.40 172.44V178.58M380.40 172.44H380.55M380.47 170.98V172.44M380.23 170.98H380.47M380.35 168.45V170.98M380.79 181.40H380.85M380.82 174.23V181.40M380.73 174.23H380.82M380.77 170.68V174.23M380.63 170.68H380.77M380.70 170.46V170.68M380.95 177.71H381.01M380.98 177.63V177.71M380.98 177.63H381.11M381.04 177.55V177.63M381.25 177.89H381.31M381.28 177.72V177.89M381.17 177.72H381.28M381.22 177.55V177.72M381.04 177.55H381.22M381.13 170.46V177.55M380.70 170.46H381.13M380.92 168.45V170.46M380.35 168.45H380.92M380.63 143.96V168.45M381.42 178.96H381.50M381.46 178.96V178.96M381.46 178.96H381.54M381.50 171.13V178.96M381.50 171.13H381.62M381.56 152.89V171.13M381.72 161.53H381.78M381.75 160.86V161.53M381.84 179.74H381.94M381.89 160.86V179.74M381.75 160.86H381.89M381.82 152.90V160.86M382.04 166.52H382.11M382.08 165.09V166.52M382.08 165.09H382.18M382.13 152.90V165.09M381.82 152.90H382.13M381.98 152.89V152.90M381.56 152.89H381.98M381.77 150.67V152.89M382.31 175.00H382.43M382.37 153.52V175.00M382.24 153.52H382.37M382.31 150.67V153.52M381.77 150.67H382.31M382.04 143.96V150.67M382.65 177.51H382.71M382.68 177.42V177.51M382.56 177.42H382.68M382.62 170.74V177.42M382.47 170.74H382.62M382.55 170.74V170.74M382.85 181.52H382.96M382.91 175.01V181.52M382.91 175.01H383.04M382.97 171.56V175.01M382.79 171.56H382.97M382.88 170.74V171.56M382.55 170.74H382.88M382.71 143.96V170.74M382.04 143.96H382.71M382.37 143.96V143.96M380.63 143.96H382.37M381.50 133.09V143.96M383.09 182.36H383.17M383.13 179.53V182.36M383.27 179.99H383.32M383.30 179.65V179.99M383.48 187.12H383.57M383.53 187.08V187.12M383.53 187.08H383.66M383.59 185.97V187.08M383.42 185.97H383.59M383.51 179.65V185.97M383.30 179.65H383.51M383.40 179.53V179.65M383.13 179.53H383.40M383.27 134.45V179.53M383.87 139.46H383.96M383.92 137.15V139.46M383.79 137.15H383.92M383.85 137.09V137.15M383.70 137.09H383.85M383.77 134.45V137.09M384.03 185.90H384.10M384.07 180.46V185.90M384.17 182.77H384.27M384.22 180.46V182.77M384.07 180.46H384.22M384.14 180.46V180.46M384.50 184.89H384.56M384.53 183.83V184.89M384.42 183.83H384.53M384.47 182.43V183.83M384.65 183.01H384.70M384.67 182.43V183.01M384.47 182.43H384.67M384.57 180.51V182.43M384.33 180.51H384.57M384.45 180.46V180.51M384.14 180.46H384.45M384.30 134.45V180.46M383.77 134.45H384.30M384.04 134.45V134.45M383.27 134.45H384.04M383.65 133.09V134.45M381.50 133.09H383.65M384.88 183.02H384.97M384.92 182.79V183.02M384.80 182.79H384.92M384.86 164.85V182.79M385.04 184.82H385.11M385.07 184.81V184.82M385.07 184.81H385.20M385.14 184.79V184.81M385.34 186.01H385.40M385.37 186.01V186.01M385.25 186.01H385.37M385.31 185.86V186.01M385.31 185.86H385.48M385.40 185.86V185.86M385.63 185.87H385.75M385.69 185.87V185.87M385.56 185.87H385.69M385.62 185.86V185.87M385.40 185.86H385.62M385.51 184.79V185.86M385.14 184.79H385.51M385.32 184.79V184.79M385.91 186.55H385.96M385.93 184.93V186.55M385.80 184.93H385.93M385.87 184.82V184.93M386.01 184.96H386.12M386.07 184.92V184.96M386.07 184.92H386.21M386.14 184.82V184.92M385.87 184.82H386.14M386.00 184.79V184.82M386.26 186.47H386.34M386.30 184.79V186.47M386.49 187.42H386.59M386.54 184.98V187.42M386.41 184.98H386.54M386.48 184.79V184.98M386.30 184.79H386.48M386.39 184.79V184.79M386.00 184.79H386.39M386.20 184.79V184.79M385.32 184.79H386.20M385.76 184.67V184.79M386.73 187.95H386.81M386.77 187.81V187.95M386.65 187.81H386.77M386.71 187.72V187.81M386.71 187.72H386.90M386.80 187.55V187.72M386.96 187.72H387.06M387.01 187.72V187.72M387.11 187.89H387.22M387.17 187.72V187.89M387.01 187.72H387.17M387.09 187.55V187.72M386.80 187.55H387.09M386.95 184.67V187.55M387.26 187.92H387.37M387.31 187.91V187.92M387.45 187.91H387.51M387.48 187.91V187.91M387.31 187.91H387.48M387.40 185.40V187.91M387.60 185.71H387.67M387.64 185.48V185.71M387.72 185.50H387.84M387.78 185.48V185.50M387.64 185.48H387.78M387.71 185.40V185.48M387.40 185.40H387.71M387.55 184.67V185.40M386.95 184.67H387.55M387.25 184.67V184.67M385.76 184.67H387.25M386.50 164.85V184.67M384.86 164.85H386.50M385.68 156.06V164.85M387.98 175.56H388.07M388.03 175.36V175.56M388.13 175.54H388.20M388.16 175.54V175.54M388.30 175.54H388.37M388.34 175.54V175.54M388.16 175.54H388.34M388.25 175.36V175.54M388.03 175.36H388.25M388.14 175.11V175.36M387.90 175.11H388.14M388.02 174.87V175.11M388.45 177.38H388.52M388.49 176.30V177.38M388.62 177.23H388.69M388.66 176.78V177.23M388.76 176.84H388.82M388.79 176.78V176.84M388.66 176.78H388.79M388.72 176.31V176.78M388.98 183.27H389.07M389.03 182.12V183.27M389.03 182.12H389.13M389.08 176.32V182.12M388.91 176.32H389.08M388.99 176.31V176.32M388.72 176.31H388.99M388.86 176.30V176.31M388.49 176.30H388.86M388.67 174.87V176.30M388.02 174.87H388.67M388.34 163.17V174.87M389.23 166.48H389.29M389.26 165.59V166.48M389.38 169.97H389.43M389.41 166.44V169.97M389.61 166.45H389.66M389.64 166.44V166.45M389.54 166.44H389.64M389.59 166.44V166.44M389.41 166.44H389.59M389.50 165.59V166.44M389.26 165.59H389.50M389.38 163.17V165.59M388.34 163.17H389.38M388.86 156.06V163.17M385.68 156.06H388.86M389.90 179.61H390.00M389.95 172.56V179.61M389.81 172.56H389.95M389.88 168.57V172.56M389.76 168.57H389.88M389.82 168.51V168.57M390.07 174.09H390.13M390.10 172.68V174.09M390.31 180.11H390.40M390.36 180.11V180.11M390.22 180.11H390.36M390.29 172.68V180.11M390.10 172.68H390.29M390.19 169.24V172.68M390.19 169.24H390.47M390.33 168.51V169.24M389.82 168.51H390.33M390.08 166.08V168.51M390.62 169.71H390.69M390.65 169.71V169.71M390.54 169.71H390.65M390.60 169.62V169.71M390.76 177.86H390.87M390.81 169.87V177.86M390.92 185.38H391.00M390.96 185.38V185.38M391.07 186.14H391.15M391.11 185.46V186.14M391.11 185.46H391.24M391.17 185.38V185.46M390.96 185.38H391.17M391.07 169.87V185.38M390.81 169.87H391.07M390.94 169.62V169.87M390.60 169.62H390.94M390.77 166.08V169.62M390.08 166.08H390.77M390.42 161.83V166.08M391.38 179.94H391.46M391.42 179.21V179.94M391.32 179.21H391.42M391.37 164.76V179.21M391.55 187.94H391.63M391.59 184.36V187.94M391.71 184.94H391.78M391.74 184.43V184.94M391.74 184.43H391.86M391.80 184.43V184.43M391.92 187.96H392.03M391.98 184.43V187.96M391.80 184.43H391.98M391.89 184.36V184.43M391.89 184.36H392.11M392.00 184.36V184.36M391.59 184.36H392.00M391.79 164.76V184.36M391.37 164.76H391.79M391.58 161.83V164.76M390.42 161.83H391.58M391.00 147.75V161.83M392.23 187.64H392.33M392.28 187.54V187.64M392.17 187.54H392.28M392.22 169.87V187.54M392.49 187.69H392.56M392.53 187.66V187.69M392.53 187.66H392.62M392.57 187.66V187.66M392.40 187.66H392.57M392.49 171.19V187.66M392.74 182.88H392.79M392.77 176.98V182.88M392.89 177.08H392.94M392.92 176.98V177.08M392.77 176.98H392.92M392.84 176.98V176.98M393.01 179.90H393.09M393.05 177.07V179.90M393.17 177.07H393.27M393.22 177.07V177.07M393.05 177.07H393.22M393.13 177.07V177.07M393.35 183.52H393.41M393.38 177.07V183.52M393.13 177.07H393.38M393.26 177.07V177.07M393.48 177.29H393.55M393.52 177.29V177.29M393.65 177.58H393.74M393.70 177.52V177.58M393.70 177.52H393.78M393.74 177.29V177.52M393.52 177.29H393.74M393.63 177.07V177.29M393.26 177.07H393.63M393.44 176.98V177.07M392.84 176.98H393.44M393.14 171.19V176.98M392.49 171.19H393.14M392.81 169.87V171.19M392.22 169.87H392.81M392.52 169.85V169.87M393.88 186.61H393.94M393.91 169.85V186.61M392.52 169.85H393.91M393.22 147.75V169.85M391.00 147.75H393.22M394.06 184.16H394.14M394.10 173.83V184.16M394.21 177.99H394.26M394.23 175.44V177.99M394.43 176.59H394.48M394.46 175.81V176.59M394.37 175.81H394.46M394.41 175.71V175.81M394.57 176.84H394.68M394.62 176.84V176.84M394.90 187.41H394.94M394.92 179.80V187.41M394.82 179.80H394.92M394.87 178.02V179.80M394.75 178.02H394.87M394.81 176.84V178.02M394.62 176.84H394.81M394.72 175.71V176.84M394.41 175.71H394.72M394.56 175.44V175.71M394.23 175.44H394.56M394.40 173.83V175.44M394.10 173.83H394.40M394.25 173.19V173.83M395.06 187.91H395.11M395.09 187.91V187.91M395.21 187.98H395.28M395.24 187.91V187.98M395.09 187.91H395.24M395.17 187.51V187.91M395.35 187.51H395.43M395.39 187.51V187.51M395.17 187.51H395.39M395.28 187.51V187.51M395.53 187.62H395.60M395.56 187.62V187.62M395.66 187.62H395.76M395.71 187.62V187.62M395.56 187.62H395.71M395.63 187.51V187.62M395.28 187.51H395.63M395.46 187.42V187.51M395.80 187.50H395.89M395.84 187.49V187.50M396.03 187.61H396.12M396.07 187.61V187.61M396.07 187.61H396.18M396.13 187.53V187.61M395.96 187.53H396.13M396.04 187.49V187.53M395.84 187.49H396.04M395.94 187.49V187.49M396.30 187.49H396.37M396.34 187.49V187.49M396.43 187.60H396.49M396.46 187.49V187.60M396.34 187.49H396.46M396.40 187.49V187.49M395.94 187.49H396.40M396.17 187.42V187.49M395.46 187.42H396.17M395.81 187.20V187.42M396.58 187.94H396.68M396.63 187.94V187.94M396.73 187.96H396.80M396.77 187.94V187.96M396.63 187.94H396.77M396.70 187.48V187.94M397.04 187.97H397.12M397.08 187.96V187.97M396.98 187.96H397.08M397.03 187.88V187.96M396.89 187.88H397.03M396.96 187.48V187.88M396.70 187.48H396.96M396.83 187.20V187.48M395.81 187.20H396.83M396.32 173.19V187.20M394.25 173.19H396.32M395.28 165.63V173.19M397.36 175.94H397.46M397.41 166.06V175.94M397.30 166.06H397.41M397.35 166.05V166.06M397.21 166.05H397.35M397.28 165.63V166.05M397.65 186.85H397.77M397.71 185.71V186.85M397.60 185.71H397.71M397.66 175.89V185.71M397.50 175.89H397.66M397.58 175.89V175.89M397.89 186.60H397.99M397.94 186.21V186.60M397.83 186.21H397.94M397.88 175.89V186.21M397.58 175.89H397.88M397.73 165.64V175.89M398.23 186.04H398.31M398.27 185.36V186.04M398.12 185.36H398.27M398.19 184.78V185.36M398.07 184.78H398.19M398.13 182.04V184.78M398.53 182.05H398.60M398.57 182.04V182.05M398.46 182.04H398.57M398.51 182.04V182.04M398.36 182.04H398.51M398.44 182.04V182.04M398.13 182.04H398.44M398.28 165.64V182.04M397.73 165.64H398.28M398.01 165.63V165.64M397.28 165.63H398.01M397.64 165.63V165.63M395.28 165.63H397.64M396.46 108.16V165.63M398.84 174.60H398.92M398.88 174.09V174.60M398.74 174.09H398.88M398.81 173.84V174.09M398.67 173.84H398.81M398.74 170.46V173.84M399.00 175.92H399.04M399.02 171.10V175.92M399.02 171.10H399.14M399.08 170.46V171.10M398.74 170.46H399.08M398.91 165.13V170.46M399.28 172.35H399.35M399.31 169.83V172.35M399.23 169.83H399.31M399.27 165.13V169.83M398.91 165.13H399.27M399.09 152.71V165.13M399.47 157.91H399.54M399.50 157.86V157.91M399.61 160.26H399.67M399.64 159.08V160.26M399.75 166.57H399.85M399.80 159.08V166.57M399.64 159.08H399.80M399.72 157.86V159.08M399.50 157.86H399.72M399.61 157.44V157.86M400.00 175.20H400.08M400.04 167.22V175.20M399.89 167.22H400.04M399.97 165.27V167.22M400.24 168.69H400.30M400.27 166.05V168.69M400.14 166.05H400.27M400.21 165.28V166.05M400.39 184.20H400.44M400.42 168.56V184.20M400.53 173.01H400.60M400.56 172.65V173.01M400.56 172.65H400.68M400.62 168.56V172.65M400.42 168.56H400.62M400.52 165.28V168.56M400.21 165.28H400.52M400.36 165.27V165.28M399.97 165.27H400.36M400.16 157.44V165.27M399.61 157.44H400.16M399.89 152.71V157.44M399.09 152.71H399.89M399.49 108.16V152.71M396.46 108.16H399.49M400.84 153.70H400.93M400.88 153.42V153.70M401.00 178.97H401.10M401.05 153.42V178.97M400.88 153.42H401.05M400.97 150.00V153.42M400.97 150.00H401.16M401.07 149.50V150.00M401.07 149.50H401.23M401.15 149.50V149.50M400.75 149.50H401.15M400.95 139.31V149.50M401.38 180.77H401.48M401.43 180.13V180.77M401.31 180.13H401.43M401.37 139.31V180.13M401.56 141.45H401.60M401.58 140.71V141.45M401.78 140.76H401.84M401.81 140.74V140.76M401.71 140.74H401.81M401.76 140.71V140.74M401.58 140.71H401.76M401.67 139.31V140.71M401.37 139.31H401.67M401.52 139.31V139.31M400.95 139.31H401.52M401.23 118.88V139.31M401.94 180.17H402.00M401.97 180.14V180.17M402.09 184.29H402.16M402.13 184.25V184.29M402.47 187.35H402.55M402.51 186.55V187.35M402.41 186.55H402.51M402.46 185.94V186.55M402.34 185.94H402.46M402.40 184.62V185.94M402.25 184.62H402.40M402.32 184.25V184.62M402.13 184.25H402.32M402.22 180.14V184.25M401.97 180.14H402.22M402.10 180.14V180.14M402.64 180.83H402.71M402.68 180.14V180.83M402.10 180.14H402.68M402.39 168.74V180.14M402.39 168.74H402.76M402.58 118.88V168.74M401.23 118.88H402.58M401.90 103.27V118.88M402.86 184.06H402.93M402.90 183.45V184.06M402.90 183.45H403.02M402.96 183.27V183.45M403.08 183.35H403.16M403.12 183.27V183.35M402.96 183.27H403.12M403.04 110.08V183.27M403.24 175.97H403.32M403.28 110.08V175.97M403.04 110.08H403.28M403.16 109.30V110.08M403.50 131.04H403.57M403.53 121.49V131.04M403.41 121.49H403.53M403.47 120.38V121.49M403.65 121.78H403.73M403.69 120.38V121.78M403.47 120.38H403.69M403.58 109.30V120.38M403.16 109.30H403.58M403.37 103.61V109.30M403.87 155.79H403.96M403.91 154.35V155.79M403.79 154.35H403.91M403.85 147.51V154.35M403.85 147.51H404.01M403.93 103.84V147.51M404.32 184.51H404.44M404.38 184.31V184.51M404.28 184.31H404.38M404.33 184.28V184.31M404.20 184.28H404.33M404.27 184.24V184.28M404.27 184.24H404.48M404.37 158.85V184.24M404.12 158.85H404.37M404.25 158.40V158.85M404.66 170.65H404.72M404.69 170.01V170.65M404.56 170.01H404.69M404.62 158.70V170.01M404.89 183.52H404.96M404.93 170.06V183.52M404.79 170.06H404.93M404.86 158.70V170.06M404.62 158.70H404.86M404.74 158.40V158.70M404.25 158.40H404.74M404.49 103.84V158.40M403.93 103.84H404.49M404.21 103.61V103.84M403.37 103.61H404.21M403.79 103.27V103.61M401.90 103.27H403.79M405.18 152.66H405.27M405.22 149.88V152.66M405.12 149.88H405.22M405.17 136.16V149.88M405.05 136.16H405.17M405.11 124.86V136.16M405.41 167.86H405.48M405.45 134.73V167.86M405.34 134.73H405.45M405.39 127.04V134.73M405.58 185.33H405.64M405.61 137.36V185.33M405.61 137.36H405.72M405.67 127.04V137.36M405.39 127.04H405.67M405.53 124.86V127.04M405.11 124.86H405.53M405.32 124.82V124.86M405.79 124.82H405.89M405.84 124.82V124.82M405.32 124.82H405.84M405.58 120.81V124.82M405.99 182.33H406.04M406.01 131.12V182.33M406.01 131.12H406.10M406.06 127.17V131.12M406.20 130.77H406.28M406.24 130.66V130.77M406.37 130.66H406.43M406.40 130.66V130.66M406.24 130.66H406.40M406.32 127.89V130.66M406.52 148.19H406.58M406.55 144.77V148.19M406.67 147.66H406.72M406.70 144.77V147.66M406.55 144.77H406.70M406.62 127.89V144.77M406.32 127.89H406.62M406.47 127.17V127.89M406.06 127.17H406.47M406.26 120.81V127.17M406.79 122.75H406.90M406.85 120.81V122.75M406.26 120.81H406.85M406.56 120.81V120.81M405.58 120.81H406.56M406.07 119.59V120.81M407.03 184.93H407.14M407.09 175.94V184.93M406.99 175.94H407.09M407.04 175.93V175.94M407.37 183.71H407.44M407.40 183.62V183.71M407.29 183.62H407.40M407.35 183.48V183.62M407.21 183.48H407.35M407.28 178.57V183.48M407.28 178.57H407.49M407.39 178.48V178.57M407.76 183.23H407.84M407.80 183.17V183.23M407.66 183.17H407.80M407.73 183.16V183.17M407.90 184.87H407.98M407.94 183.18V184.87M408.06 186.05H408.12M408.09 183.18V186.05M407.94 183.18H408.09M408.02 183.16V183.18M407.73 183.16H408.02M407.87 181.79V183.16M407.60 181.79H407.87M407.74 178.48V181.79M407.39 178.48H407.74M407.56 175.93V178.48M407.04 175.93H407.56M407.30 143.30V175.93M408.27 185.16H408.37M408.32 170.36V185.16M408.22 170.36H408.32M408.27 162.03V170.36M408.51 164.52H408.61M408.56 164.45V164.52M408.43 164.45H408.56M408.50 162.03V164.45M408.27 162.03H408.50M408.38 144.66V162.03M408.69 166.10H408.76M408.72 144.66V166.10M408.38 144.66H408.72M408.55 143.37V144.66M408.88 146.38H408.96M408.92 146.38V146.38M408.83 146.38H408.92M408.87 145.10V146.38M409.06 146.08H409.13M409.10 145.10V146.08M408.87 145.10H409.10M408.98 143.37V145.10M408.55 143.37H408.98M408.77 143.30V143.37M407.30 143.30H408.77M408.03 122.89V143.30M409.19 180.14H409.27M409.23 180.14V180.14M409.46 184.98H409.53M409.49 184.31V184.98M409.35 184.31H409.49M409.42 184.17V184.31M409.42 184.17H409.60M409.51 180.14V184.17M409.23 180.14H409.51M409.37 179.24V180.14M409.69 179.38H409.76M409.72 179.24V179.38M410.06 185.40H410.14M410.10 184.79V185.40M410.00 184.79H410.10M410.05 184.77V184.79M409.90 184.77H410.05M409.97 179.24V184.77M409.84 179.24H409.97M409.91 179.24V179.24M409.72 179.24H409.91M409.82 179.24V179.24M409.37 179.24H409.82M409.59 122.89V179.24M408.03 122.89H409.59M408.81 119.59V122.89M406.07 119.59H408.81M410.19 172.94H410.30M410.25 172.91V172.94M410.25 172.91H410.35M410.30 156.60V172.91M410.54 159.86H410.59M410.56 156.60V159.86M410.43 156.60H410.56M410.50 156.60V156.60M410.30 156.60H410.50M410.40 117.24V156.60M410.69 184.87H410.74M410.72 159.33V184.87M410.85 159.34H410.90M410.88 159.33V159.34M410.72 159.33H410.88M410.80 159.33V159.33M411.07 187.32H411.15M411.11 184.92V187.32M411.21 185.09H411.31M411.26 184.92V185.09M411.11 184.92H411.26M411.18 184.90V184.92M411.18 184.90H411.36M411.27 159.44V184.90M410.99 159.44H411.27M411.13 159.33V159.44M410.80 159.33H411.13M410.96 159.22V159.33M411.54 164.69H411.59M411.57 161.39V164.69M411.44 161.39H411.57M411.50 161.00V161.39M411.50 161.00H411.68M411.59 160.84V161.00M411.59 160.84H411.74M411.67 159.22V160.84M410.96 159.22H411.67M411.32 117.24V159.22M410.40 117.24H411.32M410.86 116.69V117.24M411.99 157.78H412.09M412.04 148.80V157.78M411.90 148.80H412.04M411.97 138.14V148.80M411.84 138.14H411.97M411.91 117.04V138.14M412.15 134.27H412.23M412.19 117.04V134.27M411.91 117.04H412.19M412.05 116.86V117.04M412.54 158.92H412.60M412.57 158.73V158.92M412.44 158.73H412.57M412.51 144.42V158.73M412.37 144.42H412.51M412.44 118.27V144.42M412.28 118.27H412.44M412.36 118.22V118.27M412.68 183.70H412.75M412.72 183.70V183.70M412.86 185.53H412.93M412.90 183.70V185.53M412.72 183.70H412.90M412.81 118.23V183.70M413.07 165.06H413.15M413.11 151.06V165.06M412.99 151.06H413.11M413.05 118.23V151.06M412.81 118.23H413.05M412.93 118.22V118.23M412.36 118.22H412.93M412.64 116.86V118.22M412.05 116.86H412.64M412.35 116.69V116.86M410.86 116.69H412.35M411.60 111.69V116.69M413.24 136.02H413.32M413.28 132.95V136.02M413.37 132.96H413.45M413.41 132.95V132.96M413.61 172.33H413.71M413.66 145.07V172.33M413.55 145.07H413.66M413.61 132.95V145.07M413.41 132.95H413.61M413.51 132.95V132.95M413.28 132.95H413.51M413.39 132.85V132.95M413.76 170.79H413.84M413.80 168.23V170.79M414.03 168.28H414.09M414.06 168.27V168.28M413.91 168.27H414.06M413.98 168.23V168.27M413.80 168.23H413.98M413.89 162.25V168.23M414.24 179.75H414.33M414.28 179.01V179.75M414.28 179.01H414.38M414.33 179.01V179.01M414.14 179.01H414.33M414.24 162.95V179.01M414.63 180.54H414.71M414.67 176.56V180.54M414.53 176.56H414.67M414.60 176.46V176.56M414.49 176.46H414.60M414.54 174.80V176.46M414.77 187.27H414.88M414.83 187.27V187.27M414.83 187.27H414.94M414.88 174.80V187.27M414.54 174.80H414.88M414.71 162.95V174.80M414.24 162.95H414.71M414.48 162.25V162.95M413.89 162.25H414.48M414.18 132.85V162.25M413.39 132.85H414.18M413.79 111.69V132.85M411.60 111.69H413.79M412.70 110.89V111.69M415.11 169.29H415.15M415.13 169.06V169.29M415.34 170.74H415.41M415.38 170.74V170.74M415.38 170.74H415.46M415.42 169.19V170.74M415.26 169.19H415.42M415.34 169.06V169.19M415.13 169.06H415.34M415.23 169.00V169.06M415.73 184.83H415.78M415.76 180.79V184.83M415.65 180.79H415.76M415.70 169.00V180.79M415.54 169.00H415.70M415.62 169.00V169.00M415.23 169.00H415.62M415.43 163.89V169.00M415.00 163.89H415.43M415.21 112.20V163.89M415.96 162.67H416.01M415.98 161.11V162.67M415.89 161.11H415.98M415.94 161.03V161.11M416.16 181.73H416.25M416.20 180.27V181.73M416.12 180.27H416.20M416.16 180.03V180.27M416.32 182.28H416.40M416.36 182.24V182.28M416.49 182.26H416.55M416.52 182.24V182.26M416.36 182.24H416.52M416.44 180.03V182.24M416.16 180.03H416.44M416.30 161.84V180.03M416.87 185.71H416.97M416.92 185.71V185.71M416.81 185.71H416.92M416.86 185.40V185.71M416.71 185.40H416.86M416.79 184.30V185.40M416.67 184.30H416.79M416.73 180.26V184.30M417.11 181.36H417.20M417.15 180.61V181.36M417.03 180.61H417.15M417.09 180.48V180.61M417.09 180.48H417.27M417.18 180.26V180.48M416.73 180.26H417.18M416.95 161.84V180.26M416.30 161.84H416.95M416.63 161.03V161.84M415.94 161.03H416.63M416.28 112.20V161.03M415.21 112.20H416.28M415.75 112.03V112.20M417.40 148.83H417.51M417.46 114.23V148.83M417.34 114.23H417.46M417.40 114.17V114.23M417.58 169.54H417.65M417.62 114.17V169.54M417.40 114.17H417.62M417.51 113.90V114.17M417.75 115.42H417.81M417.78 113.94V115.42M417.90 131.24H417.95M417.92 120.55V131.24M418.12 163.55H418.18M418.15 123.51V163.55M418.03 123.51H418.15M418.09 120.55V123.51M417.92 120.55H418.09M418.01 113.94V120.55M417.78 113.94H418.01M417.89 113.90V113.94M417.51 113.90H417.89M417.70 112.82V113.90M418.29 171.08H418.37M418.33 112.82V171.08M417.70 112.82H418.33M418.02 112.03V112.82M415.75 112.03H418.02M416.88 110.89V112.03M412.70 110.89H416.88M418.66 178.07H418.76M418.71 178.00V178.07M418.58 178.00H418.71M418.65 173.71V178.00M418.51 173.71H418.65M418.58 161.77V173.71M418.41 161.77H418.58M418.50 149.24V161.77M418.82 150.93H418.91M418.86 149.87V150.93M418.86 149.87H418.98M418.92 149.62V149.87M419.16 185.57H419.21M419.18 184.83V185.57M419.18 184.83H419.27M419.23 179.44V184.83M419.23 179.44H419.37M419.30 179.39V179.44M419.04 179.39H419.30M419.17 149.62V179.39M418.92 149.62H419.17M419.05 149.24V149.62M418.50 149.24H419.05M418.77 146.98V149.24M419.44 158.12H419.51M419.48 156.86V158.12M419.66 163.77H419.78M419.72 163.73V163.77M419.60 163.73H419.72M419.66 156.86V163.73M419.48 156.86H419.66M419.57 147.23V156.86M419.84 147.40H419.91M419.88 147.40V147.40M420.08 151.74H420.15M420.11 151.31V151.74M420.00 151.31H420.11M420.06 147.40V151.31M419.88 147.40H420.06M419.97 147.23V147.40M419.57 147.23H419.97M419.77 146.98V147.23M418.77 146.98H419.77M419.27 110.72V146.98M420.31 141.04H420.41M420.36 134.22V141.04M420.25 134.22H420.36M420.30 133.50V134.22M420.48 133.68H420.56M420.52 133.50V133.68M420.30 133.50H420.52M420.41 125.96V133.50M420.81 144.75H420.88M420.84 131.03V144.75M420.71 131.03H420.84M420.78 130.90V131.03M420.61 130.90H420.78M420.69 125.96V130.90M420.41 125.96H420.69M420.55 110.72V125.96M420.92 111.82H421.01M420.96 111.52V111.82M421.07 147.08H421.18M421.13 111.52V147.08M420.96 111.52H421.13M421.05 110.72V111.52M420.55 110.72H421.05M420.80 110.72V110.72M419.27 110.72H420.80M420.03 100.58V110.72M421.27 185.51H421.34M421.31 185.40V185.51M421.49 186.27H421.58M421.54 186.06V186.27M421.42 186.06H421.54M421.48 185.41V186.06M421.48 185.41H421.65M421.56 185.40V185.41M421.31 185.40H421.56M421.43 185.40V185.40M421.43 185.40H421.74M421.59 179.77V185.40M421.59 179.77H421.79M421.69 104.68V179.77M421.88 128.52H421.97M421.92 104.68V128.52M421.69 104.68H421.92M421.81 100.58V104.68M420.03 100.58H421.81M422.10 184.40H422.21M422.15 184.35V184.40M422.26 184.56H422.37M422.31 184.35V184.56M422.15 184.35H422.31M422.23 116.68V184.35M422.23 116.68H422.41M422.32 116.67V116.68M422.02 116.67H422.32M422.17 116.67V116.67M422.60 182.23H422.67M422.64 182.10V182.23M422.64 182.10H422.75M422.69 165.65V182.10M422.52 165.65H422.69M422.61 149.44V165.65M422.61 149.44H422.82M422.72 116.67V149.44M422.17 116.67H422.72M422.44 104.02V116.67M422.89 182.51H422.95M422.92 177.13V182.51M423.07 177.40H423.12M423.09 177.13V177.40M422.92 177.13H423.09M423.01 169.78V177.13M423.29 187.58H423.37M423.33 186.23V187.58M423.21 186.23H423.33M423.27 186.15V186.23M423.51 186.33H423.59M423.55 186.33V186.33M423.41 186.33H423.55M423.48 186.15V186.33M423.27 186.15H423.48M423.38 184.52V186.15M423.73 185.07H423.84M423.78 184.62V185.07M424.00 187.77H424.08M424.04 187.77V187.77M423.90 187.77H424.04M423.97 184.62V187.77M423.78 184.62H423.97M423.88 184.53V184.62M423.65 184.53H423.88M423.77 184.52V184.53M423.38 184.52H423.77M423.57 169.78V184.52M423.01 169.78H423.57M423.29 117.64V169.78M424.15 119.65H424.20M424.18 118.96V119.65M424.37 183.61H424.46M424.41 182.84V183.61M424.28 182.84H424.41M424.35 147.61V182.84M424.52 169.55H424.61M424.57 147.61V169.55M424.35 147.61H424.57M424.46 119.16V147.61M424.75 163.61H424.82M424.78 162.05V163.61M424.69 162.05H424.78M424.74 159.93V162.05M424.99 165.83H425.06M425.03 161.15V165.83M424.91 161.15H425.03M424.97 159.93V161.15M424.74 159.93H424.97M424.85 119.16V159.93M424.46 119.16H424.85M424.66 118.96V119.16M424.18 118.96H424.66M424.42 117.64V118.96M423.29 117.64H424.42M423.85 106.48V117.64M425.20 118.95H425.30M425.25 117.67V118.95M425.14 117.67H425.25M425.20 108.98V117.67M425.37 127.21H425.45M425.41 108.98V127.21M425.41 108.98H425.54M425.48 108.98V108.98M425.20 108.98H425.48M425.34 106.48V108.98M423.85 106.48H425.34M424.59 104.02V106.48M422.44 104.02H424.59M423.52 103.78V104.02M425.75 130.66H425.84M425.80 114.07V130.66M425.67 114.07H425.80M425.73 114.07V114.07M425.94 175.04H425.99M425.96 174.96V175.04M426.07 175.25H426.14M426.11 174.96V175.25M425.96 174.96H426.11M426.04 114.76V174.96M426.24 165.23H426.29M426.26 114.76V165.23M426.04 114.76H426.26M426.15 114.07V114.76M425.73 114.07H426.15M425.94 113.80V114.07M425.62 113.80H425.94M425.78 103.78V113.80M423.52 103.78H425.78M426.36 173.52H426.46M426.41 170.01V173.52M426.53 172.85H426.62M426.58 170.01V172.85M426.41 170.01H426.58M426.49 169.41V170.01M426.86 173.96H426.94M426.90 172.44V173.96M426.78 172.44H426.90M426.84 172.25V172.44M426.70 172.25H426.84M426.77 171.39V172.25M427.02 179.98H427.08M427.05 179.73V179.98M427.05 179.73H427.17M427.11 171.52V179.73M427.11 171.52H427.25M427.18 171.39V171.52M426.77 171.39H427.18M426.97 169.41V171.39M426.49 169.41H426.97M426.73 145.97V169.41M427.38 176.18H427.44M427.41 175.84V176.18M427.30 175.84H427.41M427.35 175.84V175.84M427.55 177.27H427.62M427.58 175.84V177.27M427.35 175.84H427.58M427.47 160.75V175.84M427.78 179.40H427.85M427.82 179.20V179.40M427.94 182.80H428.01M427.97 179.20V182.80M427.82 179.20H427.97M427.89 179.19V179.20M427.72 179.19H427.89M427.81 161.03V179.19M428.08 174.66H428.17M428.12 174.66V174.66M428.26 174.81H428.32M428.29 174.78V174.81M428.29 174.78H428.40M428.35 174.66V174.78M428.12 174.66H428.35M428.24 161.03V174.66M427.81 161.03H428.24M428.02 160.75V161.03M427.47 160.75H428.02M427.74 145.97V160.75M426.73 145.97H427.74M427.24 126.21V145.97M428.48 182.50H428.53M428.50 179.05V182.50M428.61 179.14H428.70M428.66 179.05V179.14M428.50 179.05H428.66M428.58 153.15V179.05M428.88 170.11H428.94M428.91 170.11V170.11M428.79 170.11H428.91M428.85 160.36V170.11M429.01 174.85H429.10M429.05 174.59V174.85M429.15 180.02H429.23M429.19 174.59V180.02M429.05 174.59H429.19M429.12 160.67V174.59M429.12 160.67H429.34M429.23 160.36V160.67M428.85 160.36H429.23M429.04 153.20V160.36M429.48 179.62H429.55M429.52 169.57V179.62M429.52 169.57H429.66M429.59 166.31V169.57M429.40 166.31H429.59M429.49 153.20V166.31M429.04 153.20H429.49M429.27 153.15V153.20M428.58 153.15H429.27M428.92 131.82V153.15M429.89 169.15H429.97M429.93 158.12V169.15M429.79 158.12H429.93M429.86 157.64V158.12M430.11 185.72H430.18M430.14 185.39V185.72M430.04 185.39H430.14M430.09 157.64V185.39M429.86 157.64H430.09M429.97 132.00V157.64M429.73 132.00H429.97M429.85 131.82V132.00M430.39 172.21H430.50M430.45 153.05V172.21M430.33 153.05H430.45M430.39 147.17V153.05M430.24 147.17H430.39M430.31 146.85V147.17M430.31 146.85H430.58M430.45 133.31V146.85M430.71 156.23H430.82M430.76 156.11V156.23M430.64 156.11H430.76M430.70 136.57V156.11M430.89 139.66H430.97M430.93 136.57V139.66M430.70 136.57H430.93M430.81 133.31V136.57M430.45 133.31H430.81M430.63 132.44V133.31M431.01 149.65H431.11M431.06 148.78V149.65M431.34 185.94H431.44M431.39 185.92V185.94M431.26 185.92H431.39M431.32 149.58V185.92M431.20 149.58H431.32M431.26 148.78V149.58M431.06 148.78H431.26M431.16 132.44V148.78M430.63 132.44H431.16M430.90 131.82V132.44M429.85 131.82H430.90M430.37 131.82V131.82M428.92 131.82H430.37M429.65 126.21V131.82M427.24 126.21H429.65M428.44 117.98V126.21M431.51 179.87H431.57M431.54 177.71V179.87M431.67 186.63H431.74M431.70 177.71V186.63M431.54 177.71H431.70M431.62 177.66V177.71M431.80 187.42H431.91M431.85 177.66V187.42M431.62 177.66H431.85M431.74 177.66V177.66M432.10 182.02H432.21M432.16 182.02V182.02M432.03 182.02H432.16M432.10 178.41V182.02M431.96 178.41H432.10M432.03 177.66V178.41M431.74 177.66H432.03M431.88 126.97V177.66M432.26 147.11H432.37M432.31 129.47V147.11M432.49 148.22H432.57M432.53 142.63V148.22M432.41 142.63H432.53M432.47 129.47V142.63M432.31 129.47H432.47M432.39 126.97V129.47M431.88 126.97H432.39M432.14 120.71V126.97M432.66 145.03H432.73M432.69 140.34V145.03M432.69 140.34H432.83M432.76 140.29V140.34M432.96 175.24H433.04M433.00 161.64V175.24M432.89 161.64H433.00M432.95 144.09V161.64M433.19 177.88H433.28M433.24 163.18V177.88M433.13 163.18H433.24M433.18 144.09V163.18M432.95 144.09H433.18M433.06 140.29V144.09M432.76 140.29H433.06M432.91 132.11V140.29M433.37 152.58H433.42M433.39 152.55V152.58M433.39 152.55H433.50M433.44 132.11V152.55M432.91 132.11H433.44M433.18 120.71V132.11M432.14 120.71H433.18M432.66 119.70V120.71M433.61 175.35H433.68M433.65 129.78V175.35M433.76 172.36H433.82M433.79 166.57V172.36M433.79 166.57H433.90M433.84 129.78V166.57M433.65 129.78H433.84M433.74 123.12V129.78M434.07 181.09H434.14M434.11 166.01V181.09M434.00 166.01H434.11M434.05 140.48V166.01M434.30 162.16H434.39M434.35 152.44V162.16M434.20 152.44H434.35M434.27 140.48V152.44M434.05 140.48H434.27M434.16 123.12V140.48M433.74 123.12H434.16M433.95 123.07V123.12M434.43 143.12H434.51M434.47 140.06V143.12M434.68 177.14H434.75M434.71 158.14V177.14M434.83 159.59H434.89M434.86 158.14V159.59M434.71 158.14H434.86M434.79 140.25V158.14M434.58 140.25H434.79M434.68 140.06V140.25M434.47 140.06H434.68M434.58 133.35V140.06M435.07 177.66H435.15M435.11 174.66V177.66M434.97 174.66H435.11M435.04 139.22V174.66M435.21 144.04H435.29M435.25 139.22V144.04M435.04 139.22H435.25M435.14 133.35V139.22M434.58 133.35H435.14M434.86 123.07V133.35M433.95 123.07H434.86M434.41 119.70V123.07M432.66 119.70H434.41M433.53 117.98V119.70M428.44 117.98H433.53M435.44 145.68H435.52M435.48 134.60V145.68M435.38 134.60H435.48M435.43 112.12V134.60M435.62 112.35H435.67M435.64 112.12V112.35M435.43 112.12H435.64M435.54 111.18V112.12M435.74 167.86H435.85M435.79 161.78V167.86M435.92 166.51H436.02M435.97 161.78V166.51M435.79 161.78H435.97M435.88 145.42V161.78M436.05 170.65H436.14M436.10 145.86V170.65M436.21 160.38H436.32M436.27 152.31V160.38M436.27 152.31H436.40M436.33 145.86V152.31M436.10 145.86H436.33M436.21 145.56V145.86M436.44 187.79H436.54M436.49 187.74V187.79M436.49 187.74H436.62M436.56 187.74V187.74M436.70 187.79H436.77M436.73 187.74V187.79M436.73 187.74H436.85M436.79 187.74V187.74M436.56 187.74H436.79M436.67 145.56V187.74M436.21 145.56H436.67M436.44 145.42V145.56M435.88 145.42H436.44M436.16 111.18V145.42M435.54 111.18H436.16M435.85 106.19V111.18M436.98 115.54H437.06M437.02 114.33V115.54M437.02 114.33H437.16M437.09 108.00V114.33M436.91 108.00H437.09M437.00 106.19V108.00M435.85 106.19H437.00M436.42 106.16V106.19M437.22 115.16H437.33M437.27 115.16V115.16M437.38 116.88H437.44M437.41 115.16V116.88M437.27 115.16H437.41M437.34 115.16V115.16M437.55 123.32H437.63M437.59 119.95V123.32M437.59 119.95H437.71M437.65 115.85V119.95M437.87 116.06H437.94M437.90 116.06V116.06M437.77 116.06H437.90M437.84 115.85V116.06M437.65 115.85H437.84M437.74 115.16V115.85M437.34 115.16H437.74M437.54 115.15V115.16M438.03 117.59H438.10M438.06 117.45V117.59M438.30 135.81H438.40M438.35 135.80V135.81M438.24 135.80H438.35M438.29 132.54V135.80M438.15 132.54H438.29M438.22 117.46V132.54M438.47 175.68H438.55M438.51 175.68V175.68M438.51 175.68H438.62M438.56 117.46V175.68M438.22 117.46H438.56M438.39 117.45V117.46M438.06 117.45H438.39M438.23 115.15V117.45M437.54 115.15H438.23M437.89 111.86V115.15M438.78 185.27H438.87M438.83 185.15V185.27M438.69 185.15H438.83M438.76 183.93V185.15M438.93 187.04H438.99M438.96 186.94V187.04M439.09 187.35H439.17M439.13 187.26V187.35M439.13 187.26H439.25M439.19 187.13V187.26M439.19 187.13H439.34M439.26 186.94V187.13M438.96 186.94H439.26M439.11 183.93V186.94M438.76 183.93H439.11M438.93 183.76V183.93M439.49 186.08H439.56M439.52 186.08V186.08M439.42 186.08H439.52M439.47 184.08V186.08M439.71 186.59H439.79M439.75 186.51V186.59M439.75 186.51H439.85M439.80 186.47V186.51M439.65 186.47H439.80M439.73 184.08V186.47M439.47 184.08H439.73M439.60 183.76V184.08M438.93 183.76H439.60M439.27 111.86V183.76M437.89 111.86H439.27M438.58 106.16V111.86M436.42 106.16H438.58M437.50 103.01V106.16M439.93 166.59H440.01M439.97 166.44V166.59M440.08 170.21H440.16M440.12 166.44V170.21M439.97 166.44H440.12M440.05 153.87V166.44M440.23 154.80H440.31M440.27 153.87V154.80M440.05 153.87H440.27M440.16 130.96V153.87M440.48 186.19H440.57M440.53 181.57V186.19M440.41 181.57H440.53M440.47 180.16V181.57M440.65 187.80H440.73M440.69 180.16V187.80M440.47 180.16H440.69M440.58 170.81V180.16M440.85 179.23H440.95M440.90 179.13V179.23M440.90 179.13H441.04M440.97 170.82V179.13M440.81 170.82H440.97M440.89 170.81V170.82M440.58 170.81H440.89M440.73 130.96V170.81M440.16 130.96H440.73M440.45 129.68V130.96M441.23 180.39H441.32M441.27 180.22V180.39M441.16 180.22H441.27M441.22 180.20V180.22M441.08 180.20H441.22M441.15 180.20V180.20M441.50 186.58H441.55M441.53 186.58V186.58M441.43 186.58H441.53M441.48 186.44V186.58M441.62 187.17H441.70M441.66 187.06V187.17M441.66 187.06H441.81M441.74 186.46V187.06M442.02 187.31H442.10M442.06 186.57V187.31M441.95 186.57H442.06M442.01 186.57V186.57M442.01 186.57H442.19M442.10 186.51V186.57M441.87 186.51H442.10M441.98 186.46V186.51M441.74 186.46H441.98M441.86 186.46V186.46M442.28 187.73H442.32M442.30 187.73V187.73M442.41 187.80H442.50M442.46 187.73V187.80M442.30 187.73H442.46M442.38 186.48V187.73M442.38 186.48H442.58M442.48 186.46V186.48M441.86 186.46H442.48M442.17 186.44V186.46M441.48 186.44H442.17M441.82 186.35V186.44M442.65 187.60H442.71M442.68 186.85V187.60M443.05 186.94H443.11M443.08 186.92V186.94M442.96 186.92H443.08M443.02 186.90V186.92M442.87 186.90H443.02M442.94 186.86V186.90M442.78 186.86H442.94M442.86 186.86V186.86M443.26 187.03H443.35M443.31 186.99V187.03M443.19 186.99H443.31M443.25 186.97V186.99M443.58 187.92H443.65M443.62 187.92V187.92M443.50 187.92H443.62M443.56 187.67V187.92M443.44 187.67H443.56M443.50 187.29V187.67M443.50 187.29H443.72M443.61 186.97V187.29M443.25 186.97H443.61M443.43 186.86V186.97M442.86 186.86H443.43M443.15 186.85V186.86M442.68 186.85H443.15M442.91 186.69V186.85M443.86 187.69H443.96M443.91 187.52V187.69M443.83 187.52H443.91M443.87 186.69V187.52M442.91 186.69H443.87M443.39 186.35V186.69M441.82 186.35H443.39M442.61 180.20V186.35M441.15 180.20H442.61M441.88 129.68V180.20M440.45 129.68H441.88M441.16 103.01V129.68M437.50 103.01H441.16M444.13 168.14H444.17M444.15 166.36V168.14M444.06 166.36H444.15M444.10 166.35V166.36M444.42 171.35H444.49M444.46 171.28V171.35M444.32 171.28H444.46M444.39 168.05V171.28M444.25 168.05H444.39M444.32 166.39V168.05M444.66 185.52H444.72M444.69 172.32V185.52M444.58 172.32H444.69M444.64 166.39V172.32M444.32 166.39H444.64M444.48 166.35V166.39M444.10 166.35H444.48M444.29 166.27V166.35M445.06 180.86H445.11M445.08 180.86V180.86M444.97 180.86H445.08M445.03 180.60V180.86M444.91 180.60H445.03M444.97 170.44V180.60M445.20 176.26H445.26M445.23 176.14V176.26M445.37 176.16H445.42M445.39 176.14V176.16M445.23 176.14H445.39M445.31 170.44V176.14M444.97 170.44H445.31M445.14 169.96V170.44M444.80 169.96H445.14M444.97 169.96V169.96M445.49 183.97H445.56M445.52 183.72V183.97M445.52 183.72H445.67M445.60 170.12V183.72M445.88 182.97H445.97M445.92 180.90V182.97M445.83 180.90H445.92M445.88 180.84V180.90M445.74 180.84H445.88M445.81 180.84V180.84M446.21 186.75H446.25M446.23 186.75V186.75M446.12 186.75H446.23M446.18 186.46V186.75M446.05 186.46H446.18M446.11 180.84V186.46M445.81 180.84H446.11M445.96 170.12V180.84M445.60 170.12H445.96M445.78 169.96V170.12M444.97 169.96H445.78M445.38 166.27V169.96M444.29 166.27H445.38M444.83 153.88V166.27M446.36 174.32H446.41M446.39 164.26V174.32M446.57 177.04H446.67M446.62 177.04V177.04M446.81 177.06H446.90M446.86 177.06V177.06M446.74 177.06H446.86M446.80 177.04V177.06M446.62 177.04H446.80M446.71 175.35V177.04M446.49 175.35H446.71M446.60 164.26V175.35M446.39 164.26H446.60M446.49 164.26V164.26M447.02 179.85H447.12M447.07 179.82V179.85M447.29 187.84H447.37M447.33 187.43V187.84M447.18 187.43H447.33M447.26 179.82V187.43M447.07 179.82H447.26M447.16 176.98V179.82M446.95 176.98H447.16M447.06 166.55V176.98M447.58 187.63H447.64M447.61 187.52V187.63M447.48 187.52H447.61M447.55 187.33V187.52M447.44 187.33H447.55M447.49 175.17V187.33M447.75 175.25H447.80M447.77 175.17V175.25M447.49 175.17H447.77M447.63 166.55V175.17M447.06 166.55H447.63M447.35 164.26V166.55M446.49 164.26H447.35M446.92 164.08V164.26M447.98 186.46H448.06M448.02 186.46V186.46M448.18 187.62H448.25M448.22 186.68V187.62M448.22 186.68H448.34M448.28 186.46V186.68M448.11 186.46H448.28M448.20 186.46V186.46M448.02 186.46H448.20M448.11 176.55V186.46M447.87 176.55H448.11M447.99 176.55V176.55M448.41 186.72H448.49M448.45 186.66V186.72M448.58 186.66H448.67M448.63 186.66V186.66M448.72 187.07H448.80M448.76 186.66V187.07M448.63 186.66H448.76M448.69 186.66V186.66M448.45 186.66H448.69M448.57 186.66V186.66M448.87 187.31H448.98M448.93 187.30V187.31M448.93 187.30H449.05M448.99 186.66V187.30M448.57 186.66H448.99M448.78 184.44V186.66M449.13 187.97H449.22M449.17 186.44V187.97M449.35 186.44H449.42M449.39 186.44V186.44M449.26 186.44H449.39M449.33 186.44V186.44M449.17 186.44H449.33M449.25 184.44V186.44M448.78 184.44H449.25M449.02 182.27V184.44M449.83 187.16H449.90M449.87 187.16V187.16M449.75 187.16H449.87M449.81 187.16V187.16M449.68 187.16H449.81M449.74 187.13V187.16M449.60 187.13H449.74M449.67 187.13V187.13M449.50 187.13H449.67M449.59 185.62V187.13M450.04 186.63H450.11M450.08 186.63V186.63M449.97 186.63H450.08M450.02 185.62V186.63M449.59 185.62H450.02M449.81 182.27V185.62M449.02 182.27H449.81M449.41 176.55V182.27M447.99 176.55H449.41M448.70 164.08V176.55M446.92 164.08H448.70M447.81 164.06V164.08M450.20 175.32H450.26M450.23 164.06V175.32M447.81 164.06H450.23M449.02 153.88V164.06M444.83 153.88H449.02M450.52 181.13H450.58M450.55 179.56V181.13M450.66 180.12H450.74M450.70 179.56V180.12M450.55 179.56H450.70M450.62 177.11V179.56M450.44 177.11H450.62M450.53 167.67V177.11M450.53 167.67H450.82M450.68 167.54V167.67M451.12 187.75H451.22M451.17 187.75V187.75M451.05 187.75H451.17M451.11 187.54V187.75M451.31 187.57H451.36M451.33 187.54V187.57M451.11 187.54H451.33M451.22 172.08V187.54M450.96 172.08H451.22M451.09 172.07V172.08M450.92 172.07H451.09M451.01 172.07V172.07M451.52 174.30H451.62M451.57 174.30V174.30M451.44 174.30H451.57M451.51 174.29V174.30M451.69 179.14H451.76M451.73 178.93V179.14M451.73 178.93H451.83M451.78 174.29V178.93M451.51 174.29H451.78M451.64 172.07V174.29M451.01 172.07H451.64M451.32 167.54V172.07M450.68 167.54H451.32M451.00 166.12V167.54M450.37 166.12H451.00M450.68 164.53V166.12M451.92 166.18H451.98M451.95 166.09V166.18M452.06 170.47H452.12M452.09 168.25V170.47M452.29 168.26H452.39M452.34 168.26V168.26M452.24 168.26H452.34M452.29 168.25V168.26M452.09 168.25H452.29M452.19 166.09V168.25M451.95 166.09H452.19M452.07 165.78V166.09M452.07 165.78H452.44M452.26 165.37V165.78M452.26 165.37H452.53M452.40 164.53V165.37M450.68 164.53H452.40M451.54 161.94V164.53M452.63 187.07H452.70M452.67 186.88V187.07M452.67 186.88H452.78M452.73 186.81V186.88M452.86 187.12H452.93M452.90 186.82V187.12M452.98 186.82H453.10M453.04 186.82V186.82M452.90 186.82H453.04M452.97 186.81V186.82M452.73 186.81H452.97M452.85 186.45V186.81M453.25 187.10H453.33M453.29 187.07V187.10M453.18 187.07H453.29M453.23 186.46V187.07M453.46 187.73H453.55M453.50 187.73V187.73M453.50 187.73H453.65M453.57 187.73V187.73M453.39 187.73H453.57M453.48 187.72V187.73M453.48 187.72H453.70M453.59 186.46V187.72M453.23 186.46H453.59M453.41 186.45V186.46M454.02 187.05H454.10M454.06 187.04V187.05M453.95 187.04H454.06M454.01 187.02V187.04M453.86 187.02H454.01M453.93 187.01V187.02M453.77 187.01H453.93M453.85 186.45V187.01M453.41 186.45H453.85M453.63 186.45V186.45M452.85 186.45H453.63M453.24 186.45V186.45M454.15 187.71H454.26M454.21 187.70V187.71M454.32 187.71H454.41M454.36 187.71V187.71M454.36 187.71H454.49M454.43 187.70V187.71M454.57 187.73H454.62M454.59 187.70V187.73M454.43 187.70H454.59M454.51 187.70V187.70M454.21 187.70H454.51M454.36 186.45V187.70M454.77 187.07H454.89M454.83 186.99V187.07M454.73 186.99H454.83M454.78 186.79V186.99M454.93 187.84H455.04M454.98 187.84V187.84M455.16 187.84H455.26M455.21 187.84V187.84M455.10 187.84H455.21M455.15 187.84V187.84M454.98 187.84H455.15M455.07 186.79V187.84M454.78 186.79H455.07M454.92 186.45V186.79M454.36 186.45H454.92M454.64 186.45V186.45M453.24 186.45H454.64M453.94 161.94V186.45M451.54 161.94H453.94M455.41 181.37H455.49M455.45 175.39V181.37M455.34 175.39H455.45M455.39 175.23V175.39M455.54 186.24H455.62M455.58 186.20V186.24M455.58 186.20H455.72M455.65 183.52V186.20M455.79 183.58H455.86M455.83 183.52V183.58M455.65 183.52H455.83M455.74 175.29V183.52M455.97 182.40H456.01M455.99 182.14V182.40M455.99 182.14H456.09M456.04 175.29V182.14M455.74 175.29H456.04M455.89 175.23V175.29M455.39 175.23H455.89M455.64 174.79V175.23M456.36 184.08H456.42M456.39 175.61V184.08M456.58 175.92H456.63M456.61 175.85V175.92M456.48 175.85H456.61M456.54 175.61V175.85M456.39 175.61H456.54M456.46 175.01V175.61M456.27 175.01H456.46M456.37 174.79V175.01M456.72 175.25H456.82M456.77 175.25V175.25M456.87 182.86H456.96M456.92 175.25V182.86M456.77 175.25H456.92M456.84 174.79V175.25M456.37 174.79H456.84M456.61 174.79V174.79M457.18 180.09H457.26M457.22 180.09V180.09M457.09 180.09H457.22M457.15 174.97V180.09M457.03 174.97H457.15M457.09 174.97V174.97M457.33 183.85H457.41M457.37 174.97V183.85M457.09 174.97H457.37M457.23 174.79V174.97M456.61 174.79H457.23M456.92 174.79V174.79M456.19 174.79H456.92M456.56 174.79V174.79M455.64 174.79H456.56M456.10 172.98V174.79M457.64 181.46H457.70M457.67 181.01V181.46M457.56 181.01H457.67M457.62 180.79V181.01M457.62 180.79H457.81M457.71 180.76V180.79M457.49 180.76H457.71M457.60 180.75V180.76M457.60 180.75H457.87M457.74 180.63V180.75M458.02 184.19H458.12M458.07 184.19V184.19M457.95 184.19H458.07M458.01 183.93V184.19M458.27 183.93H458.33M458.30 183.93V183.93M458.19 183.93H458.30M458.25 183.93V183.93M458.01 183.93H458.25M458.13 180.99V183.93M458.40 187.13H458.48M458.44 181.61V187.13M458.59 186.56H458.63M458.61 186.54V186.56M458.61 186.54H458.73M458.67 186.54V186.54M458.67 186.54H458.80M458.73 181.76V186.54M458.73 181.76H458.87M458.80 181.61V181.76M458.44 181.61H458.80M458.62 180.99V181.61M458.13 180.99H458.62M458.37 180.85V180.99M459.01 186.10H459.12M459.07 184.75V186.10M458.96 184.75H459.07M459.01 180.86V184.75M459.17 181.10H459.24M459.20 180.86V181.10M459.01 180.86H459.20M459.11 180.85V180.86M459.34 184.00H459.42M459.38 181.08V184.00M459.52 184.37H459.58M459.55 181.08V184.37M459.38 181.08H459.55M459.46 180.85V181.08M459.11 180.85H459.46M459.29 180.85V180.85M458.37 180.85H459.29M458.83 180.63V180.85M457.74 180.63H458.83M458.28 172.98V180.63M456.10 172.98H458.28M457.19 155.23V172.98M459.86 181.96H459.95M459.91 180.89V181.96M459.80 180.89H459.91M459.85 180.25V180.89M459.74 180.25H459.85M459.80 180.25V180.25M459.80 180.25H460.01M459.91 179.77V180.25M459.67 179.77H459.91M459.79 179.77V179.77M460.26 185.08H460.32M460.29 184.90V185.08M460.29 184.90H460.43M460.36 184.90V184.90M460.49 185.27H460.56M460.53 184.90V185.27M460.36 184.90H460.53M460.44 184.79V184.90M460.18 184.79H460.44M460.31 184.07V184.79M460.31 184.07H460.63M460.47 180.20V184.07M460.09 180.20H460.47M460.28 179.77V180.20M459.79 179.77H460.28M460.04 163.64V179.77M460.72 182.54H460.80M460.76 181.96V182.54M460.96 187.95H461.03M460.99 187.84V187.95M460.88 187.84H460.99M460.94 187.79V187.84M461.11 187.91H461.19M461.15 187.80V187.91M461.29 187.80H461.34M461.31 187.80V187.80M461.15 187.80H461.31M461.23 187.79V187.80M460.94 187.79H461.23M461.08 181.96V187.79M460.76 181.96H461.08M460.92 163.65V181.96M461.43 168.08H461.51M461.47 165.37V168.08M461.65 167.33H461.73M461.69 167.01V167.33M461.57 167.01H461.69M461.63 166.81V167.01M461.86 174.33H461.97M461.92 167.01V174.33M461.81 167.01H461.92M461.86 166.81V167.01M461.63 166.81H461.86M461.75 165.37V166.81M461.47 165.37H461.75M461.61 163.79V165.37M462.09 165.05H462.19M462.14 164.21V165.05M462.04 164.21H462.14M462.09 163.97V164.21M462.33 173.63H462.42M462.38 165.89V173.63M462.28 165.89H462.38M462.33 163.97V165.89M462.09 163.97H462.33M462.21 163.79V163.97M461.61 163.79H462.21M461.91 163.65V163.79M460.92 163.65H461.91M461.42 163.64V163.65M460.04 163.64H461.42M460.73 155.23V163.64M462.48 155.24H462.59M462.53 155.23V155.24M460.73 155.23H462.53M461.63 155.23V155.23M457.19 155.23H461.63M459.41 152.94V155.23M462.72 176.70H462.80M462.76 176.70V176.70M462.94 186.75H463.02M462.98 186.02V186.75M462.88 186.02H462.98M462.93 176.70V186.02M462.76 176.70H462.93M462.84 153.02V176.70M462.65 153.02H462.84M462.75 153.02V153.02M463.18 165.35H463.27M463.22 155.80V165.35M463.11 155.80H463.22M463.17 155.63V155.80M463.43 184.31H463.51M463.47 184.16V184.31M463.34 184.16H463.47M463.41 155.75V184.16M463.41 155.75H463.56M463.48 155.63V155.75M463.17 155.63H463.48M463.32 153.02V155.63M462.75 153.02H463.32M463.03 152.99V153.02M463.67 186.06H463.74M463.70 186.06V186.06M463.80 187.36H463.89M463.85 186.09V187.36M463.85 186.09H463.97M463.91 186.06V186.09M463.70 186.06H463.91M463.81 186.06V186.06M464.02 186.17H464.12M464.07 186.06V186.17M464.18 186.20H464.25M464.21 186.06V186.20M464.07 186.06H464.21M464.14 186.06V186.06M463.81 186.06H464.14M463.97 186.03V186.06M464.36 187.93H464.44M464.40 186.03V187.93M464.48 186.50H464.56M464.52 186.24V186.50M464.66 186.95H464.74M464.70 186.24V186.95M464.52 186.24H464.70M464.61 186.03V186.24M464.40 186.03H464.61M464.51 186.03V186.03M463.97 186.03H464.51M464.24 186.02V186.03M464.88 187.35H464.96M464.92 186.49V187.35M464.80 186.49H464.92M464.86 186.41V186.49M465.04 186.61H465.10M465.07 186.42V186.61M465.21 187.46H465.29M465.25 187.46V187.46M465.25 187.46H465.34M465.29 187.45V187.46M465.29 187.45H465.44M465.37 187.41V187.45M465.65 187.65H465.72M465.69 187.65V187.65M465.56 187.65H465.69M465.63 187.65V187.65M465.49 187.65H465.63M465.56 187.41V187.65M465.56 187.41H465.80M465.68 187.41V187.41M465.37 187.41H465.68M465.52 186.42V187.41M465.07 186.42H465.52M465.30 186.41V186.42M464.86 186.41H465.30M465.08 186.02V186.41M464.24 186.02H465.08M464.66 179.58V186.02M465.86 179.61H465.98M465.92 179.58V179.61M464.66 179.58H465.92M465.29 152.99V179.58M463.03 152.99H465.29M464.16 152.94V152.99M459.41 152.94H464.16M466.10 164.64H466.17M466.14 162.19V164.64M466.05 162.19H466.14M466.09 162.19V162.19M466.29 187.68H466.36M466.32 187.68V187.68M466.48 187.99H466.58M466.53 187.98V187.99M466.65 187.98H466.71M466.68 187.98V187.98M466.53 187.98H466.68M466.61 187.76V187.98M466.43 187.76H466.61M466.52 187.73V187.76M466.52 187.73H466.81M466.67 187.69V187.73M467.07 187.82H467.14M467.10 187.82V187.82M466.96 187.82H467.10M467.03 187.82V187.82M466.90 187.82H467.03M466.97 187.76V187.82M467.37 187.90H467.43M467.40 187.84V187.90M467.40 187.84H467.51M467.46 187.84V187.84M467.29 187.84H467.46M467.37 187.77V187.84M467.22 187.77H467.37M467.30 187.76V187.77M466.97 187.76H467.30M467.13 187.69V187.76M466.67 187.69H467.13M466.90 187.69V187.69M467.57 187.98H467.65M467.61 187.94V187.98M467.73 187.94H467.81M467.77 187.94V187.94M467.61 187.94H467.77M467.69 187.94V187.94M467.97 187.95H468.03M468.00 187.94V187.95M468.00 187.94H468.15M468.07 187.94V187.94M467.91 187.94H468.07M467.99 187.94V187.94M468.22 187.96H468.29M468.25 187.94V187.96M467.99 187.94H468.25M468.12 187.94V187.94M467.69 187.94H468.12M467.91 187.94V187.94M468.34 187.95H468.42M468.38 187.94V187.95M467.91 187.94H468.38M468.14 187.94V187.94M468.54 187.96H468.60M468.57 187.96V187.96M468.66 187.99H468.72M468.69 187.96V187.99M468.57 187.96H468.69M468.63 187.94V187.96M468.14 187.94H468.63M468.39 187.92V187.94M469.05 188.00H469.11M469.08 188.00V188.00M469.00 188.00H469.08M469.04 188.00V188.00M468.91 188.00H469.04M468.97 188.00V188.00M469.27 188.00H469.36M469.31 188.00V188.00M469.23 188.00H469.31M469.27 188.00V188.00M469.42 188.00H469.54M469.48 188.00V188.00M469.61 188.00H469.67M469.64 188.00V188.00M469.48 188.00H469.64M469.56 188.00V188.00M469.91 188.00H470.01M469.96 188.00V188.00M469.81 188.00H469.96M469.88 188.00V188.00M469.76 188.00H469.88M469.82 188.00V188.00M469.56 188.00H469.82M469.69 188.00V188.00M469.27 188.00H469.69M469.48 188.00V188.00M468.97 188.00H469.48M469.23 187.98V188.00M468.84 187.98H469.23M469.03 187.92V187.98M468.39 187.92H469.03M468.71 187.69V187.92M466.90 187.69H468.71M467.80 187.68V187.69M466.32 187.68H467.80M467.06 162.19V187.68M466.09 162.19H467.06M466.58 115.68V162.19M470.08 127.48H470.14M470.11 117.97V127.48M470.21 152.45H470.31M470.26 117.97V152.45M470.11 117.97H470.26M470.19 117.93V117.97M470.46 174.29H470.53M470.49 158.07V174.29M470.36 158.07H470.49M470.43 158.07V158.07M470.63 181.93H470.68M470.65 178.87V181.93M470.65 178.87H470.74M470.70 178.86V178.87M470.85 178.86H470.94M470.89 178.86V178.86M470.70 178.86H470.89M470.80 158.07V178.86M470.43 158.07H470.80M470.61 117.97V158.07M471.14 174.55H471.21M471.18 174.55V174.55M471.09 174.55H471.18M471.13 161.65V174.55M471.30 179.60H471.37M471.34 161.65V179.60M471.13 161.65H471.34M471.23 158.36V161.65M470.98 158.36H471.23M471.11 118.05V158.36M471.60 186.88H471.69M471.65 186.65V186.88M471.76 187.97H471.84M471.80 187.78V187.97M471.80 187.78H471.93M471.87 186.65V187.78M471.65 186.65H471.87M471.76 162.38V186.65M471.52 162.38H471.76M471.64 118.18V162.38M471.44 118.18H471.64M471.54 118.05V118.18M471.11 118.05H471.54M471.32 117.97V118.05M470.61 117.97H471.32M470.97 117.93V117.97M470.19 117.93H470.97M470.58 115.68V117.93M466.58 115.68H470.58M471.98 149.64H472.06M472.02 138.35V149.64M472.02 138.35H472.15M472.09 137.13V138.35M472.44 183.97H472.54M472.49 178.61V183.97M472.41 178.61H472.49M472.45 172.65V178.61M472.70 177.50H472.77M472.74 172.65V177.50M472.61 172.65H472.74M472.67 172.65V172.65M472.45 172.65H472.67M472.56 172.17V172.65M472.29 172.17H472.56M472.42 168.42V172.17M472.21 168.42H472.42M472.32 137.13V168.42M472.09 137.13H472.32M472.20 126.05V137.13M472.87 182.20H472.94M472.91 180.93V182.20M472.99 180.93H473.09M473.04 180.93V180.93M472.91 180.93H473.04M472.98 171.31V180.93M472.98 171.31H473.16M473.07 126.12V171.31M473.38 161.56H473.47M473.43 132.92V161.56M473.31 132.92H473.43M473.37 130.51V132.92M473.22 130.51H473.37M473.30 130.51V130.51M473.57 134.85H473.61M473.59 134.58V134.85M473.59 134.58H473.69M473.64 130.51V134.58M473.30 130.51H473.64M473.47 126.12V130.51M473.07 126.12H473.47M473.27 126.05V126.12M472.20 126.05H473.27M472.74 125.73V126.05M473.86 153.05H473.93M473.90 153.05V153.05M473.76 153.05H473.90M473.83 147.20V153.05M473.99 148.66H474.10M474.04 147.27V148.66M474.04 147.27H474.14M474.09 147.20V147.27M473.83 147.20H474.09M473.96 145.34V147.20M474.26 184.38H474.30M474.28 174.99V184.38M474.47 177.51H474.57M474.52 177.51V177.51M474.39 177.51H474.52M474.45 175.00V177.51M474.45 175.00H474.65M474.55 174.99V175.00M474.28 174.99H474.55M474.42 145.34V174.99M474.70 145.34H474.76M474.73 145.34V145.34M474.84 168.37H474.92M474.88 145.51V168.37M474.88 145.51H475.03M474.95 145.34V145.51M474.73 145.34H474.95M474.84 145.34V145.34M474.42 145.34H474.84M474.63 145.34V145.34M473.96 145.34H474.63M474.30 143.63V145.34M475.11 187.02H475.17M475.14 187.01V187.02M475.23 187.50H475.33M475.28 187.01V187.50M475.14 187.01H475.28M475.21 186.82V187.01M475.21 186.82H475.39M475.30 181.56V186.82M475.61 182.68H475.72M475.66 181.75V182.68M475.58 181.75H475.66M475.62 181.62V181.75M475.47 181.62H475.62M475.55 181.56V181.62M475.30 181.56H475.55M475.42 143.63V181.56M474.30 143.63H475.42M474.86 125.73V143.63M472.74 125.73H474.86M473.80 124.26V125.73M475.87 138.07H475.96M475.92 137.71V138.07M475.80 137.71H475.92M475.86 125.76V137.71M476.04 183.17H476.08M476.06 125.76V183.17M475.86 125.76H476.06M475.96 125.70V125.76M476.16 181.32H476.24M476.20 178.73V181.32M476.34 178.73H476.39M476.37 178.73V178.73M476.20 178.73H476.37M476.28 178.43V178.73M476.28 178.43H476.49M476.38 178.43V178.43M476.62 178.88H476.73M476.68 178.88V178.88M476.68 178.88H476.77M476.72 178.55V178.88M476.56 178.55H476.72M476.64 178.43V178.55M476.38 178.43H476.64M476.51 178.40V178.43M476.87 182.06H476.93M476.90 182.05V182.06M477.16 186.64H477.27M477.21 186.57V186.64M477.21 186.57H477.33M477.27 186.54V186.57M477.09 186.54H477.27M477.18 184.14V186.54M477.01 184.14H477.18M477.09 182.05V184.14M476.90 182.05H477.09M477.00 178.92V182.05M477.00 178.92H477.39M477.19 178.81V178.92M477.65 186.89H477.73M477.69 186.71V186.89M477.69 186.71H477.81M477.75 185.53V186.71M477.59 185.53H477.75M477.67 185.51V185.53M477.48 185.51H477.67M477.57 178.81V185.51M477.19 178.81H477.57M477.38 178.40V178.81M476.51 178.40H477.38M476.95 147.83V178.40M477.94 180.10H478.04M477.99 179.67V180.10M477.90 179.67H477.99M477.94 179.34V179.67M478.11 185.91H478.16M478.13 180.19V185.91M478.28 180.19H478.32M478.30 180.19V180.19M478.13 180.19H478.30M478.22 179.34V180.19M477.94 179.34H478.22M478.08 148.23V179.34M478.39 183.16H478.48M478.44 183.15V183.16M478.59 187.14H478.67M478.63 187.13V187.14M478.63 187.13H478.74M478.69 183.15V187.13M478.44 183.15H478.69M478.56 149.80V183.15M478.87 150.44H478.96M478.92 150.31V150.44M478.81 150.31H478.92M478.86 149.80V150.31M478.56 149.80H478.86M478.71 149.37V149.80M479.09 180.31H479.21M479.15 157.25V180.31M479.05 157.25H479.15M479.10 157.19V157.25M479.25 161.04H479.33M479.29 157.19V161.04M479.42 170.24H479.48M479.45 157.19V170.24M479.29 157.19H479.45M479.37 157.19V157.19M479.10 157.19H479.37M479.23 149.37V157.19M478.71 149.37H479.23M478.97 148.23V149.37M478.08 148.23H478.97M478.53 147.83V148.23M476.95 147.83H478.53M477.74 146.24V147.83M479.66 146.50H479.74M479.70 146.47V146.50M479.58 146.47H479.70M479.64 146.46V146.47M479.82 148.97H479.87M479.84 148.47V148.97M479.84 148.47H479.96M479.90 146.46V148.47M479.64 146.46H479.90M479.77 146.24V146.46M477.74 146.24H479.77M478.75 125.70V146.24M475.96 125.70H478.75M477.36 124.26V125.70M473.80 124.26H477.36M480.21 183.51H480.26M480.24 182.36V183.51M480.14 182.36H480.24M480.19 176.66V182.36M480.03 176.66H480.19M480.11 134.17V176.66M480.51 173.23H480.60M480.55 173.12V173.23M480.55 173.12H480.66M480.61 166.25V173.12M480.43 166.25H480.61M480.52 164.35V166.25M480.36 164.35H480.52M480.44 134.17V164.35M480.11 134.17H480.44M480.27 117.87V134.17M480.79 184.73H480.89M480.84 184.72V184.73M480.84 184.72H480.98M480.91 167.59V184.72M480.73 167.59H480.91M480.82 167.39V167.59M481.03 168.74H481.15M481.09 168.74V168.74M481.22 172.62H481.30M481.26 168.74V172.62M481.09 168.74H481.26M481.17 167.39V168.74M481.34 175.80H481.42M481.38 167.39V175.80M481.17 167.39H481.38M481.28 167.39V167.39M480.82 167.39H481.28M481.05 150.21V167.39M481.60 167.43H481.68M481.64 155.95V167.43M481.52 155.95H481.64M481.58 150.23V155.95M481.84 150.26H481.88M481.86 150.23V150.26M481.73 150.23H481.86M481.80 150.23V150.23M481.58 150.23H481.80M481.69 150.21V150.23M481.05 150.21H481.69M481.37 117.87V150.21M480.27 117.87H481.37M480.82 108.91V117.87M481.98 177.63H482.05M482.02 176.24V177.63M482.12 181.48H482.20M482.16 176.24V181.48M482.02 176.24H482.16M482.09 176.23V176.24M482.30 186.76H482.38M482.34 181.02V186.76M482.34 181.02H482.46M482.40 181.02V181.02M482.62 182.76H482.68M482.65 182.54V182.76M482.65 182.54H482.75M482.70 182.39V182.54M482.52 182.39H482.70M482.61 181.02V182.39M482.40 181.02H482.61M482.51 176.23V181.02M482.09 176.23H482.51M482.30 176.18V176.23M482.89 181.39H482.99M482.94 181.02V181.39M482.84 181.02H482.94M482.89 177.16V181.02M483.06 186.51H483.16M483.11 185.00V186.51M483.21 185.87H483.29M483.25 185.03V185.87M483.25 185.03H483.39M483.32 185.00V185.03M483.11 185.00H483.32M483.21 182.15V185.00M483.47 182.17H483.51M483.49 182.17V182.17M483.60 185.11H483.68M483.64 182.17V185.11M483.49 182.17H483.64M483.56 182.15V182.17M483.21 182.15H483.56M483.39 181.36V182.15M483.76 183.24H483.84M483.80 181.36V183.24M483.39 181.36H483.80M483.59 177.16V181.36M482.89 177.16H483.59M483.24 176.18V177.16M482.30 176.18H483.24M482.77 123.05V176.18M483.92 127.81H483.98M483.95 125.65V127.81M483.95 125.65H484.09M484.02 123.05V125.65M482.77 123.05H484.02M483.39 123.04V123.05M484.29 148.95H484.36M484.33 142.20V148.95M484.21 142.20H484.33M484.27 140.17V142.20M484.16 140.17H484.27M484.21 138.98V140.17M484.47 176.68H484.54M484.51 175.58V176.68M484.51 175.58H484.62M484.57 175.38V175.58M484.57 175.38H484.69M484.63 175.38V175.38M484.63 175.38H484.76M484.69 164.38V175.38M484.69 164.38H484.83M484.76 138.98V164.38M484.21 138.98H484.76M484.49 136.36V138.98M484.92 167.90H484.99M484.96 164.24V167.90M485.09 165.35H485.15M485.12 164.24V165.35M484.96 164.24H485.12M485.04 164.01V164.24M485.21 186.19H485.29M485.25 186.19V186.19M485.25 186.19H485.38M485.32 185.93V186.19M485.32 185.93H485.49M485.40 183.07V185.93M485.40 183.07H485.53M485.47 183.07V183.07M485.62 185.27H485.73M485.67 183.11V185.27M485.77 183.31H485.86M485.82 183.12V183.31M485.82 183.12H485.93M485.87 183.11V183.12M485.67 183.11H485.87M485.77 183.07V183.11M485.47 183.07H485.77M485.62 183.07V183.07M486.03 185.07H486.10M486.06 183.34V185.07M486.06 183.34H486.17M486.11 183.07V183.34M485.62 183.07H486.11M485.87 164.01V183.07M485.04 164.01H485.87M485.45 136.36V164.01M484.49 136.36H485.45M484.97 136.16V136.36M486.25 147.01H486.31M486.28 146.09V147.01M486.42 160.34H486.48M486.45 146.09V160.34M486.28 146.09H486.45M486.37 143.39V146.09M486.57 184.37H486.64M486.60 181.00V184.37M486.60 181.00H486.71M486.66 150.24V181.00M486.81 151.86H486.86M486.83 150.24V151.86M486.66 150.24H486.83M486.74 143.40V150.24M486.96 184.85H487.02M486.99 184.24V184.85M487.19 185.23H487.24M487.22 184.24V185.23M487.08 184.24H487.22M487.15 184.24V184.24M486.99 184.24H487.15M487.07 143.40V184.24M486.74 143.40H487.07M486.91 143.39V143.40M486.37 143.39H486.91M486.64 136.16V143.39M484.97 136.16H486.64M485.80 136.16V136.16M487.35 145.26H487.39M487.37 142.58V145.26M487.51 164.90H487.57M487.54 142.58V164.90M487.37 142.58H487.54M487.46 136.32V142.58M487.65 144.09H487.72M487.68 144.05V144.09M487.89 179.26H487.97M487.93 167.95V179.26M487.78 167.95H487.93M487.86 160.51V167.95M487.86 160.51H488.04M487.95 144.05V160.51M487.68 144.05H487.95M487.82 137.56V144.05M488.27 141.07H488.33M488.30 138.98V141.07M488.20 138.98H488.30M488.25 138.13V138.98M488.11 138.13H488.25M488.18 137.56V138.13M487.82 137.56H488.18M488.00 136.32V137.56M487.46 136.32H488.00M487.73 136.16V136.32M485.80 136.16H487.73M486.76 123.04V136.16M483.39 123.04H486.76M485.08 108.91V123.04M480.82 108.91H485.08M488.57 170.53H488.67M488.62 170.26V170.53M488.51 170.26H488.62M488.57 153.81V170.26M488.42 153.81H488.57M488.49 137.15V153.81M488.87 166.96H488.94M488.91 166.95V166.96M488.91 166.95H489.06M488.98 160.93V166.95M488.80 160.93H488.98M488.89 144.70V160.93M488.73 144.70H488.89M488.81 144.02V144.70M488.81 144.02H489.10M488.96 137.15V144.02M488.49 137.15H488.96M488.72 125.26V137.15M489.41 163.89H489.52M489.46 163.88V163.89M489.36 163.88H489.46M489.41 151.60V163.88M489.27 151.60H489.41M489.34 148.67V151.60M489.20 148.67H489.34M489.27 144.24V148.67M489.65 146.86H489.72M489.68 145.43V146.86M489.58 145.43H489.68M489.63 144.24V145.43M489.27 144.24H489.63M489.45 125.26V144.24M488.72 125.26H489.45M489.09 125.08V125.26M489.96 177.21H490.03M489.99 175.58V177.21M489.99 175.58H490.13M490.06 145.54V175.58M489.89 145.54H490.06M489.98 145.54V145.54M490.17 146.63H490.28M490.23 145.55V146.63M490.33 145.64H490.41M490.37 145.55V145.64M490.23 145.55H490.37M490.30 145.54V145.55M489.98 145.54H490.30M490.14 141.84V145.54M489.79 141.84H490.14M489.96 141.80V141.84M489.96 141.80H490.50M490.23 133.15V141.80M490.55 158.62H490.67M490.61 136.30V158.62M490.81 187.85H490.90M490.85 185.58V187.85M490.71 185.58H490.85M490.78 185.55V185.58M491.03 186.61H491.11M491.07 186.55V186.61M490.94 186.55H491.07M491.01 185.55V186.55M490.78 185.55H491.01M490.89 136.30V185.55M490.61 136.30H490.89M490.75 133.15V136.30M490.23 133.15H490.75M490.49 125.08V133.15M489.09 125.08H490.49M489.79 117.60V125.08M491.27 154.86H491.35M491.31 153.91V154.86M491.19 153.91H491.31M491.25 152.92V153.91M491.48 187.58H491.59M491.53 184.94V187.58M491.44 184.94H491.53M491.49 152.92V184.94M491.25 152.92H491.49M491.37 152.88V152.92M491.63 180.51H491.75M491.69 180.48V180.51M491.78 180.49H491.90M491.84 180.48V180.49M491.69 180.48H491.84M491.77 176.81V180.48M492.04 177.49H492.12M492.08 177.46V177.49M491.95 177.46H492.08M492.01 177.22V177.46M492.18 184.11H492.25M492.22 179.63V184.11M492.42 187.73H492.48M492.45 187.61V187.73M492.45 187.61H492.59M492.52 183.84V187.61M492.32 183.84H492.52M492.42 179.63V183.84M492.22 179.63H492.42M492.32 177.22V179.63M492.01 177.22H492.32M492.17 176.81V177.22M491.77 176.81H492.17M491.97 152.88V176.81M491.37 152.88H491.97M491.67 152.64V152.88M492.67 187.92H492.74M492.71 187.91V187.92M492.71 187.91H492.82M492.76 187.85V187.91M492.89 187.94H492.98M492.93 187.92V187.94M493.02 187.93H493.10M493.06 187.92V187.93M492.93 187.92H493.06M493.00 187.85V187.92M492.76 187.85H493.00M492.88 187.81V187.85M493.26 187.96H493.34M493.30 187.95V187.96M493.30 187.95H493.43M493.37 187.90V187.95M493.50 188.00H493.58M493.54 187.94V188.00M493.54 187.94H493.66M493.60 187.93V187.94M493.60 187.93H493.72M493.66 187.91V187.93M493.89 187.96H493.94M493.92 187.94V187.96M493.82 187.94H493.92M493.87 187.91V187.94M493.66 187.91H493.87M493.76 187.90V187.91M493.37 187.90H493.76M493.56 187.81V187.90M493.20 187.81H493.56M493.38 187.81V187.81M492.88 187.81H493.38M493.13 152.64V187.81M491.67 152.64H493.13M492.40 117.60V152.64M489.79 117.60H492.40M494.20 152.36H494.26M494.23 152.34V152.36M494.12 152.34H494.23M494.17 148.81V152.34M494.06 148.81H494.17M494.11 139.24V148.81M494.36 157.58H494.44M494.40 145.02V157.58M494.40 145.02H494.49M494.45 139.26V145.02M494.56 155.57H494.66M494.61 139.26V155.57M494.45 139.26H494.61M494.53 139.24V139.26M494.11 139.24H494.53M494.32 138.92V139.24M494.74 169.39H494.83M494.79 169.32V169.39M494.89 171.62H494.96M494.93 169.39V171.62M495.04 180.65H495.10M495.07 169.39V180.65M494.93 169.39H495.07M495.00 169.32V169.39M494.79 169.32H495.00M494.89 138.92V169.32M494.32 138.92H494.89M494.61 138.89V138.92M495.35 165.23H495.44M495.40 154.03V165.23M495.26 154.03H495.40M495.33 153.61V154.03M495.20 153.61H495.33M495.26 153.53V153.61M495.51 153.57H495.60M495.55 153.53V153.57M495.26 153.53H495.55M495.41 138.89V153.53M494.61 138.89H495.41M495.01 119.53V138.89M495.65 181.99H495.73M495.69 181.95V181.99M495.90 187.46H495.98M495.94 186.60V187.46M495.82 186.60H495.94M495.88 181.95V186.60M495.69 181.95H495.88M495.79 181.82V181.95M496.03 183.33H496.13M496.08 181.84V183.33M496.19 181.84H496.29M496.24 181.84V181.84M496.08 181.84H496.24M496.16 181.82V181.84M495.79 181.82H496.16M495.97 178.61V181.82M496.43 187.89H496.52M496.47 187.76V187.89M496.38 187.76H496.47M496.43 187.65V187.76M496.60 187.80H496.68M496.64 187.80V187.80M496.72 187.98H496.83M496.78 187.88V187.98M496.88 187.96H496.99M496.94 187.89V187.96M497.05 187.90H497.14M497.09 187.89V187.90M496.94 187.89H497.09M497.02 187.88V187.89M496.78 187.88H497.02M496.90 187.80V187.88M496.64 187.80H496.90M496.77 187.65V187.80M496.43 187.65H496.77M496.60 187.39V187.65M497.30 187.91H497.35M497.33 187.86V187.91M497.19 187.86H497.33M497.26 187.77V187.86M497.45 187.78H497.52M497.49 187.77V187.78M497.26 187.77H497.49M497.37 187.39V187.77M497.60 187.47H497.68M497.64 187.39V187.47M497.37 187.39H497.64M497.51 187.39V187.39M496.60 187.39H497.51M497.05 178.61V187.39M495.97 178.61H497.05M496.51 119.53V178.61M495.01 119.53H496.51M495.76 118.25V119.53M497.76 136.73H497.84M497.80 136.73V136.73M498.00 137.32H498.06M498.03 136.75V137.32M497.90 136.75H498.03M497.96 136.73V136.75M497.80 136.73H497.96M497.88 119.33V136.73M498.21 161.15H498.30M498.26 160.23V161.15M498.12 160.23H498.26M498.19 158.21V160.23M498.35 170.75H498.44M498.40 158.21V170.75M498.19 158.21H498.40M498.29 119.33V158.21M497.88 119.33H498.29M498.09 119.33V119.33M498.59 133.36H498.68M498.64 122.94V133.36M498.52 122.94H498.64M498.58 122.93V122.94M498.74 149.56H498.84M498.79 122.93V149.56M498.58 122.93H498.79M498.68 121.22V122.93M498.99 187.17H499.05M499.02 166.91V187.17M498.90 166.91H499.02M498.96 162.16V166.91M498.96 162.16H499.14M499.05 125.26V162.16M499.31 147.63H499.36M499.34 146.96V147.63M499.21 146.96H499.34M499.27 125.26V146.96M499.05 125.26H499.27M499.16 121.22V125.26M498.68 121.22H499.16M498.92 119.33V121.22M498.09 119.33H498.92M498.51 118.25V119.33M495.76 118.25H498.51M499.54 187.89H499.59M499.56 187.84V187.89M499.56 187.84H499.67M499.62 187.84V187.84M499.45 187.84H499.62M499.53 187.70V187.84M499.53 187.70H499.79M499.66 187.70V187.70M499.66 187.70H499.83M499.75 186.83V187.70M499.94 187.98H499.97M499.95 187.73V187.98M500.06 187.74H500.13M500.10 187.74V187.74M500.24 187.76H500.29M500.26 187.74V187.76M500.10 187.74H500.26M500.18 187.74V187.74M500.47 187.80H500.54M500.51 187.74V187.80M500.36 187.74H500.51M500.44 187.74V187.74M500.18 187.74H500.44M500.31 187.73V187.74M499.95 187.73H500.31M500.13 186.83V187.73M499.75 186.83H500.13M499.94 186.83V186.83M500.61 187.98H500.70M500.65 187.90V187.98M500.85 187.96H500.94M500.89 187.96V187.96M500.79 187.96H500.89M500.84 187.90V187.96M500.65 187.90H500.84M500.75 186.83V187.90M499.94 186.83H500.75M500.34 186.82V186.83M500.98 187.18H501.08M501.03 187.18V187.18M501.13 187.69H501.24M501.19 187.18V187.69M501.32 187.19H501.39M501.36 187.18V187.19M501.19 187.18H501.36M501.27 187.18V187.18M501.03 187.18H501.27M501.15 187.18V187.18M501.52 187.87H501.63M501.58 187.61V187.87M501.69 187.61H501.79M501.74 187.61V187.61M501.58 187.61H501.74M501.66 187.59V187.61M501.46 187.59H501.66M501.56 187.18V187.59M501.15 187.18H501.56M501.36 186.82V187.18M500.34 186.82H501.36M500.85 111.73V186.82M501.90 186.01H501.99M501.95 185.99V186.01M501.86 185.99H501.95M501.91 185.99V185.99M502.05 187.10H502.16M502.11 186.29V187.10M502.21 186.29H502.30M502.25 186.29V186.29M502.11 186.29H502.25M502.18 186.01V186.29M502.36 186.78H502.46M502.41 186.76V186.78M502.41 186.76H502.52M502.47 186.38V186.76M502.68 186.56H502.75M502.72 186.55V186.56M502.72 186.55H502.85M502.78 186.55V186.55M502.59 186.55H502.78M502.69 186.38V186.55M502.47 186.38H502.69M502.58 186.01V186.38M502.18 186.01H502.58M502.38 185.99V186.01M501.91 185.99H502.38M502.14 185.51V185.99M502.14 185.51H502.91M502.52 184.21V185.51M503.14 187.57H503.22M503.18 187.40V187.57M503.05 187.40H503.18M503.12 186.09V187.40M503.01 186.09H503.12M503.06 184.21V186.09M502.52 184.21H503.06M502.79 184.20V184.21M503.40 187.82H503.44M503.42 187.82V187.82M503.54 187.99H503.62M503.58 187.98V187.99M503.58 187.98H503.69M503.64 187.91V187.98M503.64 187.91H503.76M503.70 187.84V187.91M503.90 187.86H504.00M503.95 187.86V187.86M504.05 187.89H504.17M504.11 187.86V187.89M503.95 187.86H504.11M504.03 187.84V187.86M503.86 187.84H504.03M503.95 187.84V187.84M503.70 187.84H503.95M503.82 187.82V187.84M503.42 187.82H503.82M503.62 185.62V187.82M504.38 187.60H504.45M504.42 187.60V187.60M504.32 187.60H504.42M504.37 187.58V187.60M504.25 187.58H504.37M504.31 185.62V187.58M504.54 186.50H504.61M504.58 185.71V186.50M504.58 185.71H504.69M504.63 185.62V185.71M504.31 185.62H504.63M504.47 185.62V185.62M503.62 185.62H504.47M504.05 185.62V185.62M503.33 185.62H504.05M503.69 185.60V185.62M504.76 187.87H504.86M504.81 187.09V187.87M504.91 187.46H504.99M504.95 187.09V187.46M504.81 187.09H504.95M504.88 185.63V187.09M505.15 187.08H505.23M505.19 186.00V187.08M505.07 186.00H505.19M505.13 185.63V186.00M505.31 185.65H505.38M505.35 185.63V185.65M505.13 185.63H505.35M505.24 185.63V185.63M504.88 185.63H505.24M505.06 185.60V185.63M503.69 185.60H505.06M504.37 184.20V185.60M502.79 184.20H504.37M503.58 111.73V184.20M503.58 111.73H505.48M504.53 111.73V111.73M500.85 111.73H504.53M307.15 179.37V195.37M307.45 183.55V199.55M307.75 184.44V200.44M308.05 184.44V200.44M307.75 184.44H308.05M307.90 184.27V184.44M308.35 184.27V200.27M307.90 184.27H308.35M308.12 183.55V184.27M307.45 183.55H308.12M307.79 182.22V183.55M308.65 182.22V198.22M307.79 182.22H308.65M308.22 179.37V182.22M307.15 179.37H308.22M307.68 176.77V179.37M308.95 179.31V195.31M309.25 180.79V196.79M309.55 180.79V196.79M309.25 180.79H309.55M309.40 179.31V180.79M308.95 179.31H309.40M309.17 176.77V179.31M307.68 176.77H309.17M308.43 174.74V176.77M309.85 181.01V197.01M310.15 182.95V198.95M310.45 182.95V198.95M310.15 182.95H310.45M310.30 181.01V182.95M309.85 181.01H310.30M310.07 177.76V181.01M310.75 179.49V195.49M311.05 179.49V195.49M310.75 179.49H311.05M310.90 177.76V179.49M310.07 177.76H310.90M310.49 174.74V177.76M308.43 174.74H310.49M309.46 173.51V174.74M311.35 173.51V189.51M309.46 173.51H311.35M310.40 170.00V173.51M311.65 182.28V198.28M311.95 183.18V199.18M312.25 183.18V199.18M311.95 183.18H312.25M312.10 182.28V183.18M311.65 182.28H312.10M311.88 181.79V182.28M312.55 182.76V198.76M312.85 183.11V199.11M313.15 183.57V199.57M313.45 183.57V199.57M313.15 183.57H313.45M313.30 183.11V183.57M312.85 183.11H313.30M313.07 182.76V183.11M312.55 182.76H313.07M312.81 181.79V182.76M311.88 181.79H312.81M312.34 180.45V181.79M313.75 180.45V196.45M312.34 180.45H313.75M313.05 180.00V180.45M314.05 180.00V196.00M313.05 180.00H314.05M313.55 178.65V180.00M314.35 181.82V197.82M314.65 181.82V197.82M314.35 181.82H314.65M314.50 179.24V181.82M314.95 181.26V197.26M315.25 181.26V197.26M314.95 181.26H315.25M315.10 179.24V181.26M314.50 179.24H315.10M314.80 178.65V179.24M313.55 178.65H314.80M314.17 175.46V178.65M315.55 178.61V194.61M315.85 178.61V194.61M315.55 178.61H315.85M315.70 175.46V178.61M314.17 175.46H315.70M314.94 170.00V175.46M310.40 170.00H314.94" stroke="rgb(0,0,0)" stroke-width="0.4" fill="none"/>
<path d="M575.17 181.10V187.13M574.74 187.13H575.59M574.74 187.13V202.63M575.59 187.13V201.17M575.50 181.40V185.56M575.17 185.56H575.83M575.17 185.56V201.28M575.83 185.56V198.62M575.83 181.40V183.84M575.44 183.84H576.23M575.44 183.84V199.44M576.23 183.84V193.59M575.50 181.40H575.83M575.67 181.10V181.40M575.17 181.10H575.67M575.42 179.30V181.10M576.17 179.60V185.28M575.80 185.28H576.53M575.80 185.28V197.08M576.53 185.28V197.98M576.50 179.60V186.88M576.29 186.88H576.71M576.29 186.88V202.02M576.71 186.88V197.98M576.17 179.60H576.50M576.33 179.30V179.60M575.42 179.30H576.33M575.88 172.83V179.30M576.83 176.60V187.27M576.49 187.27H577.18M576.49 187.27V202.16M577.18 187.27V198.15M577.17 176.60V182.46M576.70 182.46H577.63M576.70 182.46V194.68M577.63 182.46V194.40M576.83 176.60H577.17M577.00 172.83V176.60M575.88 172.83H577.00M576.44 172.53V172.83M577.50 180.58V187.98M577.28 187.98H577.72M577.28 187.98V201.42M577.72 187.98V200.92M577.83 180.58V184.57M577.54 184.57H578.13M577.54 184.57V200.44M578.13 184.57V194.89M577.50 180.58H577.83M577.67 175.87V180.58M578.17 178.89V183.94M577.70 183.94H578.64M577.70 183.94V199.68M578.64 183.94V196.15M578.50 178.89V182.07M578.01 182.07H578.99M578.01 182.07V195.44M578.99 182.07V197.32M578.17 178.89H578.50M578.33 178.59V178.89M578.83 178.89V182.38M578.56 182.38H579.11M578.56 182.38V195.58M579.11 182.38V194.79M579.17 179.19V186.27M578.71 186.27H579.62M578.71 186.27V200.09M579.62 186.27V196.09M579.50 180.00V184.13M579.26 184.13H579.74M579.26 184.13V194.70M579.74 184.13V198.39M579.83 180.00V187.70M579.59 187.70H580.08M579.59 187.70V201.47M580.08 187.70V203.14M579.50 180.00H579.83M579.67 179.19V180.00M579.17 179.19H579.67M579.42 178.89V179.19M578.83 178.89H579.42M579.12 178.59V178.89M578.33 178.59H579.12M578.73 177.31V178.59M580.17 179.25V184.39M579.84 184.39H580.49M579.84 184.39V197.71M580.49 184.39V199.43M580.50 179.25V186.15M580.14 186.15H580.86M580.14 186.15V197.52M580.86 186.15V200.67M580.17 179.25H580.50M580.33 177.93V179.25M580.83 177.93V187.94M580.43 187.94H581.24M580.43 187.94V203.64M581.24 187.94V197.69M580.33 177.93H580.83M580.58 177.31V177.93M578.73 177.31H580.58M579.66 176.17V177.31M581.17 177.52V187.15M580.85 187.15H581.49M580.85 187.15V197.94M581.49 187.15V200.86M581.50 177.52V183.28M581.28 183.28H581.72M581.28 183.28V193.65M581.72 183.28V194.68M581.17 177.52H581.50M581.33 177.22V177.52M581.83 177.22V186.18M581.35 186.18H582.32M581.35 186.18V198.31M582.32 186.18V201.46M581.33 177.22H581.83M581.58 176.47V177.22M582.17 177.62V186.79M581.74 186.79H582.59M581.74 186.79V201.24M582.59 186.79V200.26M582.50 177.62V184.97M582.08 184.97H582.92M582.08 184.97V194.93M582.92 184.97V200.52M582.17 177.62H582.50M582.33 176.47V177.62M581.58 176.47H582.33M581.96 176.17V176.47M579.66 176.17H581.96M580.81 175.87V176.17M577.67 175.87H580.81M579.24 174.87V175.87M582.83 178.14V184.60M582.38 184.60H583.29M582.38 184.60V195.69M583.29 184.60V200.37M583.17 178.44V187.06M582.75 187.06H583.58M582.75 187.06V203.00M583.58 187.06V201.90M583.50 178.74V184.73M583.28 184.73H583.72M583.28 184.73V198.13M583.72 184.73V196.40M583.83 178.74V184.90M583.55 184.90H584.12M583.55 184.90V198.50M584.12 184.90V199.35M583.50 178.74H583.83M583.67 178.44V178.74M583.17 178.44H583.67M583.42 178.14V178.44M582.83 178.14H583.42M583.12 174.87V178.14M579.24 174.87H583.12M581.18 172.53V174.87M576.44 172.53H581.18M578.81 168.00V172.53M584.17 179.76V184.09M583.78 184.09H584.55M583.78 184.09V198.86M584.55 184.09V199.95M584.50 180.06V183.77M584.16 183.77H584.84M584.16 183.77V196.65M584.84 183.77V198.97M584.83 180.06V187.58M584.63 187.58H585.04M584.63 187.58V201.41M585.04 187.58V197.45M584.50 180.06H584.83M584.67 179.76V180.06M584.17 179.76H584.67M584.42 179.46V179.76M585.17 179.46V186.35M584.79 186.35H585.54M584.79 186.35V198.54M585.54 186.35V198.68M584.42 179.46H585.17M584.79 178.03V179.46M585.50 181.05V185.76M585.12 185.76H585.88M585.12 185.76V196.74M585.88 185.76V198.24M585.83 181.05V184.20M585.45 184.20H586.22M585.45 184.20V198.48M586.22 184.20V197.68M585.50 181.05H585.83M585.67 178.63V181.05M586.17 178.63V183.08M585.89 183.08H586.45M585.89 183.08V195.76M586.45 183.08V195.87M585.67 178.63H586.17M585.92 178.33V178.63M586.50 178.63V187.03M586.24 187.03H586.76M586.24 187.03V202.23M586.76 187.03V201.21M586.83 180.55V185.23M586.60 185.23H587.07M586.60 185.23V200.94M587.07 185.23V199.33M587.17 180.85V186.43M586.68 186.43H587.65M586.68 186.43V198.10M587.65 186.43V197.66M587.50 180.85V182.93M587.25 182.93H587.75M587.25 182.93V196.89M587.75 182.93V193.81M587.17 180.85H587.50M587.33 180.55V180.85M586.83 180.55H587.33M587.08 180.25V180.55M587.83 180.25V184.41M587.55 184.41H588.12M587.55 184.41V196.44M588.12 184.41V200.03M587.08 180.25H587.83M587.46 178.63V180.25M586.50 178.63H587.46M586.98 178.33V178.63M585.92 178.33H586.98M586.45 178.03V178.33M584.79 178.03H586.45M585.62 168.00V178.03M578.81 168.00H585.62M588.17 165.70V187.89M587.82 187.89H588.52M587.82 187.89V197.74M588.52 187.89V201.38M588.50 165.70V183.80M588.23 183.80H588.77M588.23 183.80V193.45M588.77 183.80V196.88M588.17 165.70H588.50M588.33 161.87V165.70M588.83 174.52V185.78M588.63 185.78H589.03M588.63 185.78V196.44M589.03 185.78V199.03M589.17 174.52V182.53M588.84 182.53H589.50M588.84 182.53V197.51M589.50 182.53V194.10M588.83 174.52H589.17M589.00 161.87V174.52M588.33 161.87H589.00M588.67 161.57V161.87M589.50 169.92V187.56M589.17 187.56H589.83M589.17 187.56V202.49M589.83 187.56V203.49M589.83 169.92V184.05M589.59 184.05H590.08M589.59 184.05V196.83M590.08 184.05V197.02M589.50 169.92H589.83M589.67 166.48V169.92M590.17 169.09V187.08M589.92 187.08H590.41M589.92 187.08V198.53M590.41 187.08V200.78M590.50 169.09V187.94M590.06 187.94H590.94M590.06 187.94V201.82M590.94 187.94V198.74M590.17 169.09H590.50M590.33 166.48V169.09M589.67 166.48H590.33M590.00 165.17V166.48M590.83 172.29V187.81M590.56 187.81H591.10M590.56 187.81V199.70M591.10 187.81V199.01M591.17 172.29V186.81M590.91 186.81H591.42M590.91 186.81V202.51M591.42 186.81V199.12M590.83 172.29H591.17M591.00 171.65V172.29M591.50 171.65V186.05M591.23 186.05H591.77M591.23 186.05V198.87M591.77 186.05V200.31M591.00 171.65H591.50M591.25 171.35V171.65M591.83 175.43V187.03M591.38 187.03H592.29M591.38 187.03V201.79M592.29 187.03V202.43M592.17 175.43V183.92M591.90 183.92H592.43M591.90 183.92V198.50M592.43 183.92V199.30M591.83 175.43H592.17M592.00 171.65V175.43M592.50 172.25V183.24M592.30 183.24H592.70M592.30 183.24V195.09M592.70 183.24V196.76M592.83 172.25V184.36M592.41 184.36H593.26M592.41 184.36V198.10M593.26 184.36V194.99M592.50 172.25H592.83M592.67 171.95V172.25M593.17 171.95V182.42M592.81 182.42H593.53M592.81 182.42V197.66M593.53 182.42V193.34M592.67 171.95H593.17M592.92 171.65V171.95M592.00 171.65H592.92M592.46 171.35V171.65M591.25 171.35H592.46M591.85 165.17V171.35M590.00 165.17H591.85M590.93 161.57V165.17M588.67 161.57H590.93M589.80 161.27V161.57M593.50 173.83V185.89M593.10 185.89H593.90M593.10 185.89V201.03M593.90 185.89V199.16M593.83 174.13V183.47M593.34 183.47H594.33M593.34 183.47V197.81M594.33 183.47V197.82M594.17 174.13V186.72M593.81 186.72H594.53M593.81 186.72V198.69M594.53 186.72V202.67M593.83 174.13H594.17M594.00 173.83V174.13M593.50 173.83H594.00M593.75 162.14V173.83M594.50 170.59V183.49M594.10 183.49H594.90M594.10 183.49V194.71M594.90 183.49V195.84M594.83 171.03V187.76M594.38 187.76H595.29M594.38 187.76V198.67M595.29 187.76V202.41M595.17 171.03V185.98M594.83 185.98H595.50M594.83 185.98V197.52M595.50 185.98V196.48M594.83 171.03H595.17M595.00 170.59V171.03M594.50 170.59H595.00M594.75 170.29V170.59M595.50 170.29V186.69M595.25 186.69H595.75M595.25 186.69V197.20M595.75 186.69V196.50M594.75 170.29H595.50M595.12 162.14V170.29M593.75 162.14H595.12M594.44 161.57V162.14M595.83 162.88V183.01M595.50 183.01H596.17M595.50 183.01V195.72M596.17 183.01V198.17M596.17 175.35V186.00M595.86 186.00H596.47M595.86 186.00V199.20M596.47 186.00V198.46M596.50 175.35V183.69M596.28 183.69H596.72M596.28 183.69V194.93M596.72 183.69V193.96M596.17 175.35H596.50M596.33 166.77V175.35M596.83 167.61V187.25M596.37 187.25H597.30M596.37 187.25V200.66M597.30 187.25V198.98M597.17 167.61V182.91M596.74 182.91H597.59M596.74 182.91V194.10M597.59 182.91V193.34M596.83 167.61H597.17M597.00 166.77V167.61M596.33 166.77H597.00M596.67 162.88V166.77M595.83 162.88H596.67M596.25 161.57V162.88M594.44 161.57H596.25M595.34 161.27V161.57M589.80 161.27H595.34M592.57 150.00V161.27M597.50 168.08V187.20M597.07 187.20H597.93M597.07 187.20V199.97M597.93 187.20V197.00M597.83 168.08V182.60M597.36 182.60H598.31M597.36 182.60V195.54M598.31 182.60V192.26M597.50 168.08H597.83M597.67 161.44V168.08M598.17 165.80V183.46M597.79 183.46H598.55M597.79 183.46V196.33M598.55 183.46V199.44M598.50 172.82V184.77M598.14 184.77H598.86M598.14 184.77V197.14M598.86 184.77V194.51M598.83 172.82V182.29M598.59 182.29H599.08M598.59 182.29V194.47M599.08 182.29V194.73M598.50 172.82H598.83M598.67 165.80V172.82M598.17 165.80H598.67M598.42 161.74V165.80M599.17 166.43V185.37M598.90 185.37H599.44M598.90 185.37V200.42M599.44 185.37V200.71M599.50 166.73V183.51M599.20 183.51H599.80M599.20 183.51V194.09M599.80 183.51V193.19M599.83 166.73V186.37M599.43 186.37H600.24M599.43 186.37V197.89M600.24 186.37V202.15M599.50 166.73H599.83M599.67 166.43V166.73M599.17 166.43H599.67M599.42 161.74V166.43M598.42 161.74H599.42M598.92 161.44V161.74M597.67 161.44H598.92M598.29 150.00V161.44M592.57 150.00H598.29M600.17 177.95V187.26M599.76 187.26H600.58M599.76 187.26V198.19M600.58 187.26V196.97M600.50 178.25V186.53M600.17 186.53H600.83M600.17 186.53V201.18M600.83 186.53V202.07M600.83 178.25V183.81M600.39 183.81H601.28M600.39 183.81V195.97M601.28 183.81V199.55M600.50 178.25H600.83M600.67 177.95V178.25M600.17 177.95H600.67M600.42 177.65V177.95M601.17 177.65V183.16M600.76 183.16H601.57M600.76 183.16V198.42M601.57 183.16V195.43M600.42 177.65H601.17M600.79 177.35V177.65M601.50 177.95V182.44M601.28 182.44H601.72M601.28 182.44V198.22M601.72 182.44V197.01M601.83 177.95V183.68M601.47 183.68H602.19M601.47 183.68V194.33M602.19 183.68V195.46M601.50 177.95H601.83M601.67 177.65V177.95M602.17 177.65V184.02M601.77 184.02H602.56M601.77 184.02V196.11M602.56 184.02V198.74M601.67 177.65H602.17M601.92 177.35V177.65M600.79 177.35H601.92M601.35 165.00V177.35M602.50 176.66V183.67M602.21 183.67H602.79M602.21 183.67V195.77M602.79 183.67V195.00M602.83 176.96V183.53M602.39 183.53H603.28M602.39 183.53V196.41M603.28 183.53V193.81M603.17 176.96V182.17M602.90 182.17H603.43M602.90 182.17V197.42M603.43 182.17V196.41M602.83 176.96H603.17M603.00 176.66V176.96M602.50 176.66H603.00M602.75 176.36V176.66M603.50 177.27V186.71M603.04 186.71H603.96M603.04 186.71V198.47M603.96 186.71V200.58M603.83 177.27V186.62M603.44 186.62H604.23M603.44 186.62V199.10M604.23 186.62V200.93M603.50 177.27H603.83M603.67 176.97V177.27M604.17 177.57V185.79M603.92 185.79H604.41M603.92 185.79V197.74M604.41 185.79V201.16M604.50 178.47V185.72M604.01 185.72H604.99M604.01 185.72V196.39M604.99 185.72V197.85M604.83 178.47V184.24M604.55 184.24H605.12M604.55 184.24V195.55M605.12 184.24V198.93M604.50 178.47H604.83M604.67 178.17V178.47M605.17 178.17V184.32M604.74 184.32H605.59M604.74 184.32V198.98M605.59 184.32V199.51M604.67 178.17H605.17M604.92 177.87V178.17M605.50 177.87V182.64M605.05 182.64H605.95M605.05 182.64V198.50M605.95 182.64V195.43M604.92 177.87H605.50M605.21 177.57V177.87M604.17 177.57H605.21M604.69 177.27V177.57M605.83 177.87V183.38M605.48 183.38H606.19M605.48 183.38V193.29M606.19 183.38V197.54M606.17 177.87V183.47M605.92 183.47H606.42M605.92 183.47V193.78M606.42 183.47V196.10M605.83 177.87H606.17M606.00 177.57V177.87M606.50 179.77V184.94M606.21 184.94H606.79M606.21 184.94V197.39M606.79 184.94V199.09M606.83 179.77V185.52M606.52 185.52H607.15M606.52 185.52V199.78M607.15 185.52V195.86M606.50 179.77H606.83M606.67 177.57V179.77M606.00 177.57H606.67M606.33 177.27V177.57M604.69 177.27H606.33M605.51 176.97V177.27M603.67 176.97H605.51M604.59 176.67V176.97M607.17 179.30V186.77M606.92 186.77H607.41M606.92 186.77V196.96M607.41 186.77V201.46M607.50 179.30V187.03M607.01 187.03H607.99M607.01 187.03V196.91M607.99 187.03V201.68M607.17 179.30H607.50M607.33 177.57V179.30M607.83 177.57V183.84M607.48 183.84H608.18M607.48 183.84V193.71M608.18 183.84V193.63M607.33 177.57H607.83M607.58 177.27V177.57M608.17 177.57V187.23M607.87 187.23H608.46M607.87 187.23V201.42M608.46 187.23V200.72M608.50 178.82V185.53M608.20 185.53H608.80M608.20 185.53V199.78M608.80 185.53V197.58M608.83 178.82V183.23M608.54 183.23H609.12M608.54 183.23V198.77M609.12 183.23V193.09M608.50 178.82H608.83M608.67 177.57V178.82M608.17 177.57H608.67M608.42 177.27V177.57M607.58 177.27H608.42M608.00 176.97V177.27M609.17 177.72V184.29M608.70 184.29H609.64M608.70 184.29V196.86M609.64 184.29V198.45M609.50 177.72V182.40M609.24 182.40H609.76M609.24 182.40V196.60M609.76 182.40V194.80M609.17 177.72H609.50M609.33 177.42V177.72M609.83 177.42V187.70M609.52 187.70H610.15M609.52 187.70V200.42M610.15 187.70V203.07M609.33 177.42H609.83M609.58 176.97V177.42M608.00 176.97H609.58M608.79 176.67V176.97M604.59 176.67H608.79M606.69 176.36V176.67M602.75 176.36H606.69M604.72 165.00V176.36M601.35 165.00H604.72M610.17 175.44V182.77M609.67 182.77H610.66M609.67 182.77V198.51M610.66 182.77V192.95M610.50 176.04V186.88M610.21 186.88H610.79M610.21 186.88V201.37M610.79 186.88V197.92M610.83 176.04V187.59M610.36 187.59H611.31M610.36 187.59V198.21M611.31 187.59V199.82M610.50 176.04H610.83M610.67 175.74V176.04M611.17 176.78V185.65M610.74 185.65H611.59M610.74 185.65V197.60M611.59 185.65V198.51M611.50 176.78V182.53M611.11 182.53H611.89M611.11 182.53V197.82M611.89 182.53V195.08M611.17 176.78H611.50M611.33 175.74V176.78M610.67 175.74H611.33M611.00 175.44V175.74M610.17 175.44H611.00M610.58 175.14V175.44M611.83 176.04V184.79M611.41 184.79H612.26M611.41 184.79V198.44M612.26 184.79V200.33M612.17 176.04V186.42M611.77 186.42H612.57M611.77 186.42V202.27M612.57 186.42V199.40M611.83 176.04H612.17M612.00 175.74V176.04M612.50 177.19V184.79M612.23 184.79H612.77M612.23 184.79V196.03M612.77 184.79V199.93M612.83 177.19V184.14M612.44 184.14H613.22M612.44 184.14V194.48M613.22 184.14V195.62M612.50 177.19H612.83M612.67 176.04V177.19M613.17 176.34V183.82M612.81 183.82H613.52M612.81 183.82V196.97M613.52 183.82V199.63M613.50 176.64V183.81M613.00 183.81H614.00M613.00 183.81V198.83M614.00 183.81V195.95M613.83 176.64V184.29M613.58 184.29H614.09M613.58 184.29V195.12M614.09 184.29V198.45M613.50 176.64H613.83M613.67 176.34V176.64M613.17 176.34H613.67M613.42 176.04V176.34M612.67 176.04H613.42M613.04 175.74V176.04M612.00 175.74H613.04M612.52 175.44V175.74M614.17 178.26V186.42M613.92 186.42H614.41M613.92 186.42V201.75M614.41 186.42V201.55M614.50 178.26V187.38M614.10 187.38H614.90M614.10 187.38V202.78M614.90 187.38V198.08M614.17 178.26H614.50M614.33 177.96V178.26M614.83 178.26V187.80M614.62 187.80H615.05M614.62 187.80V201.71M615.05 187.80V202.69M615.17 178.26V184.59M614.91 184.59H615.42M614.91 184.59V200.34M615.42 184.59V196.60M614.83 178.26H615.17M615.00 177.96V178.26M614.33 177.96H615.00M614.67 176.34V177.96M615.50 178.21V184.24M615.25 184.24H615.75M615.25 184.24V198.98M615.75 184.24V196.30M615.83 178.21V187.29M615.43 187.29H616.23M615.43 187.29V201.02M616.23 187.29V202.20M615.50 178.21H615.83M615.67 176.64V178.21M616.17 176.64V187.40M615.67 187.40H616.66M615.67 187.40V197.26M616.66 187.40V203.19M615.67 176.64H616.17M615.92 176.34V176.64M614.67 176.34H615.92M615.29 176.04V176.34M616.50 176.64V183.13M616.03 183.13H616.97M616.03 183.13V193.07M616.97 183.13V197.63M616.83 176.64V182.52M616.46 182.52H617.21M616.46 182.52V193.06M617.21 182.52V195.42M616.50 176.64H616.83M616.67 176.34V176.64M617.17 178.70V185.53M616.83 185.53H617.50M616.83 185.53V198.19M617.50 185.53V196.94M617.50 178.70V184.29M617.28 184.29H617.72M617.28 184.29V195.45M617.72 184.29V199.71M617.17 178.70H617.50M617.33 176.34V178.70M616.67 176.34H617.33M617.00 176.04V176.34M615.29 176.04H617.00M616.15 175.74V176.04M617.83 176.04V186.55M617.55 186.55H618.11M617.55 186.55V199.83M618.11 186.55V199.73M618.17 176.04V186.60M617.68 186.60H618.65M617.68 186.60V200.92M618.65 186.60V198.99M617.83 176.04H618.17M618.00 175.74V176.04M616.15 175.74H618.00M617.07 175.44V175.74M612.52 175.44H617.07M614.80 175.14V175.44M610.58 175.14H614.80M612.69 167.72V175.14M618.50 167.72V182.64M618.03 182.64H618.97M618.03 182.64V197.86M618.97 182.64V197.41M612.69 167.72H618.50M615.60 162.43V167.72M618.83 173.82V184.22M618.34 184.22H619.33M618.34 184.22V194.26M619.33 184.22V194.57M619.17 174.41V182.94M618.84 182.94H619.49M618.84 182.94V195.03M619.49 182.94V195.90M619.50 178.81V183.50M619.28 183.50H619.72M619.28 183.50V195.48M619.72 183.50V195.69M619.83 178.81V184.71M619.35 184.71H620.32M619.35 184.71V196.87M620.32 184.71V194.99M619.50 178.81H619.83M619.67 174.41V178.81M619.17 174.41H619.67M619.42 173.82V174.41M618.83 173.82H619.42M619.12 173.52V173.82M620.17 174.18V182.38M619.91 182.38H620.42M619.91 182.38V197.07M620.42 182.38V193.44M620.50 174.18V183.09M620.29 183.09H620.71M620.29 183.09V196.84M620.71 183.09V193.99M620.17 174.18H620.50M620.33 173.82V174.18M620.83 175.23V187.44M620.46 187.44H621.21M620.46 187.44V198.77M621.21 187.44V203.37M621.17 175.23V182.47M620.76 182.47H621.57M620.76 182.47V197.40M621.57 182.47V193.63M620.83 175.23H621.17M621.00 174.93V175.23M621.50 178.93V186.37M621.29 186.37H621.71M621.29 186.37V201.69M621.71 186.37V196.18M621.83 178.93V185.09M621.35 185.09H622.32M621.35 185.09V197.17M622.32 185.09V200.74M621.50 178.93H621.83M621.67 175.23V178.93M622.17 175.23V185.22M621.74 185.22H622.59M621.74 185.22V195.33M622.59 185.22V200.27M621.67 175.23H622.17M621.92 174.93V175.23M621.00 174.93H621.92M621.46 173.82V174.93M620.33 173.82H621.46M620.90 173.52V173.82M619.12 173.52H620.90M620.01 162.43V173.52M615.60 162.43H620.01M617.80 160.00V162.43M622.50 174.73V187.21M622.12 187.21H622.88M622.12 187.21V197.89M622.88 187.21V197.04M622.83 175.92V186.45M622.43 186.45H623.24M622.43 186.45V201.05M623.24 186.45V201.13M623.17 175.92V185.92M622.82 185.92H623.51M622.82 185.92V200.54M623.51 185.92V197.12M622.83 175.92H623.17M623.00 175.62V175.92M623.50 177.38V187.06M623.16 187.06H623.84M623.16 187.06V200.80M623.84 187.06V200.76M623.83 177.38V182.31M623.58 182.31H624.08M623.58 182.31V195.31M624.08 182.31V194.98M623.50 177.38H623.83M623.67 175.92V177.38M624.17 175.92V186.45M623.69 186.45H624.64M623.69 186.45V196.97M624.64 186.45V197.71M623.67 175.92H624.17M623.92 175.62V175.92M623.00 175.62H623.92M623.46 174.73V175.62M622.50 174.73H623.46M622.98 166.64V174.73M624.50 177.43V185.91M624.17 185.91H624.83M624.17 185.91V201.63M624.83 185.91V197.42M624.83 177.43V185.69M624.57 185.69H625.10M624.57 185.69V200.53M625.10 185.69V196.46M624.50 177.43H624.83M624.67 177.13V177.43M625.17 177.13V182.91M624.86 182.91H625.47M624.86 182.91V196.03M625.47 182.91V198.12M624.67 177.13H625.17M624.92 176.83V177.13M625.50 177.13V184.53M625.18 184.53H625.82M625.18 184.53V198.27M625.82 184.53V196.15M625.83 178.14V184.55M625.39 184.55H626.27M625.39 184.55V195.16M626.27 184.55V198.46M626.17 178.14V185.28M625.81 185.28H626.52M625.81 185.28V200.20M626.52 185.28V198.20M625.83 178.14H626.17M626.00 177.13V178.14M625.50 177.13H626.00M625.75 176.83V177.13M624.92 176.83H625.75M625.33 176.53V176.83M626.50 176.83V182.76M626.14 182.76H626.86M626.14 182.76V192.63M626.86 182.76V195.44M626.83 177.13V186.41M626.35 186.41H627.31M626.35 186.41V197.83M627.31 186.41V196.12M627.17 177.43V187.60M626.87 187.60H627.47M626.87 187.60V201.86M627.47 187.60V199.40M627.50 177.96V183.83M627.15 183.83H627.85M627.15 183.83V198.63M627.85 183.83V196.71M627.83 177.96V182.15M627.39 182.15H628.28M627.39 182.15V196.37M628.28 182.15V194.89M627.50 177.96H627.83M627.67 177.43V177.96M627.17 177.43H627.67M627.42 177.13V177.43M626.83 177.13H627.42M627.12 176.83V177.13M626.50 176.83H627.12M626.81 176.53V176.83M625.33 176.53H626.81M626.07 166.64V176.53M622.98 166.64H626.07M624.53 160.00V166.64M617.80 160.00H624.53M628.17 182.40V184.88M627.73 184.88H628.60M627.73 184.88V196.87M628.60 184.88V198.81M628.50 182.40V183.40M628.12 183.40H628.88M628.12 183.40V193.13M628.88 183.40V197.20M628.17 182.40H628.50M628.33 181.05V182.40M628.83 182.81V183.81M628.38 183.81H629.28M628.38 183.81V197.80M629.28 183.81V198.05M629.17 182.81V187.81M628.90 187.81H629.44M628.90 187.81V201.73M629.44 187.81V200.17M628.83 182.81H629.17M629.00 181.05V182.81M628.33 181.05H629.00M628.67 180.75V181.05M629.50 181.05V186.78M629.17 186.78H629.83M629.17 186.78V200.02M629.83 186.78V201.39M629.83 181.35V187.20M629.43 187.20H630.24M629.43 187.20V202.57M630.24 187.20V198.07M630.17 181.95V183.31M629.87 183.31H630.46M629.87 183.31V196.91M630.46 183.31V196.93M630.50 181.95V182.95M630.06 182.95H630.94M630.06 182.95V193.16M630.94 182.95V193.68M630.17 181.95H630.50M630.33 181.65V181.95M630.83 181.65V185.86M630.51 185.86H631.15M630.51 185.86V200.04M631.15 185.86V197.12M630.33 181.65H630.83M630.58 181.35V181.65M629.83 181.35H630.58M630.21 181.05V181.35M629.50 181.05H630.21M629.85 180.75V181.05M628.67 180.75H629.85M629.26 180.45V180.75M631.17 181.05V182.12M630.93 182.12H631.41M630.93 182.12V197.47M631.41 182.12V195.80M631.50 181.35V185.70M631.11 185.70H631.89M631.11 185.70V201.12M631.89 185.70V199.14M631.83 181.35V187.78M631.57 187.78H632.10M631.57 187.78V199.07M632.10 187.78V200.10M631.50 181.35H631.83M631.67 181.05V181.35M631.17 181.05H631.67M631.42 180.75V181.05M632.17 181.96V182.96M631.86 182.96H632.47M631.86 182.96V198.74M632.47 182.96V192.67M632.50 182.26V186.13M632.26 186.13H632.74M632.26 186.13V198.24M632.74 186.13V196.65M632.83 182.26V187.64M632.59 187.64H633.08M632.59 187.64V198.42M633.08 187.64V200.17M632.50 182.26H632.83M632.67 181.96V182.26M632.17 181.96H632.67M632.42 180.75V181.96M631.42 180.75H632.42M631.92 180.45V180.75M629.26 180.45H631.92M630.59 172.00V180.45M633.17 182.29V187.52M632.73 187.52H633.60M632.73 187.52V201.25M633.60 187.52V202.86M633.50 182.59V184.41M633.16 184.41H633.84M633.16 184.41V196.09M633.84 184.41V197.11M633.83 182.59V187.62M633.54 187.62H634.13M633.54 187.62V200.01M634.13 187.62V202.13M633.50 182.59H633.83M633.67 182.29V182.59M633.17 182.29H633.67M633.42 179.69V182.29M634.17 180.79V184.08M633.70 184.08H634.63M633.70 184.08V198.76M634.63 184.08V200.00M634.50 180.79V186.60M634.01 186.60H634.99M634.01 186.60V199.05M634.99 186.60V198.55M634.17 180.79H634.50M634.33 180.29V180.79M634.83 180.89V186.39M634.58 186.39H635.09M634.58 186.39V200.10M635.09 186.39V196.62M635.17 180.89V186.61M634.77 186.61H635.56M634.77 186.61V200.17M635.56 186.61V202.25M634.83 180.89H635.17M635.00 180.59V180.89M635.50 180.89V186.02M635.15 186.02H635.85M635.15 186.02V198.87M635.85 186.02V201.98M635.83 180.89V182.97M635.54 182.97H636.12M635.54 182.97V198.65M636.12 182.97V197.67M635.50 180.89H635.83M635.67 180.59V180.89M635.00 180.59H635.67M635.33 180.29V180.59M634.33 180.29H635.33M634.83 179.99V180.29M636.17 179.99V187.98M635.75 187.98H636.58M635.75 187.98V201.59M636.58 187.98V203.07M634.83 179.99H636.17M635.50 179.69V179.99M633.42 179.69H635.50M634.46 175.90V179.69M636.50 181.41V182.52M636.26 182.52H636.74M636.26 182.52V193.70M636.74 182.52V193.08M636.83 181.71V185.67M636.48 185.67H637.19M636.48 185.67V201.07M637.19 185.67V200.07M637.17 181.71V187.27M636.89 187.27H637.44M636.89 187.27V200.51M637.44 187.27V197.40M636.83 181.71H637.17M637.00 181.41V181.71M636.50 181.41H637.00M636.75 179.13V181.41M637.50 182.26V186.63M637.15 186.63H637.85M637.15 186.63V202.37M637.85 186.63V200.01M637.83 182.26V183.39M637.58 183.39H638.09M637.58 183.39V195.36M638.09 183.39V196.71M637.50 182.26H637.83M637.67 179.13V182.26M636.75 179.13H637.67M637.21 178.83V179.13M638.17 180.37V187.95M637.73 187.95H638.60M637.73 187.95V198.73M638.60 187.95V202.03M638.50 181.31V182.44M638.09 182.44H638.91M638.09 182.44V197.19M638.91 182.44V195.49M638.83 181.31V186.09M638.52 186.09H639.15M638.52 186.09V199.04M639.15 186.09V198.08M638.50 181.31H638.83M638.67 180.37V181.31M638.17 180.37H638.67M638.42 178.83V180.37M637.21 178.83H638.42M637.81 178.25V178.83M639.17 180.67V187.34M638.87 187.34H639.46M638.87 187.34V197.17M639.46 187.34V200.24M639.50 180.67V185.20M639.21 185.20H639.79M639.21 185.20V196.21M639.79 185.20V195.22M639.17 180.67H639.50M639.33 179.17V180.67M639.83 179.17V187.83M639.60 187.83H640.07M639.60 187.83V203.72M640.07 187.83V197.65M639.33 179.17H639.83M639.58 178.25V179.17M637.81 178.25H639.58M638.70 175.90V178.25M634.46 175.90H638.70M636.58 172.00V175.90M630.59 172.00H636.58M640.17 180.47V184.80M639.79 184.80H640.54M639.79 184.80V194.98M640.54 184.80V196.00M640.50 180.47V185.88M640.23 185.88H640.77M640.23 185.88V196.03M640.77 185.88V200.04M640.17 180.47H640.50M640.33 180.17V180.47M640.83 181.96V183.21M640.40 183.21H641.27M640.40 183.21V193.81M641.27 183.21V193.26M641.17 181.96V185.39M640.67 185.39H641.66M640.67 185.39V195.06M641.66 185.39V195.96M640.83 181.96H641.17M641.00 181.66V181.96M641.50 182.26V184.40M641.29 184.40H641.71M641.29 184.40V196.86M641.71 184.40V195.75M641.83 182.26V186.98M641.35 186.98H642.32M641.35 186.98V198.02M642.32 186.98V201.37M641.50 182.26H641.83M641.67 181.96V182.26M642.17 181.96V182.96M641.75 182.96H642.59M641.75 182.96V197.99M642.59 182.96V194.50M641.67 181.96H642.17M641.92 181.66V181.96M641.00 181.66H641.92M641.46 180.17V181.66M640.33 180.17H641.46M640.90 179.79V180.17M642.50 180.53V186.31M642.03 186.31H642.97M642.03 186.31V199.79M642.97 186.31V198.84M642.83 180.53V186.70M642.38 186.70H643.29M642.38 186.70V201.79M643.29 186.70V202.45M642.50 180.53H642.83M642.67 180.09V180.53M643.17 181.52V185.94M642.72 185.94H643.61M642.72 185.94V199.08M643.61 185.94V201.09M643.50 181.52V182.65M643.07 182.65H643.93M643.07 182.65V193.55M643.93 182.65V194.39M643.17 181.52H643.50M643.33 181.14V181.52M643.83 183.78V185.57M643.48 185.57H644.19M643.48 185.57V198.66M644.19 185.57V195.74M644.17 183.78V184.78M643.85 184.78H644.48M643.85 184.78V200.09M644.48 184.78V198.45M643.83 183.78H644.17M644.00 181.14V183.78M643.33 181.14H644.00M643.67 180.09V181.14M642.67 180.09H643.67M643.17 179.79V180.09M640.90 179.79H643.17M642.03 179.49V179.79M644.50 184.08V185.08M644.16 185.08H644.84M644.16 185.08V198.56M644.84 185.08V199.96M644.83 184.08V185.08M644.51 185.08H645.16M644.51 185.08V197.63M645.16 185.08V199.73M644.50 184.08H644.83M644.67 183.78V184.08M645.17 183.78V186.46M644.88 186.46H645.46M644.88 186.46V201.64M645.46 186.46V201.71M644.67 183.78H645.17M644.92 181.55V183.78M645.50 181.55V183.03M645.20 183.03H645.80M645.20 183.03V194.83M645.80 183.03V193.30M644.92 181.55H645.50M645.21 179.49V181.55M642.03 179.49H645.21M643.62 176.00V179.49M645.83 184.07V185.07M645.55 185.07H646.12M645.55 185.07V195.82M646.12 185.07V197.07M646.17 184.07V185.07M645.83 185.07H646.51M645.83 185.07V195.05M646.51 185.07V198.85M645.83 184.07H646.17M646.00 183.77V184.07M646.50 183.77V184.77M646.26 184.77H646.74M646.26 184.77V200.68M646.74 184.77V196.19M646.00 183.77H646.50M646.25 183.47V183.77M646.83 183.77V187.38M646.49 187.38H647.18M646.49 187.38V202.24M647.18 187.38V198.27M647.17 183.77V185.66M646.73 185.66H647.60M646.73 185.66V198.87M647.60 185.66V196.50M646.83 183.77H647.17M647.00 183.47V183.77M646.25 183.47H647.00M646.62 183.17V183.47M647.50 183.17V184.78M647.00 184.78H648.00M647.00 184.78V199.62M648.00 184.78V200.54M646.62 183.17H647.50M647.06 178.01V183.17M647.83 183.63V185.33M647.42 185.33H648.25M647.42 185.33V197.93M648.25 185.33V196.12M648.17 184.23V185.23M647.68 185.23H648.65M647.68 185.23V198.85M648.65 185.23V197.48M648.50 184.23V185.23M648.01 185.23H648.99M648.01 185.23V200.09M648.99 185.23V196.25M648.17 184.23H648.50M648.33 183.93V184.23M648.83 183.93V187.46M648.45 187.46H649.22M648.45 187.46V197.92M649.22 187.46V197.45M648.33 183.93H648.83M648.58 183.63V183.93M647.83 183.63H648.58M648.21 183.33V183.63M649.17 183.63V184.63M648.68 184.63H649.65M648.68 184.63V200.26M649.65 184.63V194.75M649.50 183.93V186.97M649.25 186.97H649.75M649.25 186.97V201.13M649.75 186.97V197.19M649.83 183.93V187.38M649.59 187.38H650.08M649.59 187.38V200.68M650.08 187.38V199.35M649.50 183.93H649.83M649.67 183.63V183.93M649.17 183.63H649.67M649.42 183.33V183.63M648.21 183.33H649.42M648.81 183.03V183.33M650.17 183.33V185.75M649.79 185.75H650.55M649.79 185.75V199.68M650.55 185.75V196.13M650.50 183.33V184.33M650.17 184.33H650.83M650.17 184.33V197.22M650.83 184.33V199.38M650.17 183.33H650.50M650.33 183.03V183.33M648.81 183.03H650.33M649.57 182.73V183.03M650.83 183.59V184.59M650.41 184.59H651.26M650.41 184.59V200.09M651.26 184.59V199.51M651.17 184.19V186.95M650.76 186.95H651.57M650.76 186.95V201.63M651.57 186.95V199.41M651.50 184.19V185.71M651.26 185.71H651.74M651.26 185.71V197.91M651.74 185.71V200.69M651.17 184.19H651.50M651.33 183.89V184.19M651.83 183.89V185.87M651.35 185.87H652.32M651.35 185.87V197.76M652.32 185.87V198.52M651.33 183.89H651.83M651.58 183.59V183.89M650.83 183.59H651.58M651.21 182.73V183.59M649.57 182.73H651.21M650.39 178.01V182.73M647.06 178.01H650.39M648.73 176.00V178.01M643.62 176.00H648.73M652.17 185.39V186.39M651.83 186.39H652.50M651.83 186.39V196.97M652.50 186.39V197.33M652.50 185.99V186.99M652.27 186.99H652.73M652.27 186.99V198.73M652.73 186.99V202.70M652.83 185.99V186.99M652.46 186.99H653.21M652.46 186.99V197.88M653.21 186.99V201.28M652.50 185.99H652.83M652.67 185.69V185.99M653.17 185.69V186.69M652.70 186.69H653.63M652.70 186.69V200.09M653.63 186.69V197.00M652.67 185.69H653.17M652.92 185.39V185.69M652.17 185.39H652.92M652.54 185.09V185.39M653.50 185.69V186.69M653.18 186.69H653.82M653.18 186.69V196.75M653.82 186.69V202.03M653.83 185.69V187.82M653.46 187.82H654.20M653.46 187.82V200.96M654.20 187.82V199.02M653.50 185.69H653.83M653.67 185.39V185.69M654.17 185.69V187.27M653.71 187.27H654.63M653.71 187.27V201.55M654.63 187.27V198.13M654.50 185.69V186.69M654.04 186.69H654.96M654.04 186.69V199.98M654.96 186.69V202.36M654.17 185.69H654.50M654.33 185.39V185.69M653.67 185.39H654.33M654.00 185.09V185.39M652.54 185.09H654.00M653.27 184.79V185.09M654.83 185.39V187.64M654.58 187.64H655.08M654.58 187.64V197.55M655.08 187.64V203.16M655.17 185.69V186.69M654.80 186.69H655.54M654.80 186.69V196.45M655.54 186.69V197.32M655.50 185.69V186.69M655.28 186.69H655.72M655.28 186.69V198.33M655.72 186.69V199.61M655.17 185.69H655.50M655.33 185.39V185.69M654.83 185.39H655.33M655.08 185.09V185.39M655.83 185.49V186.49M655.41 186.49H656.26M655.41 186.49V199.43M656.26 186.49V200.91M656.17 185.49V186.49M655.70 186.49H656.64M655.70 186.49V198.64M656.64 186.49V199.84M655.83 185.49H656.17M656.00 185.09V185.49M655.08 185.09H656.00M655.54 184.79V185.09M653.27 184.79H655.54M654.41 184.49V184.79M656.50 184.49V185.99M656.27 185.99H656.73M656.27 185.99V195.66M656.73 185.99V197.15M654.41 184.49H656.50M655.45 184.19V184.49M656.83 185.18V186.18M656.46 186.18H657.21M656.46 186.18V201.72M657.21 186.18V197.78M657.17 185.65V186.65M656.81 186.65H657.52M656.81 186.65V201.75M657.52 186.65V197.21M657.50 185.65V186.65M657.05 186.65H657.95M657.05 186.65V198.24M657.95 186.65V196.87M657.17 185.65H657.50M657.33 185.18V185.65M656.83 185.18H657.33M657.08 184.88V185.18M657.83 185.78V186.78M657.55 186.78H658.11M657.55 186.78V200.97M658.11 186.78V201.24M658.17 185.78V187.30M657.91 187.30H658.42M657.91 187.30V200.35M658.42 187.30V197.81M657.83 185.78H658.17M658.00 185.48V185.78M658.50 185.48V186.48M658.29 186.48H658.71M658.29 186.48V199.08M658.71 186.48V201.08M658.00 185.48H658.50M658.25 185.18V185.48M658.83 185.18V186.18M658.37 186.18H659.30M658.37 186.18V196.24M659.30 186.18V200.68M658.25 185.18H658.83M658.54 184.88V185.18M657.08 184.88H658.54M657.81 184.19V184.88M655.45 184.19H657.81M656.63 183.49V184.19M659.17 185.36V186.36M658.85 186.36H659.49M658.85 186.36V201.54M659.49 186.36V197.53M659.50 185.66V186.66M659.08 186.66H659.92M659.08 186.66V199.93M659.92 186.66V201.82M659.83 185.96V186.96M659.56 186.96H660.11M659.56 186.96V197.68M660.11 186.96V201.17M660.17 185.96V186.96M659.96 186.96H660.37M659.96 186.96V199.08M660.37 186.96V198.62M659.83 185.96H660.17M660.00 185.66V185.96M659.50 185.66H660.00M659.75 185.36V185.66M659.17 185.36H659.75M659.46 184.57V185.36M660.50 185.67V186.67M660.11 186.67H660.89M660.11 186.67V197.99M660.89 186.67V197.74M660.83 185.67V186.67M660.59 186.67H661.07M660.59 186.67V196.98M661.07 186.67V202.58M660.50 185.67H660.83M660.67 185.37V185.67M661.17 185.67V186.67M660.93 186.67H661.40M660.93 186.67V200.62M661.40 186.67V197.55M661.50 185.97V186.97M661.22 186.97H661.78M661.22 186.97V200.33M661.78 186.97V197.05M661.83 185.97V186.97M661.35 186.97H662.32M661.35 186.97V198.83M662.32 186.97V201.45M661.50 185.97H661.83M661.67 185.67V185.97M661.17 185.67H661.67M661.42 185.37V185.67M660.67 185.37H661.42M661.04 184.57V185.37M659.46 184.57H661.04M660.25 183.79V184.57M662.17 185.68V186.68M661.72 186.68H662.61M661.72 186.68V201.79M662.61 186.68V202.59M662.50 185.68V187.72M662.05 187.72H662.95M662.05 187.72V201.13M662.95 187.72V198.78M662.17 185.68H662.50M662.33 184.91V185.68M662.83 185.61V186.66M662.59 186.66H663.07M662.59 186.66V202.10M663.07 186.66V201.97M663.17 185.91V186.91M662.74 186.91H663.59M662.74 186.91V197.58M663.59 186.91V197.19M663.50 185.91V186.91M663.02 186.91H663.98M663.02 186.91V199.15M663.98 186.91V202.68M663.17 185.91H663.50M663.33 185.61V185.91M662.83 185.61H663.33M663.08 185.21V185.61M663.83 185.81V186.81M663.61 186.81H664.06M663.61 186.81V199.04M664.06 186.81V198.48M664.17 185.81V186.81M663.68 186.81H664.65M663.68 186.81V202.65M664.65 186.81V201.59M663.83 185.81H664.17M664.00 185.51V185.81M664.50 185.81V186.81M664.27 186.81H664.73M664.27 186.81V202.22M664.73 186.81V197.81M664.83 186.11V187.31M664.44 187.31H665.23M664.44 187.31V203.10M665.23 187.31V201.89M665.17 186.41V187.41M664.70 187.41H665.64M664.70 187.41V198.77M665.64 187.41V200.85M665.50 186.41V187.63M665.08 187.63H665.92M665.08 187.63V200.21M665.92 187.63V198.25M665.17 186.41H665.50M665.33 186.11V186.41M664.83 186.11H665.33M665.08 185.81V186.11M664.50 185.81H665.08M664.79 185.51V185.81M664.00 185.51H664.79M664.40 185.21V185.51M663.08 185.21H664.40M663.74 184.91V185.21M662.33 184.91H663.74M663.04 184.09V184.91M665.83 185.87V186.87M665.41 186.87H666.26M665.41 186.87V200.16M666.26 186.87V198.91M666.17 185.87V187.58M665.71 187.58H666.62M665.71 187.58V201.53M666.62 187.58V198.85M665.83 185.87H666.17M666.00 185.57V185.87M666.50 185.87V186.87M666.02 186.87H666.98M666.02 186.87V202.83M666.98 186.87V197.28M666.83 185.87V186.89M666.49 186.89H667.17M666.49 186.89V197.21M667.17 186.89V199.59M666.50 185.87H666.83M666.67 185.57V185.87M666.00 185.57H666.67M666.33 185.27V185.57M667.17 185.27V186.27M666.89 186.27H667.44M666.89 186.27V201.10M667.44 186.27V197.50M666.33 185.27H667.17M666.75 184.39V185.27M667.50 184.39V185.39M667.28 185.39H667.72M667.28 185.39V195.75M667.72 185.39V195.28M666.75 184.39H667.50M667.12 184.09V184.39M663.04 184.09H667.12M665.08 183.79V184.09M660.25 183.79H665.08M662.67 183.49V183.79M656.63 183.49H662.67M659.65 183.19V183.49M667.83 184.39V185.39M667.45 185.39H668.21M667.45 185.39V198.79M668.21 185.39V197.72M668.17 185.35V186.35M667.67 186.35H668.66M667.67 186.35V197.04M668.66 186.35V201.78M668.50 185.65V186.87M668.15 186.87H668.85M668.15 186.87V199.54M668.85 186.87V201.42M668.83 185.65V186.65M668.61 186.65H669.05M668.61 186.65V201.86M669.05 186.65V202.25M668.50 185.65H668.83M668.67 185.35V185.65M668.17 185.35H668.67M668.42 184.39V185.35M667.83 184.39H668.42M668.12 184.09V184.39M669.17 185.66V186.66M668.80 186.66H669.54M668.80 186.66V199.38M669.54 186.66V201.67M669.50 185.96V186.96M669.07 186.96H669.93M669.07 186.96V201.23M669.93 186.96V199.84M669.83 185.96V186.96M669.47 186.96H670.20M669.47 186.96V198.97M670.20 186.96V199.52M669.50 185.96H669.83M669.67 185.66V185.96M669.17 185.66H669.67M669.42 185.36V185.66M670.17 185.36V186.36M669.80 186.36H670.53M669.80 186.36V202.01M670.53 186.36V198.27M669.42 185.36H670.17M669.79 185.06V185.36M670.50 185.36V186.36M670.23 186.36H670.77M670.23 186.36V197.81M670.77 186.36V200.08M670.83 185.36V186.36M670.50 186.36H671.17M670.50 186.36V200.96M671.17 186.36V200.86M670.50 185.36H670.83M670.67 185.06V185.36M669.79 185.06H670.67M670.23 184.09V185.06M668.12 184.09H670.23M669.18 183.58V184.09M671.17 183.58V185.81M670.94 185.81H671.39M670.94 185.81V197.13M671.39 185.81V199.97M669.18 183.58H671.17M670.17 183.19V183.58M659.65 183.19H670.17M664.91 181.01V183.19M671.50 184.16V186.68M671.15 186.68H671.85M671.15 186.68V197.39M671.85 186.68V198.02M671.83 184.16V186.78M671.61 186.78H672.06M671.61 186.78V201.60M672.06 186.78V201.79M671.50 184.16H671.83M671.67 183.64V184.16M672.17 184.93V185.93M671.83 185.93H672.51M671.83 185.93V201.62M672.51 185.93V198.86M672.50 185.32V186.32M672.07 186.32H672.93M672.07 186.32V199.37M672.93 186.32V198.85M672.83 185.32V186.32M672.35 186.32H673.32M672.35 186.32V197.71M673.32 186.32V197.57M672.50 185.32H672.83M672.67 184.93V185.32M672.17 184.93H672.67M672.42 184.63V184.93M673.17 184.93V185.93M672.80 185.93H673.53M672.80 185.93V196.49M673.53 185.93V195.75M673.50 184.93V185.93M673.19 185.93H673.81M673.19 185.93V196.94M673.81 185.93V201.30M673.17 184.93H673.50M673.33 184.63V184.93M672.42 184.63H673.33M672.88 184.24V184.63M673.83 185.74V186.74M673.47 186.74H674.19M673.47 186.74V201.71M674.19 186.74V202.18M674.17 185.74V186.74M673.92 186.74H674.41M673.92 186.74V199.36M674.41 186.74V197.40M673.83 185.74H674.17M674.00 185.44V185.74M674.50 185.44V186.44M674.12 186.44H674.88M674.12 186.44V200.82M674.88 186.44V197.51M674.00 185.44H674.50M674.25 185.14V185.44M674.83 185.74V186.74M674.48 186.74H675.18M674.48 186.74V199.58M675.18 186.74V196.67M675.17 186.34V187.57M674.72 187.57H675.61M674.72 187.57V200.62M675.61 187.57V201.08M675.50 186.34V187.34M675.01 187.34H675.99M675.01 187.34V198.88M675.99 187.34V200.59M675.17 186.34H675.50M675.33 186.04V186.34M675.83 186.04V187.04M675.43 187.04H676.24M675.43 187.04V202.47M676.24 187.04V196.91M675.33 186.04H675.83M675.58 185.74V186.04M674.83 185.74H675.58M675.21 185.44V185.74M676.17 185.44V186.44M675.96 186.44H676.38M675.96 186.44V198.08M676.38 186.44V198.30M675.21 185.44H676.17M675.69 185.14V185.44M674.25 185.14H675.69M674.97 184.84V185.14M676.50 185.44V186.44M676.16 186.44H676.84M676.16 186.44V196.35M676.84 186.44V198.02M676.83 185.44V186.44M676.59 186.44H677.07M676.59 186.44V197.25M677.07 186.44V198.42M676.50 185.44H676.83M676.67 185.14V185.44M677.17 185.44V186.44M676.75 186.44H677.58M676.75 186.44V196.70M677.58 186.44V197.32M677.50 185.74V186.74M677.06 186.74H677.94M677.06 186.74V201.31M677.94 186.74V201.57M677.83 185.74V187.18M677.42 187.18H678.25M677.42 187.18V202.52M678.25 187.18V201.04M677.50 185.74H677.83M677.67 185.44V185.74M677.17 185.44H677.67M677.42 185.14V185.44M676.67 185.14H677.42M677.04 184.84V185.14M674.97 184.84H677.04M676.01 184.54V184.84M678.17 184.84V186.51M677.92 186.51H678.41M677.92 186.51V202.21M678.41 186.51V196.63M678.50 184.84V185.84M678.06 185.84H678.94M678.06 185.84V199.89M678.94 185.84V197.23M678.17 184.84H678.50M678.33 184.54V184.84M676.01 184.54H678.33M677.17 184.24V184.54M672.88 184.24H677.17M675.02 183.94V184.24M678.83 183.94V184.94M678.45 184.94H679.22M678.45 184.94V194.82M679.22 184.94V196.74M675.02 183.94H678.83M676.93 183.64V183.94M671.67 183.64H676.93M674.30 183.34V183.64M679.17 184.82V185.82M678.88 185.82H679.46M678.88 185.82V195.42M679.46 185.82V200.14M679.50 185.12V186.12M679.17 186.12H679.83M679.17 186.12V196.89M679.83 186.12V197.60M679.83 185.12V186.12M679.48 186.12H680.18M679.48 186.12V199.06M680.18 186.12V199.91M679.50 185.12H679.83M679.67 184.82V185.12M679.17 184.82H679.67M679.42 183.34V184.82M674.30 183.34H679.42M676.86 181.01V183.34M664.91 181.01H676.86M670.88 180.00V181.01M680.17 184.63V185.63M679.69 185.63H680.64M679.69 185.63V196.32M680.64 185.63V196.26M680.50 184.93V185.95M680.17 185.95H680.83M680.17 185.95V197.61M680.83 185.95V201.75M680.83 185.23V186.23M680.41 186.23H681.26M680.41 186.23V198.21M681.26 186.23V199.90M681.17 185.23V186.47M680.94 186.47H681.39M680.94 186.47V196.57M681.39 186.47V197.22M680.83 185.23H681.17M681.00 184.93V185.23M680.50 184.93H681.00M680.75 184.63V184.93M680.17 184.63H680.75M680.46 184.33V184.63M681.50 184.96V185.96M681.18 185.96H681.82M681.18 185.96V196.70M681.82 185.96V198.22M681.83 184.96V185.96M681.38 185.96H682.28M681.38 185.96V199.97M682.28 185.96V198.02M681.50 184.96H681.83M681.67 184.33V184.96M680.46 184.33H681.67M681.06 181.53V184.33M682.17 185.84V187.61M681.76 187.61H682.58M681.76 187.61V201.70M682.58 187.61V202.09M682.50 185.84V186.84M682.14 186.84H682.86M682.14 186.84V200.60M682.86 186.84V200.10M682.17 185.84H682.50M682.33 185.54V185.84M682.83 185.54V187.65M682.59 187.65H683.08M682.59 187.65V197.39M683.08 187.65V201.61M682.33 185.54H682.83M682.58 182.62V185.54M683.17 184.71V185.80M682.79 185.80H683.55M682.79 185.80V195.65M683.55 185.80V200.12M683.50 185.31V186.95M683.13 186.95H683.87M683.13 186.95V198.41M683.87 186.95V198.05M683.83 185.64V186.64M683.34 186.64H684.33M683.34 186.64V197.25M684.33 186.64V200.35M684.17 185.64V186.64M683.88 186.64H684.46M683.88 186.64V199.61M684.46 186.64V201.28M683.83 185.64H684.17M684.00 185.31V185.64M683.50 185.31H684.00M683.75 185.01V185.31M684.50 185.61V186.61M684.13 186.61H684.87M684.13 186.61V202.43M684.87 186.61V197.28M684.83 185.61V186.61M684.53 186.61H685.13M684.53 186.61V199.14M685.13 186.61V197.60M684.50 185.61H684.83M684.67 185.31V185.61M685.17 185.91V186.91M684.69 186.91H685.65M684.69 186.91V200.77M685.65 186.91V197.80M685.50 185.91V187.20M685.10 187.20H685.90M685.10 187.20V202.13M685.90 187.20V203.19M685.17 185.91H685.50M685.33 185.61V185.91M685.83 185.61V186.61M685.41 186.61H686.26M685.41 186.61V196.75M686.26 186.61V201.25M685.33 185.61H685.83M685.58 185.31V185.61M684.67 185.31H685.58M685.12 185.01V185.31M683.75 185.01H685.12M684.44 184.71V185.01M683.17 184.71H684.44M683.80 182.62V184.71M682.58 182.62H683.80M683.19 182.04V182.62M686.17 185.87V186.87M685.69 186.87H686.65M685.69 186.87V197.03M686.65 186.87V201.77M686.50 185.87V186.87M686.17 186.87H686.83M686.17 186.87V199.26M686.83 186.87V199.97M686.17 185.87H686.50M686.33 185.57V185.87M686.83 185.87V186.87M686.58 186.87H687.09M686.58 186.87V199.97M687.09 186.87V201.97M687.17 185.87V186.87M686.79 186.87H687.55M686.79 186.87V199.36M687.55 186.87V202.77M686.83 185.87H687.17M687.00 185.57V185.87M686.33 185.57H687.00M686.67 183.67V185.57M687.50 185.17V186.40M687.29 186.40H687.71M687.29 186.40V198.89M687.71 186.40V197.88M687.83 185.17V186.17M687.57 186.17H688.10M687.57 186.17V197.10M688.10 186.17V202.04M687.50 185.17H687.83M687.67 184.87V185.17M688.17 185.17V187.48M687.76 187.48H688.57M687.76 187.48V199.87M688.57 187.48V202.20M688.50 185.17V187.87M688.15 187.87H688.85M688.15 187.87V201.30M688.85 187.87V198.89M688.17 185.17H688.50M688.33 184.87V185.17M687.67 184.87H688.33M688.00 184.57V184.87M688.83 184.87V185.87M688.61 185.87H689.06M688.61 185.87V197.77M689.06 185.87V200.70M689.17 184.87V185.87M688.95 185.87H689.38M688.95 185.87V200.53M689.38 185.87V200.02M688.83 184.87H689.17M689.00 184.57V184.87M688.00 184.57H689.00M688.50 184.27V184.57M689.50 184.57V187.08M689.01 187.08H689.99M689.01 187.08V200.22M689.99 187.08V196.89M689.83 184.57V185.57M689.48 185.57H690.18M689.48 185.57V196.52M690.18 185.57V199.18M689.50 184.57H689.83M689.67 184.27V184.57M688.50 184.27H689.67M689.08 183.97V184.27M690.17 184.87V186.51M689.85 186.51H690.48M689.85 186.51V200.73M690.48 186.51V202.31M690.50 185.17V186.17M690.20 186.17H690.80M690.20 186.17V198.95M690.80 186.17V197.60M690.83 185.17V186.17M690.62 186.17H691.04M690.62 186.17V196.33M691.04 186.17V201.32M690.50 185.17H690.83M690.67 184.87V185.17M690.17 184.87H690.67M690.42 184.57V184.87M691.17 184.57V185.92M690.68 185.92H691.66M690.68 185.92V197.09M691.66 185.92V197.85M690.42 184.57H691.17M690.79 184.27V184.57M691.50 184.57V185.83M691.02 185.83H691.98M691.02 185.83V198.01M691.98 185.83V197.96M691.83 184.57V185.57M691.45 185.57H692.22M691.45 185.57V197.67M692.22 185.57V201.00M691.50 184.57H691.83M691.67 184.27V184.57M690.79 184.27H691.67M691.23 183.97V184.27M689.08 183.97H691.23M690.16 183.67V183.97M686.67 183.67H690.16M688.41 182.04V183.67M683.19 182.04H688.41M685.80 181.53V182.04M681.06 181.53H685.80M683.43 180.00V181.53M670.88 180.00H683.43M692.17 181.15V185.86M691.73 185.86H692.60M691.73 185.86V195.98M692.60 185.86V199.43M692.50 181.15V187.80M692.14 187.80H692.86M692.14 187.80V202.45M692.86 187.80V198.78M692.17 181.15H692.50M692.33 180.85V181.15M692.83 180.85V187.78M692.54 187.78H693.12M692.54 187.78V199.57M693.12 187.78V200.62M692.33 180.85H692.83M692.58 180.55V180.85M693.17 180.85V185.52M692.86 185.52H693.48M692.86 185.52V200.37M693.48 185.52V196.45M693.50 181.15V185.97M693.26 185.97H693.74M693.26 185.97V197.82M693.74 185.97V198.97M693.83 181.15V183.32M693.33 183.32H694.33M693.33 183.32V196.34M694.33 183.32V196.11M693.50 181.15H693.83M693.67 180.85V181.15M693.17 180.85H693.67M693.42 180.55V180.85M692.58 180.55H693.42M693.00 177.09V180.55M694.17 180.43V186.86M693.85 186.86H694.48M693.85 186.86V202.25M694.48 186.86V199.54M694.50 180.43V185.93M694.23 185.93H694.77M694.23 185.93V198.52M694.77 185.93V199.11M694.17 180.43H694.50M694.33 178.52V180.43M694.83 178.52V184.41M694.37 184.41H695.30M694.37 184.41V194.80M695.30 184.41V198.59M694.33 178.52H694.83M694.58 177.39V178.52M695.17 177.99V185.28M694.71 185.28H695.62M694.71 185.28V195.90M695.62 185.28V197.75M695.50 177.99V182.20M695.18 182.20H695.82M695.18 182.20V194.58M695.82 182.20V194.52M695.17 177.99H695.50M695.33 177.69V177.99M695.83 178.82V185.24M695.51 185.24H696.16M695.51 185.24V200.98M696.16 185.24V200.31M696.17 178.82V186.24M695.87 186.24H696.46M695.87 186.24V202.18M696.46 186.24V195.92M695.83 178.82H696.17M696.00 177.69V178.82M695.33 177.69H696.00M695.67 177.39V177.69M694.58 177.39H695.67M695.12 177.09V177.39M693.00 177.09H695.12M694.06 170.00V177.09M696.50 179.25V183.85M696.16 183.85H696.84M696.16 183.85V198.96M696.84 183.85V199.17M696.83 179.25V185.96M696.56 185.96H697.10M696.56 185.96V199.40M697.10 185.96V199.33M696.50 179.25H696.83M696.67 178.72V179.25M697.17 179.02V183.39M696.77 183.39H697.56M696.77 183.39V196.30M697.56 183.39V198.73M697.50 179.02V186.39M697.11 186.39H697.89M697.11 186.39V200.40M697.89 186.39V202.31M697.17 179.02H697.50M697.33 178.72V179.02M696.67 178.72H697.33M697.00 178.42V178.72M697.83 178.42V183.42M697.47 183.42H698.19M697.47 183.42V196.98M698.19 183.42V199.18M697.00 178.42H697.83M697.42 174.41V178.42M698.17 177.57V187.33M697.71 187.33H698.62M697.71 187.33V201.31M698.62 187.33V197.05M698.50 178.17V187.83M698.07 187.83H698.93M698.07 187.83V199.67M698.93 187.83V198.03M698.83 178.17V184.58M698.49 184.58H699.17M698.49 184.58V199.36M699.17 184.58V194.70M698.50 178.17H698.83M698.67 177.87V178.17M699.17 180.46V185.10M698.73 185.10H699.61M698.73 185.10V196.55M699.61 185.10V197.93M699.50 180.76V186.38M699.06 186.38H699.94M699.06 186.38V201.53M699.94 186.38V200.06M699.83 180.76V184.21M699.45 184.21H700.21M699.45 184.21V194.00M700.21 184.21V198.06M699.50 180.76H699.83M699.67 180.46V180.76M699.17 180.46H699.67M699.42 177.87V180.46M698.67 177.87H699.42M699.04 177.57V177.87M698.17 177.57H699.04M698.60 174.41V177.57M697.42 174.41H698.60M698.01 170.00V174.41M694.06 170.00H698.01M700.17 179.73V187.80M699.82 187.80H700.51M699.82 187.80V200.27M700.51 187.80V198.41M700.50 179.73V183.83M700.14 183.83H700.86M700.14 183.83V194.00M700.86 183.83V196.61M700.17 179.73H700.50M700.33 179.43V179.73M700.83 180.03V185.53M700.39 185.53H701.28M700.39 185.53V196.14M701.28 185.53V196.76M701.17 180.33V183.60M700.96 183.60H701.37M700.96 183.60V198.08M701.37 183.60V198.80M701.50 180.33V186.68M701.16 186.68H701.84M701.16 186.68V202.65M701.84 186.68V202.14M701.17 180.33H701.50M701.33 180.03V180.33M700.83 180.03H701.33M701.08 179.43V180.03M700.33 179.43H701.08M700.71 177.80V179.43M701.83 178.10V183.98M701.62 183.98H702.04M701.62 183.98V195.94M702.04 183.98V199.79M702.17 178.70V184.63M701.81 184.63H702.52M701.81 184.63V196.35M702.52 184.63V199.65M702.50 180.55V185.74M702.00 185.74H703.00M702.00 185.74V195.36M703.00 185.74V196.31M702.83 181.15V184.94M702.39 184.94H703.28M702.39 184.94V196.55M703.28 184.94V195.42M703.17 181.15V186.74M702.94 186.74H703.39M702.94 186.74V197.32M703.39 186.74V197.36M702.83 181.15H703.17M703.00 180.85V181.15M703.50 181.15V183.04M703.21 183.04H703.79M703.21 183.04V194.94M703.79 183.04V194.31M703.83 181.15V187.62M703.61 187.62H704.06M703.61 187.62V197.57M704.06 187.62V198.61M703.50 181.15H703.83M703.67 180.85V181.15M703.00 180.85H703.67M703.33 180.55V180.85M702.50 180.55H703.33M702.92 178.70V180.55M702.17 178.70H702.92M702.54 178.40V178.70M704.17 179.37V182.98M703.68 182.98H704.65M703.68 182.98V196.48M704.65 182.98V195.49M704.50 179.37V185.85M704.09 185.85H704.91M704.09 185.85V200.94M704.91 185.85V196.37M704.17 179.37H704.50M704.33 178.40V179.37M702.54 178.40H704.33M703.44 178.10V178.40M701.83 178.10H703.44M702.64 177.80V178.10M700.71 177.80H702.64M701.67 177.50V177.80M704.83 178.40V182.11M704.49 182.11H705.17M704.49 182.11V197.99M705.17 182.11V194.91M705.17 178.70V187.78M704.77 187.78H705.56M704.77 187.78V202.10M705.56 187.78V199.11M705.50 178.70V184.38M705.19 184.38H705.81M705.19 184.38V197.73M705.81 184.38V198.69M705.17 178.70H705.50M705.33 178.40V178.70M704.83 178.40H705.33M705.08 178.10V178.40M705.83 178.10V185.81M705.38 185.81H706.28M705.38 185.81V200.53M706.28 185.81V201.69M705.08 178.10H705.83M705.46 177.80V178.10M706.17 178.40V183.75M705.79 183.75H706.54M705.79 183.75V194.49M706.54 183.75V194.86M706.50 178.40V187.22M706.27 187.22H706.73M706.27 187.22V200.63M706.73 187.22V197.12M706.17 178.40H706.50M706.33 178.10V178.40M706.83 178.97V186.46M706.42 186.46H707.25M706.42 186.46V196.73M707.25 186.46V198.40M707.17 178.97V186.80M706.71 186.80H707.62M706.71 186.80V197.13M707.62 186.80V198.44M706.83 178.97H707.17M707.00 178.40V178.97M707.50 178.40V186.57M707.24 186.57H707.76M707.24 186.57V200.40M707.76 186.57V200.33M707.00 178.40H707.50M707.25 178.10V178.40M706.33 178.10H707.25M706.79 177.80V178.10M705.46 177.80H706.79M706.12 177.50V177.80M701.67 177.50H706.12M703.90 170.00V177.50M707.83 170.00V184.50M707.52 184.50H708.15M707.52 184.50V195.20M708.15 184.50V198.23M703.90 170.00H707.83M705.87 168.00V170.00M708.17 177.98V186.30M707.70 186.30H708.64M707.70 186.30V198.57M708.64 186.30V196.59M708.50 180.28V186.59M708.04 186.59H708.96M708.04 186.59V196.76M708.96 186.59V200.68M708.83 180.28V186.49M708.54 186.49H709.12M708.54 186.49V196.17M709.12 186.49V198.10M708.50 180.28H708.83M708.67 179.98V180.28M709.17 180.28V185.11M708.73 185.11H709.61M708.73 185.11V199.79M709.61 185.11V199.73M709.50 180.28V183.48M709.06 183.48H709.94M709.06 183.48V197.20M709.94 183.48V197.59M709.17 180.28H709.50M709.33 179.98V180.28M708.67 179.98H709.33M709.00 179.68V179.98M709.83 179.98V183.84M709.62 183.84H710.05M709.62 183.84V199.16M710.05 183.84V194.34M710.17 180.28V182.70M709.91 182.70H710.42M709.91 182.70V198.53M710.42 182.70V196.47M710.50 180.28V187.33M710.29 187.33H710.71M710.29 187.33V198.28M710.71 187.33V197.69M710.17 180.28H710.50M710.33 179.98V180.28M709.83 179.98H710.33M710.08 179.68V179.98M709.00 179.68H710.08M709.54 178.28V179.68M710.83 180.55V187.74M710.49 187.74H711.18M710.49 187.74V198.03M711.18 187.74V202.07M711.17 180.55V183.64M710.80 183.64H711.53M710.80 183.64V199.34M711.53 183.64V195.39M710.83 180.55H711.17M711.00 178.58V180.55M711.50 179.29V187.69M711.14 187.69H711.86M711.14 187.69V202.89M711.86 187.69V202.74M711.83 179.29V185.81M711.39 185.81H712.27M711.39 185.81V197.91M712.27 185.81V198.75M711.50 179.29H711.83M711.67 178.58V179.29M711.00 178.58H711.67M711.33 178.28V178.58M709.54 178.28H711.33M710.44 177.98V178.28M708.17 177.98H710.44M709.30 168.00V177.98M705.87 168.00H709.30M712.17 185.07V187.36M711.82 187.36H712.51M711.82 187.36V200.46M712.51 187.36V202.61M712.50 185.56V186.69M712.27 186.69H712.73M712.27 186.69V200.35M712.73 186.69V198.23M712.83 185.56V187.27M712.47 187.27H713.20M712.47 187.27V200.43M713.20 187.27V200.73M712.50 185.56H712.83M712.67 185.07V185.56M712.17 185.07H712.67M712.42 184.77V185.07M713.17 185.62V186.62M712.90 186.62H713.43M712.90 186.62V199.73M713.43 186.62V202.07M713.50 185.62V186.62M713.04 186.62H713.96M713.04 186.62V197.81M713.96 186.62V200.75M713.17 185.62H713.50M713.33 184.77V185.62M712.42 184.77H713.33M712.88 184.47V184.77M713.83 184.85V185.85M713.58 185.85H714.09M713.58 185.85V195.85M714.09 185.85V201.74M714.17 184.85V185.99M713.73 185.99H714.60M713.73 185.99V198.46M714.60 185.99V195.65M713.83 184.85H714.17M714.00 184.47V184.85M712.88 184.47H714.00M713.44 183.70V184.47M714.50 185.40V186.40M714.18 186.40H714.82M714.18 186.40V201.15M714.82 186.40V198.20M714.83 185.40V186.40M714.54 186.40H715.13M714.54 186.40V201.25M715.13 186.40V198.24M714.50 185.40H714.83M714.67 183.70V185.40M713.44 183.70H714.67M714.05 183.03V183.70M715.17 184.43V185.43M714.70 185.43H715.63M714.70 185.43V201.03M715.63 185.43V197.90M715.50 184.43V185.43M715.04 185.43H715.96M715.04 185.43V197.82M715.96 185.43V198.76M715.17 184.43H715.50M715.33 183.33V184.43M715.83 184.01V185.01M715.44 185.01H716.22M715.44 185.01V197.49M716.22 185.01V199.82M716.17 184.01V185.78M715.74 185.78H716.59M715.74 185.78V201.05M716.59 185.78V198.76M715.83 184.01H716.17M716.00 183.33V184.01M715.33 183.33H716.00M715.67 183.03V183.33M714.05 183.03H715.67M714.86 180.97V183.03M716.50 185.45V186.45M716.27 186.45H716.73M716.27 186.45V200.12M716.73 186.45V200.18M716.83 185.45V186.45M716.63 186.45H717.04M716.63 186.45V199.74M717.04 186.45V201.86M716.50 185.45H716.83M716.67 185.15V185.45M717.17 185.59V186.59M716.80 186.59H717.53M716.80 186.59V200.55M717.53 186.59V201.23M717.50 185.59V186.70M717.30 186.70H717.70M717.30 186.70V200.85M717.70 186.70V197.35M717.17 185.59H717.50M717.33 185.15V185.59M716.67 185.15H717.33M717.00 184.85V185.15M717.83 185.75V187.69M717.42 187.69H718.25M717.42 187.69V197.31M718.25 187.69V201.51M718.17 185.75V186.89M717.88 186.89H718.45M717.88 186.89V198.80M718.45 186.89V201.24M717.83 185.75H718.17M718.00 185.45V185.75M718.50 186.05V187.45M718.01 187.45H718.99M718.01 187.45V202.62M718.99 187.45V201.50M718.83 186.05V187.05M718.57 187.05H719.10M718.57 187.05V199.84M719.10 187.05V200.84M718.50 186.05H718.83M718.67 185.75V186.05M719.17 186.05V187.05M718.79 187.05H719.54M718.79 187.05V202.94M719.54 187.05V202.23M719.50 186.05V187.46M719.02 187.46H719.98M719.02 187.46V197.65M719.98 187.46V197.37M719.17 186.05H719.50M719.33 185.75V186.05M718.67 185.75H719.33M719.00 185.45V185.75M718.00 185.45H719.00M718.50 185.15V185.45M719.83 185.75V186.75M719.56 186.75H720.11M719.56 186.75V198.19M720.11 186.75V199.56M720.17 185.75V187.88M719.77 187.88H720.57M719.77 187.88V198.23M720.57 187.88V197.83M719.83 185.75H720.17M720.00 185.45V185.75M720.50 185.75V186.75M720.29 186.75H720.71M720.29 186.75V200.59M720.71 186.75V199.47M720.83 186.05V187.05M720.44 187.05H721.23M720.44 187.05V197.96M721.23 187.05V200.71M721.17 186.35V187.35M720.71 187.35H721.62M720.71 187.35V202.26M721.62 187.35V202.00M721.50 186.35V187.35M721.07 187.35H721.93M721.07 187.35V201.56M721.93 187.35V201.49M721.17 186.35H721.50M721.33 186.05V186.35M720.83 186.05H721.33M721.08 185.75V186.05M720.50 185.75H721.08M720.79 185.45V185.75M720.00 185.45H720.79M720.40 185.15V185.45M718.50 185.15H720.40M719.45 184.85V185.15M717.00 184.85H719.45M718.22 184.55V184.85M721.83 185.45V186.45M721.53 186.45H722.13M721.53 186.45V197.83M722.13 186.45V198.33M722.17 185.45V186.45M721.80 186.45H722.53M721.80 186.45V202.36M722.53 186.45V202.40M721.83 185.45H722.17M722.00 185.15V185.45M722.50 186.05V187.70M722.12 187.70H722.88M722.12 187.70V198.86M722.88 187.70V203.04M722.83 186.05V187.05M722.63 187.05H723.04M722.63 187.05V198.67M723.04 187.05V197.24M722.50 186.05H722.83M722.67 185.75V186.05M723.17 185.75V186.75M722.73 186.75H723.61M722.73 186.75V201.66M723.61 186.75V202.02M722.67 185.75H723.17M722.92 185.45V185.75M723.50 185.45V186.45M723.13 186.45H723.87M723.13 186.45V199.72M723.87 186.45V197.77M722.92 185.45H723.50M723.21 185.15V185.45M722.00 185.15H723.21M722.60 184.85V185.15M723.83 185.45V187.71M723.40 187.71H724.27M723.40 187.71V200.94M724.27 187.71V198.00M724.17 185.75V187.48M723.70 187.48H724.63M723.70 187.48V197.35M724.63 187.48V203.19M724.50 185.75V186.75M724.06 186.75H724.94M724.06 186.75V202.19M724.94 186.75V200.49M724.17 185.75H724.50M724.33 185.45V185.75M723.83 185.45H724.33M724.08 185.15V185.45M724.83 185.75V186.75M724.44 186.75H725.23M724.44 186.75V201.15M725.23 186.75V198.04M725.17 185.75V186.75M724.77 186.75H725.57M724.77 186.75V201.62M725.57 186.75V198.51M724.83 185.75H725.17M725.00 185.45V185.75M725.50 185.45V187.02M725.28 187.02H725.72M725.28 187.02V202.70M725.72 187.02V198.86M725.00 185.45H725.50M725.25 185.15V185.45M724.08 185.15H725.25M724.67 184.85V185.15M722.60 184.85H724.67M723.64 184.55V184.85M718.22 184.55H723.64M720.93 184.25V184.55M725.83 184.96V185.96M725.54 185.96H726.13M725.54 185.96V196.36M726.13 185.96V197.38M726.17 184.96V186.91M725.91 186.91H726.42M725.91 186.91V201.29M726.42 186.91V198.95M725.83 184.96H726.17M726.00 184.25V184.96M720.93 184.25H726.00M723.46 180.97V184.25M714.86 180.97H723.46M719.16 180.00V180.97M726.50 184.54V185.54M726.04 185.54H726.96M726.04 185.54V200.15M726.96 185.54V197.87M726.83 184.54V185.54M726.45 185.54H727.21M726.45 185.54V199.59M727.21 185.54V200.07M726.50 184.54H726.83M726.67 184.01V184.54M727.17 184.31V185.31M726.71 185.31H727.62M726.71 185.31V197.76M727.62 185.31V200.36M727.50 184.31V187.22M727.02 187.22H727.98M727.02 187.22V197.17M727.98 187.22V203.15M727.17 184.31H727.50M727.33 184.01V184.31M726.67 184.01H727.33M727.00 183.71V184.01M727.83 184.61V187.49M727.51 187.49H728.15M727.51 187.49V200.74M728.15 187.49V200.48M728.17 185.14V187.17M727.72 187.17H728.61M727.72 187.17V197.07M728.61 187.17V198.86M728.50 185.74V186.74M728.12 186.74H728.88M728.12 186.74V201.56M728.88 186.74V200.11M728.83 185.74V187.20M728.61 187.20H729.05M728.61 187.20V201.15M729.05 187.20V199.64M728.50 185.74H728.83M728.67 185.44V185.74M729.17 185.74V186.74M728.92 186.74H729.41M728.92 186.74V202.20M729.41 186.74V200.73M729.50 185.74V186.74M729.20 186.74H729.80M729.20 186.74V197.34M729.80 186.74V197.99M729.17 185.74H729.50M729.33 185.44V185.74M728.67 185.44H729.33M729.00 185.14V185.44M728.17 185.14H729.00M728.58 184.61V185.14M727.83 184.61H728.58M728.21 184.31V184.61M729.83 185.21V186.21M729.59 186.21H730.08M729.59 186.21V195.86M730.08 186.21V198.54M730.17 185.21V187.17M729.85 187.17H730.48M729.85 187.17V199.89M730.48 187.17V199.00M729.83 185.21H730.17M730.00 184.91V185.21M730.50 184.91V185.91M730.06 185.91H730.94M730.06 185.91V198.58M730.94 185.91V198.96M730.00 184.91H730.50M730.25 184.61V184.91M730.83 184.61V185.61M730.48 185.61H731.18M730.48 185.61V198.12M731.18 185.61V199.81M730.25 184.61H730.83M730.54 184.31V184.61M728.21 184.31H730.54M729.38 184.01V184.31M731.17 185.43V186.43M730.94 186.43H731.40M730.94 186.43V198.64M731.40 186.43V198.30M731.50 185.73V186.73M731.14 186.73H731.86M731.14 186.73V198.85M731.86 186.73V199.21M731.83 185.73V186.73M731.51 186.73H732.15M731.51 186.73V198.95M732.15 186.73V199.93M731.50 185.73H731.83M731.67 185.43V185.73M731.17 185.43H731.67M731.42 185.13V185.43M732.17 185.13V186.13M731.78 186.13H732.55M731.78 186.13V202.01M732.55 186.13V198.05M731.42 185.13H732.17M731.79 184.83V185.13M732.50 185.73V186.73M732.08 186.73H732.92M732.08 186.73V198.02M732.92 186.73V198.27M732.83 185.73V186.73M732.63 186.73H733.03M732.63 186.73V202.14M733.03 186.73V201.02M732.50 185.73H732.83M732.67 185.43V185.73M733.17 185.73V186.73M732.89 186.73H733.44M732.89 186.73V200.73M733.44 186.73V196.37M733.50 186.03V187.52M733.07 187.52H733.93M733.07 187.52V200.54M733.93 187.52V198.01M733.83 186.33V187.33M733.45 187.33H734.21M733.45 187.33V202.45M734.21 187.33V199.98M734.17 186.33V187.33M733.85 187.33H734.48M733.85 187.33V199.27M734.48 187.33V197.30M733.83 186.33H734.17M734.00 186.03V186.33M733.50 186.03H734.00M733.75 185.73V186.03M733.17 185.73H733.75M733.46 185.43V185.73M732.67 185.43H733.46M733.06 185.13V185.43M734.50 185.43V186.43M734.16 186.43H734.84M734.16 186.43V198.38M734.84 186.43V200.27M734.83 185.73V186.73M734.44 186.73H735.22M734.44 186.73V198.11M735.22 186.73V198.19M735.17 185.73V186.83M734.83 186.83H735.50M734.83 186.83V197.19M735.50 186.83V197.71M734.83 185.73H735.17M735.00 185.43V185.73M734.50 185.43H735.00M734.75 185.13V185.43M733.06 185.13H734.75M733.91 184.83V185.13M731.79 184.83H733.91M732.85 184.01V184.83M729.38 184.01H732.85M731.11 183.71V184.01M727.00 183.71H731.11M729.06 183.32V183.71M735.50 184.86V185.86M735.26 185.86H735.74M735.26 185.86V199.39M735.74 185.86V197.95M735.83 184.86V185.86M735.42 185.86H736.25M735.42 185.86V197.83M736.25 185.86V196.70M735.50 184.86H735.83M735.67 183.62V184.86M736.17 185.17V186.17M735.76 186.17H736.57M735.76 186.17V201.80M736.57 186.17V199.96M736.50 185.77V186.77M736.02 186.77H736.98M736.02 186.77V199.85M736.98 186.77V198.74M736.83 185.77V187.73M736.43 187.73H737.24M736.43 187.73V199.48M737.24 187.73V199.62M736.50 185.77H736.83M736.67 185.47V185.77M737.17 185.77V187.64M736.75 187.64H737.59M736.75 187.64V198.87M737.59 187.64V197.67M737.50 186.07V187.07M737.12 187.07H737.88M737.12 187.07V202.47M737.88 187.07V199.70M737.83 186.07V187.07M737.62 187.07H738.05M737.62 187.07V198.77M738.05 187.07V197.27M737.50 186.07H737.83M737.67 185.77V186.07M737.17 185.77H737.67M737.42 185.47V185.77M736.67 185.47H737.42M737.04 185.17V185.47M736.17 185.17H737.04M736.60 183.62V185.17M735.67 183.62H736.60M736.14 183.32V183.62M729.06 183.32H736.14M732.60 180.00V183.32M719.16 180.00H732.60M738.17 174.82V184.27M737.71 184.27H738.62M737.71 184.27V194.21M738.62 184.27V194.40M738.50 174.82V182.54M738.09 182.54H738.91M738.09 182.54V193.94M738.91 182.54V198.35M738.17 174.82H738.50M738.33 174.52V174.82M738.83 174.82V183.17M738.62 183.17H739.05M738.62 183.17V195.32M739.05 183.17V198.93M739.17 174.82V182.06M738.93 182.06H739.40M738.93 182.06V193.38M739.40 182.06V193.49M738.83 174.82H739.17M739.00 174.52V174.82M738.33 174.52H739.00M738.67 164.98V174.52M739.50 174.87V185.42M739.15 185.42H739.85M739.15 185.42V199.31M739.85 185.42V196.79M739.83 174.87V182.75M739.59 182.75H740.07M739.59 182.75V198.74M740.07 182.75V193.23M739.50 174.87H739.83M739.67 174.57V174.87M740.17 175.17V183.85M739.79 183.85H740.55M739.79 183.85V197.84M740.55 183.85V198.11M740.50 176.20V186.59M740.28 186.59H740.72M740.28 186.59V201.82M740.72 186.59V200.61M740.83 176.20V185.20M740.60 185.20H741.06M740.60 185.20V199.86M741.06 185.20V194.93M740.50 176.20H740.83M740.67 175.17V176.20M740.17 175.17H740.67M740.42 174.87V175.17M741.17 175.17V186.04M740.73 186.04H741.61M740.73 186.04V196.26M741.61 186.04V197.22M741.50 175.47V183.85M741.23 183.85H741.77M741.23 183.85V195.45M741.77 183.85V195.85M741.83 175.47V182.31M741.59 182.31H742.08M741.59 182.31V196.25M742.08 182.31V196.91M741.50 175.47H741.83M741.67 175.17V175.47M741.17 175.17H741.67M741.42 174.87V175.17M740.42 174.87H741.42M740.92 174.57V174.87M739.67 174.57H740.92M740.29 165.28V174.57M742.17 168.05V186.62M741.72 186.62H742.61M741.72 186.62V196.97M742.61 186.62V197.26M742.50 170.12V182.14M742.04 182.14H742.96M742.04 182.14V195.98M742.96 182.14V191.75M742.83 170.12V182.76M742.42 182.76H743.24M742.42 182.76V198.73M743.24 182.76V193.48M742.50 170.12H742.83M742.67 168.05V170.12M742.17 168.05H742.67M742.42 165.28V168.05M740.29 165.28H742.42M741.35 164.98V165.28M738.67 164.98H741.35M740.01 158.00V164.98M743.17 169.95V186.56M742.68 186.56H743.65M742.68 186.56V200.34M743.65 186.56V196.33M743.50 175.97V184.25M743.09 184.25H743.91M743.09 184.25V194.82M743.91 184.25V195.55M743.83 175.97V182.78M743.54 182.78H744.13M743.54 182.78V197.83M744.13 182.78V196.20M743.50 175.97H743.83M743.67 169.95V175.97M743.17 169.95H743.67M743.42 168.46V169.95M744.17 176.39V186.51M743.85 186.51H744.48M743.85 186.51V198.99M744.48 186.51V199.68M744.50 176.99V182.51M744.16 182.51H744.84M744.16 182.51V192.18M744.84 182.51V195.51M744.83 177.29V184.46M744.44 184.46H745.22M744.44 184.46V196.76M745.22 184.46V198.24M745.17 177.29V185.54M744.91 185.54H745.42M744.91 185.54V197.56M745.42 185.54V197.13M744.83 177.29H745.17M745.00 176.99V177.29M744.50 176.99H745.00M744.75 176.69V176.99M745.50 176.69V184.45M745.28 184.45H745.72M745.28 184.45V196.55M745.72 184.45V196.58M744.75 176.69H745.50M745.12 176.39V176.69M744.17 176.39H745.12M744.65 171.77V176.39M745.83 172.07V184.73M745.41 184.73H746.25M745.41 184.73V196.34M746.25 184.73V200.56M746.17 172.07V185.99M745.71 185.99H746.62M745.71 185.99V197.16M746.62 185.99V196.90M745.83 172.07H746.17M746.00 171.77V172.07M744.65 171.77H746.00M745.32 168.76V171.77M746.50 169.42V187.41M746.06 187.41H746.94M746.06 187.41V202.20M746.94 187.41V202.71M746.83 171.89V186.52M746.48 186.52H747.19M746.48 186.52V201.39M747.19 186.52V199.63M747.17 171.89V183.31M746.74 183.31H747.59M746.74 183.31V193.44M747.59 183.31V197.94M746.83 171.89H747.17M747.00 169.42V171.89M746.50 169.42H747.00M746.75 169.06V169.42M747.50 175.20V184.04M747.20 184.04H747.80M747.20 184.04V194.02M747.80 184.04V198.87M747.83 175.20V182.32M747.44 182.32H748.23M747.44 182.32V197.20M748.23 182.32V192.12M747.50 175.20H747.83M747.67 174.90V175.20M748.17 178.25V182.21M747.68 182.21H748.65M747.68 182.21V194.97M748.65 182.21V196.68M748.50 178.25V185.54M748.24 185.54H748.76M748.24 185.54V199.61M748.76 185.54V198.21M748.17 178.25H748.50M748.33 175.50V178.25M748.83 175.50V183.98M748.49 183.98H749.18M748.49 183.98V199.49M749.18 183.98V196.09M748.33 175.50H748.83M748.58 175.20V175.50M749.17 175.80V184.42M748.94 184.42H749.39M748.94 184.42V198.71M749.39 184.42V195.79M749.50 176.10V182.44M749.23 182.44H749.77M749.23 182.44V192.42M749.77 182.44V192.97M749.83 176.10V182.16M749.45 182.16H750.22M749.45 182.16V195.40M750.22 182.16V197.53M749.50 176.10H749.83M749.67 175.80V176.10M749.17 175.80H749.67M749.42 175.50V175.80M750.17 176.79V186.50M749.70 186.50H750.64M749.70 186.50V196.74M750.64 186.50V196.24M750.50 176.79V187.68M750.27 187.68H750.73M750.27 187.68V202.82M750.73 187.68V201.04M750.17 176.79H750.50M750.33 175.80V176.79M750.83 175.80V185.24M750.34 185.24H751.33M750.34 185.24V195.37M751.33 185.24V196.47M750.33 175.80H750.83M750.58 175.50V175.80M749.42 175.50H750.58M750.00 175.20V175.50M748.58 175.20H750.00M749.29 174.90V175.20M747.67 174.90H749.29M748.48 169.06V174.90M746.75 169.06H748.48M747.61 168.76V169.06M745.32 168.76H747.61M746.47 168.46V168.76M743.42 168.46H746.47M744.94 168.16V168.46M751.17 177.96V182.98M750.89 182.98H751.45M750.89 182.98V198.02M751.45 182.98V193.15M751.50 177.96V184.98M751.09 184.98H751.91M751.09 184.98V199.46M751.91 184.98V196.98M751.17 177.96H751.50M751.33 177.66V177.96M751.83 177.66V186.13M751.41 186.13H752.26M751.41 186.13V201.82M752.26 186.13V197.81M751.33 177.66H751.83M751.58 168.16V177.66M744.94 168.16H751.58M748.26 158.00V168.16M740.01 158.00H748.26M752.17 171.21V183.04M751.85 183.04H752.48M751.85 183.04V198.37M752.48 183.04V198.28M752.50 177.02V183.70M752.10 183.70H752.90M752.10 183.70V194.16M752.90 183.70V195.95M752.83 177.62V182.54M752.61 182.54H753.06M752.61 182.54V192.26M753.06 182.54V194.73M753.17 177.62V182.77M752.76 182.77H753.57M752.76 182.77V194.50M753.57 182.77V198.22M752.83 177.62H753.17M753.00 177.32V177.62M753.50 177.32V185.59M753.29 185.59H753.71M753.29 185.59V197.43M753.71 185.59V195.60M753.00 177.32H753.50M753.25 177.02V177.32M752.50 177.02H753.25M752.88 176.72V177.02M753.83 178.21V187.10M753.63 187.10H754.04M753.63 187.10V198.27M754.04 187.10V202.33M754.17 178.21V187.85M753.78 187.85H754.55M753.78 187.85V197.84M754.55 187.85V199.55M753.83 178.21H754.17M754.00 176.72V178.21M752.88 176.72H754.00M753.44 171.21V176.72M752.17 171.21H753.44M752.80 160.00V171.21M754.50 177.68V185.92M754.11 185.92H754.89M754.11 185.92V199.08M754.89 185.92V200.81M754.83 177.68V185.06M754.62 185.06H755.05M754.62 185.06V199.25M755.05 185.06V195.06M754.50 177.68H754.83M754.67 174.28V177.68M755.17 176.57V184.37M754.76 184.37H755.57M754.76 184.37V196.26M755.57 184.37V196.14M755.50 176.57V185.26M755.18 185.26H755.82M755.18 185.26V200.90M755.82 185.26V196.29M755.17 176.57H755.50M755.33 174.28V176.57M754.67 174.28H755.33M755.00 173.98V174.28M755.83 174.28V186.62M755.61 186.62H756.06M755.61 186.62V202.52M756.06 186.62V198.34M756.17 175.39V187.56M755.70 187.56H756.63M755.70 187.56V199.49M756.63 187.56V201.62M756.50 175.39V185.51M756.14 185.51H756.86M756.14 185.51V200.58M756.86 185.51V198.22M756.17 175.39H756.50M756.33 174.28V175.39M755.83 174.28H756.33M756.08 173.98V174.28M755.00 173.98H756.08M755.54 173.68V173.98M756.83 174.58V185.56M756.48 185.56H757.19M756.48 185.56V201.36M757.19 185.56V195.77M757.17 174.58V187.47M756.90 187.47H757.43M756.90 187.47V199.52M757.43 187.47V199.71M756.83 174.58H757.17M757.00 174.28V174.58M757.50 177.05V183.11M757.17 183.11H757.83M757.17 183.11V194.12M757.83 183.11V195.12M757.83 177.35V183.28M757.59 183.28H758.07M757.59 183.28V198.37M758.07 183.28V196.75M758.17 177.65V185.80M757.90 185.80H758.43M757.90 185.80V199.19M758.43 185.80V199.28M758.50 177.95V183.24M758.13 183.24H758.87M758.13 183.24V194.47M758.87 183.24V192.97M758.83 177.95V184.67M758.62 184.67H759.04M758.62 184.67V198.92M759.04 184.67V195.11M758.50 177.95H758.83M758.67 177.65V177.95M758.17 177.65H758.67M758.42 177.35V177.65M757.83 177.35H758.42M758.12 177.05V177.35M757.50 177.05H758.12M757.81 174.28V177.05M757.00 174.28H757.81M757.41 173.98V174.28M759.17 174.58V185.09M758.93 185.09H759.40M758.93 185.09V198.03M759.40 185.09V200.69M759.50 174.58V188.00M759.12 188.00H759.88M759.12 188.00V199.96M759.88 188.00V199.57M759.17 174.58H759.50M759.33 174.28V174.58M759.83 174.88V187.88M759.51 187.88H760.16M759.51 187.88V199.26M760.16 187.88V202.88M760.17 175.18V182.62M759.96 182.62H760.37M759.96 182.62V193.89M760.37 182.62V197.63M760.50 175.18V186.37M760.03 186.37H760.97M760.03 186.37V199.57M760.97 186.37V199.05M760.17 175.18H760.50M760.33 174.88V175.18M759.83 174.88H760.33M760.08 174.58V174.88M760.83 177.40V185.31M760.46 185.31H761.21M760.46 185.31V199.86M761.21 185.31V199.66M761.17 178.00V183.81M760.76 183.81H761.58M760.76 183.81V196.19M761.58 183.81V197.15M761.50 178.00V183.28M761.08 183.28H761.92M761.08 183.28V195.69M761.92 183.28V193.02M761.17 178.00H761.50M761.33 177.70V178.00M761.83 177.70V184.74M761.54 184.74H762.13M761.54 184.74V196.46M762.13 184.74V196.61M761.33 177.70H761.83M761.58 177.40V177.70M760.83 177.40H761.58M761.21 174.58V177.40M760.08 174.58H761.21M760.65 174.28V174.58M759.33 174.28H760.65M759.99 173.98V174.28M757.41 173.98H759.99M758.70 173.68V173.98M755.54 173.68H758.70M757.12 160.00V173.68M752.80 160.00H757.12M762.17 173.81V187.32M761.75 187.32H762.58M761.75 187.32V200.77M762.58 187.32V200.34M762.50 173.81V187.75M762.29 187.75H762.71M762.29 187.75V198.08M762.71 187.75V197.75M762.17 173.81H762.50M762.33 173.51V173.81M762.83 173.51V182.04M762.50 182.04H763.16M762.50 182.04V197.34M763.16 182.04V194.28M762.33 173.51H762.83M762.58 172.17V173.51M763.17 172.17V182.95M762.96 182.95H763.38M762.96 182.95V193.77M763.38 182.95V197.28M762.58 172.17H763.17M762.88 170.93V172.17M763.50 174.48V182.95M763.11 182.95H763.89M763.11 182.95V192.90M763.89 182.95V197.06M763.83 177.06V184.34M763.49 184.34H764.18M763.49 184.34V195.67M764.18 184.34V197.27M764.17 178.53V185.48M763.94 185.48H764.39M763.94 185.48V196.24M764.39 185.48V196.07M764.50 178.83V183.87M764.17 183.87H764.83M764.17 183.87V196.50M764.83 183.87V194.12M764.83 178.83V187.66M764.34 187.66H765.33M764.34 187.66V200.57M765.33 187.66V202.05M764.50 178.83H764.83M764.67 178.53V178.83M764.17 178.53H764.67M764.42 177.06V178.53M763.83 177.06H764.42M764.12 174.48V177.06M763.50 174.48H764.12M763.81 170.93V174.48M762.88 170.93H763.81M763.34 165.00V170.93M765.17 177.38V183.37M764.72 183.37H765.61M764.72 183.37V195.40M765.61 183.37V195.09M765.50 179.01V186.80M765.07 186.80H765.93M765.07 186.80V197.70M765.93 186.80V202.29M765.83 179.01V184.48M765.48 184.48H766.19M765.48 184.48V196.49M766.19 184.48V198.38M765.50 179.01H765.83M765.67 178.71V179.01M766.17 179.01V183.12M765.72 183.12H766.61M765.72 183.12V199.03M766.61 183.12V197.72M766.50 179.01V185.40M766.22 185.40H766.78M766.22 185.40V195.73M766.78 185.40V197.40M766.17 179.01H766.50M766.33 178.71V179.01M765.67 178.71H766.33M766.00 177.38V178.71M765.17 177.38H766.00M765.58 177.08V177.38M766.83 177.38V183.22M766.59 183.22H767.07M766.59 183.22V198.00M767.07 183.22V196.94M767.17 178.57V184.02M766.84 184.02H767.49M766.84 184.02V194.75M767.49 184.02V198.80M767.50 178.57V185.65M767.20 185.65H767.80M767.20 185.65V196.99M767.80 185.65V200.76M767.17 178.57H767.50M767.33 177.38V178.57M766.83 177.38H767.33M767.08 177.08V177.38M765.58 177.08H767.08M766.33 176.78V177.08M767.83 179.37V185.79M767.54 185.79H768.13M767.54 185.79V195.86M768.13 185.79V198.44M768.17 179.67V185.91M767.92 185.91H768.41M767.92 185.91V196.64M768.41 185.91V198.86M768.50 179.67V183.27M768.10 183.27H768.90M768.10 183.27V194.76M768.90 183.27V197.81M768.17 179.67H768.50M768.33 179.37V179.67M767.83 179.37H768.33M768.08 176.78V179.37M766.33 176.78H768.08M767.21 175.83V176.78M768.83 179.53V186.78M768.38 186.78H769.29M768.38 186.78V200.35M769.29 186.78V202.54M769.17 179.53V186.98M768.96 186.98H769.37M768.96 186.98V202.49M769.37 186.98V202.40M768.83 179.53H769.17M769.00 176.13V179.53M769.50 178.60V184.16M769.27 184.16H769.73M769.27 184.16V199.52M769.73 184.16V199.02M769.83 178.60V185.79M769.40 185.79H770.26M769.40 185.79V196.03M770.26 185.79V201.18M769.50 178.60H769.83M769.67 176.13V178.60M769.00 176.13H769.67M769.33 175.83V176.13M767.21 175.83H769.33M768.27 175.53V175.83M770.17 178.71V182.46M769.71 182.46H770.62M769.71 182.46V196.84M770.62 182.46V197.32M770.50 179.01V187.59M770.03 187.59H770.97M770.03 187.59V202.81M770.97 187.59V202.30M770.83 179.31V183.67M770.48 183.67H771.18M770.48 183.67V199.39M771.18 183.67V195.30M771.17 179.31V186.19M770.81 186.19H771.52M770.81 186.19V198.91M771.52 186.19V198.23M770.83 179.31H771.17M771.00 179.01V179.31M770.50 179.01H771.00M770.75 178.71V179.01M770.17 178.71H770.75M770.46 178.41V178.71M771.50 179.01V182.92M771.27 182.92H771.73M771.27 182.92V197.30M771.73 182.92V197.89M771.83 179.78V186.52M771.49 186.52H772.18M771.49 186.52V200.24M772.18 186.52V201.10M772.17 179.78V183.84M771.86 183.84H772.48M771.86 183.84V196.43M772.48 183.84V194.32M771.83 179.78H772.17M772.00 179.01V179.78M771.50 179.01H772.00M771.75 178.71V179.01M772.50 179.01V185.73M772.30 185.73H772.70M772.30 185.73V201.48M772.70 185.73V197.57M772.83 179.01V185.40M772.39 185.40H773.27M772.39 185.40V198.07M773.27 185.40V200.49M772.50 179.01H772.83M772.67 178.71V179.01M771.75 178.71H772.67M772.21 178.41V178.71M770.46 178.41H772.21M771.33 175.53V178.41M768.27 175.53H771.33M769.80 165.00V175.53M763.34 165.00H769.80" stroke="rgb(0,0,0)" stroke-width="0.45" fill="none"/>
<rect x="40" y="188" width="198.5" height="16.5" fill="#0c0c0c"/>
</svg></body></html>
